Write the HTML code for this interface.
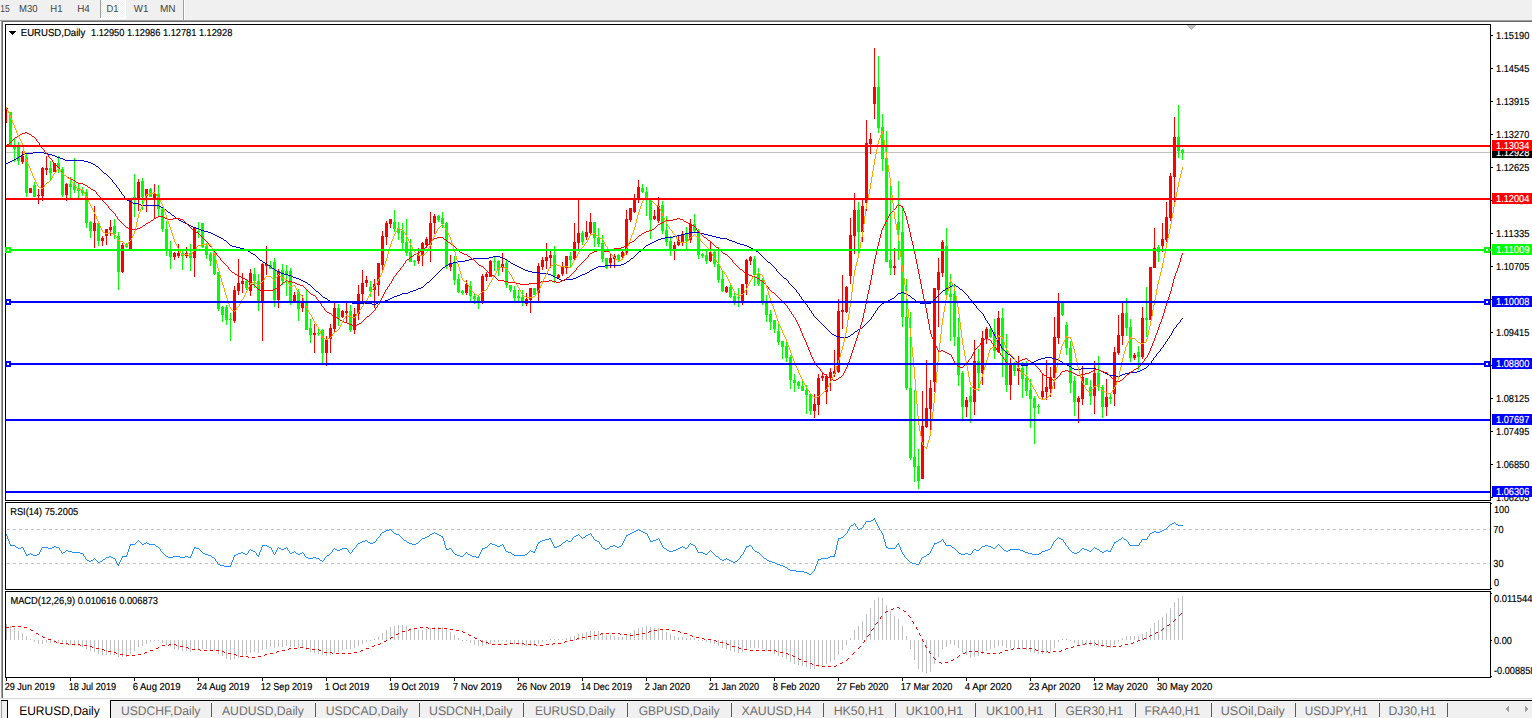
<!DOCTYPE html>
<html><head><meta charset="utf-8"><title>EURUSD,Daily</title>
<style>html,body{margin:0;padding:0;background:#fff;overflow:hidden}svg{display:block;font-family:"Liberation Sans",sans-serif}text{white-space:pre;text-rendering:geometricPrecision}</style>
</head><body>
<svg width="1532" height="718" viewBox="0 0 1532 718" shape-rendering="crispEdges" font-family="Liberation Sans, sans-serif"><rect x="0" y="0" width="1532" height="718" fill="#fff"/>
<rect x="0" y="0" width="1532" height="20" fill="#f0f0f0"/>
<rect x="0" y="20" width="1532" height="1" fill="#a0a0a0"/>
<rect x="2" y="21" width="1530" height="1" fill="#696969"/>
<rect x="0" y="21" width="1" height="678" fill="#fafafa"/>
<rect x="1" y="21" width="1" height="678" fill="#a0a0a0"/>
<rect x="2" y="22" width="1" height="677" fill="#696969"/>
<text x="0.3" y="12" font-size="10.17" fill="#444" textLength="9.4" lengthAdjust="spacingAndGlyphs">15</text>
<text x="19" y="12" font-size="10.17" fill="#444" textLength="18.6" lengthAdjust="spacingAndGlyphs">M30</text>
<text x="50.3" y="12" font-size="10.17" fill="#444" textLength="12.2" lengthAdjust="spacingAndGlyphs">H1</text>
<text x="77.2" y="12" font-size="10.17" fill="#444" textLength="12.6" lengthAdjust="spacingAndGlyphs">H4</text>
<rect x="100" y="0" width="1" height="18" fill="#a0a0a0"/>
<pattern id="ck" width="2" height="2" patternUnits="userSpaceOnUse"><rect width="2" height="2" fill="#f0f0f0"/><rect width="1" height="1" fill="#fff"/><rect x="1" y="1" width="1" height="1" fill="#fff"/></pattern>
<rect x="101" y="0" width="24" height="18" fill="url(#ck)"/>
<rect x="125" y="0" width="1" height="19" fill="#fff"/>
<rect x="100" y="18" width="26" height="1" fill="#fff"/>
<text x="106.6" y="12" font-size="10.17" fill="#444" textLength="12" lengthAdjust="spacingAndGlyphs">D1</text>
<text x="133.8" y="12" font-size="10.17" fill="#444" textLength="14.6" lengthAdjust="spacingAndGlyphs">W1</text>
<text x="160" y="12" font-size="10.17" fill="#444" textLength="15.6" lengthAdjust="spacingAndGlyphs">MN</text>
<rect x="183" y="0" width="1" height="20" fill="#a0a0a0"/>
<rect x="184" y="0" width="1" height="20" fill="#fff"/>
<rect x="5" y="24" width="1486" height="1" fill="#000"/>
<rect x="5" y="24" width="1" height="477" fill="#000"/>
<rect x="1490" y="24" width="1" height="477" fill="#000"/>
<rect x="5" y="500" width="1486" height="1" fill="#000"/>
<rect x="5" y="502" width="1486" height="1" fill="#000"/>
<rect x="5" y="502" width="1" height="88" fill="#000"/>
<rect x="1490" y="502" width="1" height="88" fill="#000"/>
<rect x="5" y="589" width="1486" height="1" fill="#000"/>
<rect x="5" y="591" width="1486" height="1" fill="#000"/>
<rect x="5" y="591" width="1" height="87" fill="#000"/>
<rect x="1490" y="591" width="1" height="87" fill="#000"/>
<rect x="5" y="677" width="1486" height="1" fill="#000"/>
<clipPath id="cm"><rect x="6" y="25" width="1484" height="475"/></clipPath>
<g clip-path="url(#cm)">
<rect x="6" y="152" width="1484" height="1" fill="#c0c0c0"/>
<rect x="6" y="109" width="1" height="14" fill="#ff0000"/>
<rect x="7" y="108" width="1" height="1" fill="#ff0000"/>
<rect x="10" y="112" width="1" height="35" fill="#00ff00"/>
<rect x="9" y="112" width="3" height="34" fill="#00ff00"/>
<rect x="14" y="138" width="1" height="24" fill="#00ff00"/>
<rect x="13" y="146" width="3" height="3" fill="#00ff00"/>
<rect x="18" y="142" width="1" height="23" fill="#00ff00"/>
<rect x="17" y="147" width="3" height="14" fill="#00ff00"/>
<rect x="22" y="151" width="1" height="13" fill="#ff0000"/>
<rect x="21" y="156" width="3" height="6" fill="#ff0000"/>
<rect x="26" y="154" width="1" height="43" fill="#00ff00"/>
<rect x="25" y="157" width="3" height="36" fill="#00ff00"/>
<rect x="30" y="188" width="1" height="5" fill="#ff0000"/>
<rect x="29" y="188" width="3" height="5" fill="#ff0000"/>
<rect x="34" y="182" width="1" height="15" fill="#00ff00"/>
<rect x="33" y="185" width="3" height="12" fill="#00ff00"/>
<rect x="38" y="189" width="1" height="15" fill="#ff0000"/>
<rect x="37" y="195" width="3" height="1" fill="#ff0000"/>
<rect x="42" y="167" width="1" height="34" fill="#ff0000"/>
<rect x="41" y="168" width="3" height="28" fill="#ff0000"/>
<rect x="46" y="156" width="1" height="19" fill="#ff0000"/>
<rect x="45" y="168" width="3" height="2" fill="#ff0000"/>
<rect x="50" y="161" width="1" height="19" fill="#00ff00"/>
<rect x="49" y="168" width="3" height="5" fill="#00ff00"/>
<rect x="54" y="163" width="1" height="9" fill="#ff0000"/>
<rect x="53" y="163" width="3" height="9" fill="#ff0000"/>
<rect x="58" y="156" width="1" height="17" fill="#00ff00"/>
<rect x="57" y="163" width="3" height="5" fill="#00ff00"/>
<rect x="62" y="167" width="1" height="30" fill="#00ff00"/>
<rect x="61" y="169" width="3" height="26" fill="#00ff00"/>
<rect x="66" y="183" width="1" height="18" fill="#ff0000"/>
<rect x="65" y="184" width="3" height="11" fill="#ff0000"/>
<rect x="70" y="177" width="1" height="21" fill="#00ff00"/>
<rect x="69" y="184" width="3" height="3" fill="#00ff00"/>
<rect x="74" y="158" width="1" height="35" fill="#00ff00"/>
<rect x="73" y="185" width="3" height="5" fill="#00ff00"/>
<rect x="78" y="184" width="1" height="14" fill="#00ff00"/>
<rect x="77" y="188" width="3" height="3" fill="#00ff00"/>
<rect x="82" y="187" width="1" height="9" fill="#00ff00"/>
<rect x="81" y="190" width="3" height="3" fill="#00ff00"/>
<rect x="86" y="189" width="1" height="39" fill="#00ff00"/>
<rect x="85" y="192" width="3" height="31" fill="#00ff00"/>
<rect x="90" y="221" width="1" height="17" fill="#00ff00"/>
<rect x="89" y="222" width="3" height="9" fill="#00ff00"/>
<rect x="94" y="206" width="1" height="42" fill="#ff0000"/>
<rect x="93" y="223" width="3" height="8" fill="#ff0000"/>
<rect x="98" y="223" width="1" height="23" fill="#00ff00"/>
<rect x="97" y="223" width="3" height="18" fill="#00ff00"/>
<rect x="102" y="236" width="1" height="10" fill="#ff0000"/>
<rect x="101" y="238" width="3" height="3" fill="#ff0000"/>
<rect x="106" y="229" width="1" height="16" fill="#ff0000"/>
<rect x="105" y="229" width="3" height="7" fill="#ff0000"/>
<rect x="110" y="220" width="1" height="16" fill="#ff0000"/>
<rect x="109" y="227" width="3" height="3" fill="#ff0000"/>
<rect x="114" y="219" width="1" height="20" fill="#00ff00"/>
<rect x="113" y="226" width="3" height="8" fill="#00ff00"/>
<rect x="118" y="232" width="1" height="58" fill="#00ff00"/>
<rect x="117" y="236" width="3" height="36" fill="#00ff00"/>
<rect x="122" y="243" width="1" height="30" fill="#ff0000"/>
<rect x="121" y="245" width="3" height="27" fill="#ff0000"/>
<rect x="126" y="243" width="1" height="5" fill="#00ff00"/>
<rect x="125" y="245" width="3" height="2" fill="#00ff00"/>
<rect x="130" y="200" width="1" height="49" fill="#ff0000"/>
<rect x="129" y="200" width="3" height="49" fill="#ff0000"/>
<rect x="134" y="174" width="1" height="43" fill="#00ff00"/>
<rect x="133" y="197" width="3" height="3" fill="#00ff00"/>
<rect x="138" y="179" width="1" height="32" fill="#ff0000"/>
<rect x="137" y="182" width="3" height="16" fill="#ff0000"/>
<rect x="142" y="178" width="1" height="32" fill="#00ff00"/>
<rect x="141" y="181" width="3" height="16" fill="#00ff00"/>
<rect x="146" y="189" width="1" height="23" fill="#ff0000"/>
<rect x="145" y="189" width="3" height="7" fill="#ff0000"/>
<rect x="150" y="188" width="1" height="9" fill="#00ff00"/>
<rect x="149" y="189" width="3" height="8" fill="#00ff00"/>
<rect x="154" y="184" width="1" height="34" fill="#ff0000"/>
<rect x="153" y="194" width="3" height="4" fill="#ff0000"/>
<rect x="158" y="185" width="1" height="31" fill="#00ff00"/>
<rect x="157" y="194" width="3" height="15" fill="#00ff00"/>
<rect x="162" y="207" width="1" height="25" fill="#00ff00"/>
<rect x="161" y="209" width="3" height="20" fill="#00ff00"/>
<rect x="166" y="221" width="1" height="35" fill="#00ff00"/>
<rect x="165" y="229" width="3" height="22" fill="#00ff00"/>
<rect x="170" y="241" width="1" height="28" fill="#00ff00"/>
<rect x="169" y="251" width="3" height="6" fill="#00ff00"/>
<rect x="174" y="252" width="1" height="8" fill="#ff0000"/>
<rect x="173" y="253" width="3" height="4" fill="#ff0000"/>
<rect x="178" y="244" width="1" height="14" fill="#ff0000"/>
<rect x="177" y="253" width="3" height="3" fill="#ff0000"/>
<rect x="182" y="251" width="1" height="19" fill="#00ff00"/>
<rect x="181" y="253" width="3" height="3" fill="#00ff00"/>
<rect x="186" y="247" width="1" height="11" fill="#ff0000"/>
<rect x="185" y="253" width="3" height="3" fill="#ff0000"/>
<rect x="190" y="244" width="1" height="27" fill="#00ff00"/>
<rect x="189" y="253" width="3" height="5" fill="#00ff00"/>
<rect x="194" y="227" width="1" height="50" fill="#ff0000"/>
<rect x="193" y="227" width="3" height="31" fill="#ff0000"/>
<rect x="198" y="222" width="1" height="16" fill="#00ff00"/>
<rect x="197" y="231" width="3" height="1" fill="#00ff00"/>
<rect x="202" y="223" width="1" height="25" fill="#00ff00"/>
<rect x="201" y="223" width="3" height="24" fill="#00ff00"/>
<rect x="206" y="243" width="1" height="16" fill="#00ff00"/>
<rect x="205" y="246" width="3" height="9" fill="#00ff00"/>
<rect x="210" y="252" width="1" height="14" fill="#00ff00"/>
<rect x="209" y="254" width="3" height="7" fill="#00ff00"/>
<rect x="214" y="252" width="1" height="23" fill="#00ff00"/>
<rect x="213" y="252" width="3" height="22" fill="#00ff00"/>
<rect x="218" y="272" width="1" height="39" fill="#00ff00"/>
<rect x="217" y="272" width="3" height="37" fill="#00ff00"/>
<rect x="222" y="306" width="1" height="16" fill="#00ff00"/>
<rect x="221" y="307" width="3" height="8" fill="#00ff00"/>
<rect x="226" y="305" width="1" height="20" fill="#00ff00"/>
<rect x="225" y="307" width="3" height="13" fill="#00ff00"/>
<rect x="230" y="313" width="1" height="28" fill="#00ff00"/>
<rect x="229" y="319" width="3" height="1" fill="#00ff00"/>
<rect x="234" y="286" width="1" height="37" fill="#ff0000"/>
<rect x="233" y="290" width="3" height="31" fill="#ff0000"/>
<rect x="238" y="259" width="1" height="36" fill="#ff0000"/>
<rect x="237" y="283" width="3" height="8" fill="#ff0000"/>
<rect x="242" y="273" width="1" height="20" fill="#ff0000"/>
<rect x="241" y="281" width="3" height="3" fill="#ff0000"/>
<rect x="246" y="279" width="1" height="11" fill="#00ff00"/>
<rect x="245" y="281" width="3" height="7" fill="#00ff00"/>
<rect x="250" y="269" width="1" height="27" fill="#ff0000"/>
<rect x="249" y="273" width="3" height="18" fill="#ff0000"/>
<rect x="254" y="268" width="1" height="20" fill="#00ff00"/>
<rect x="253" y="274" width="3" height="7" fill="#00ff00"/>
<rect x="258" y="274" width="1" height="37" fill="#00ff00"/>
<rect x="257" y="281" width="3" height="20" fill="#00ff00"/>
<rect x="262" y="263" width="1" height="78" fill="#ff0000"/>
<rect x="261" y="264" width="3" height="37" fill="#ff0000"/>
<rect x="266" y="246" width="1" height="29" fill="#ff0000"/>
<rect x="265" y="264" width="3" height="2" fill="#ff0000"/>
<rect x="270" y="261" width="1" height="8" fill="#00ff00"/>
<rect x="269" y="265" width="3" height="4" fill="#00ff00"/>
<rect x="274" y="258" width="1" height="49" fill="#00ff00"/>
<rect x="273" y="262" width="3" height="38" fill="#00ff00"/>
<rect x="278" y="269" width="1" height="39" fill="#ff0000"/>
<rect x="277" y="271" width="3" height="29" fill="#ff0000"/>
<rect x="282" y="264" width="1" height="21" fill="#00ff00"/>
<rect x="281" y="270" width="3" height="11" fill="#00ff00"/>
<rect x="286" y="265" width="1" height="31" fill="#00ff00"/>
<rect x="285" y="271" width="3" height="4" fill="#00ff00"/>
<rect x="290" y="268" width="1" height="37" fill="#00ff00"/>
<rect x="289" y="271" width="3" height="30" fill="#00ff00"/>
<rect x="294" y="292" width="1" height="9" fill="#ff0000"/>
<rect x="293" y="295" width="3" height="6" fill="#ff0000"/>
<rect x="298" y="289" width="1" height="32" fill="#00ff00"/>
<rect x="297" y="292" width="3" height="17" fill="#00ff00"/>
<rect x="302" y="295" width="1" height="17" fill="#ff0000"/>
<rect x="301" y="302" width="3" height="6" fill="#ff0000"/>
<rect x="306" y="290" width="1" height="40" fill="#00ff00"/>
<rect x="305" y="303" width="3" height="27" fill="#00ff00"/>
<rect x="310" y="319" width="1" height="24" fill="#00ff00"/>
<rect x="309" y="328" width="3" height="7" fill="#00ff00"/>
<rect x="314" y="324" width="1" height="29" fill="#ff0000"/>
<rect x="313" y="333" width="3" height="2" fill="#ff0000"/>
<rect x="318" y="328" width="1" height="8" fill="#00ff00"/>
<rect x="317" y="333" width="3" height="1" fill="#00ff00"/>
<rect x="322" y="329" width="1" height="35" fill="#00ff00"/>
<rect x="321" y="330" width="3" height="23" fill="#00ff00"/>
<rect x="326" y="336" width="1" height="30" fill="#ff0000"/>
<rect x="325" y="339" width="3" height="14" fill="#ff0000"/>
<rect x="330" y="324" width="1" height="29" fill="#ff0000"/>
<rect x="329" y="328" width="3" height="11" fill="#ff0000"/>
<rect x="334" y="303" width="1" height="29" fill="#ff0000"/>
<rect x="333" y="308" width="3" height="21" fill="#ff0000"/>
<rect x="338" y="304" width="1" height="22" fill="#00ff00"/>
<rect x="337" y="308" width="3" height="10" fill="#00ff00"/>
<rect x="342" y="310" width="1" height="8" fill="#ff0000"/>
<rect x="341" y="311" width="3" height="6" fill="#ff0000"/>
<rect x="346" y="303" width="1" height="20" fill="#ff0000"/>
<rect x="345" y="311" width="3" height="2" fill="#ff0000"/>
<rect x="350" y="305" width="1" height="27" fill="#00ff00"/>
<rect x="349" y="311" width="3" height="19" fill="#00ff00"/>
<rect x="354" y="308" width="1" height="26" fill="#ff0000"/>
<rect x="353" y="314" width="3" height="16" fill="#ff0000"/>
<rect x="358" y="285" width="1" height="35" fill="#ff0000"/>
<rect x="357" y="294" width="3" height="20" fill="#ff0000"/>
<rect x="362" y="270" width="1" height="31" fill="#ff0000"/>
<rect x="361" y="283" width="3" height="11" fill="#ff0000"/>
<rect x="366" y="276" width="1" height="11" fill="#ff0000"/>
<rect x="365" y="280" width="3" height="3" fill="#ff0000"/>
<rect x="370" y="281" width="1" height="16" fill="#00ff00"/>
<rect x="369" y="287" width="3" height="4" fill="#00ff00"/>
<rect x="374" y="279" width="1" height="29" fill="#ff0000"/>
<rect x="373" y="284" width="3" height="6" fill="#ff0000"/>
<rect x="378" y="263" width="1" height="33" fill="#ff0000"/>
<rect x="377" y="263" width="3" height="22" fill="#ff0000"/>
<rect x="382" y="231" width="1" height="39" fill="#ff0000"/>
<rect x="381" y="236" width="3" height="29" fill="#ff0000"/>
<rect x="386" y="221" width="1" height="24" fill="#ff0000"/>
<rect x="385" y="223" width="3" height="14" fill="#ff0000"/>
<rect x="390" y="219" width="1" height="9" fill="#ff0000"/>
<rect x="389" y="219" width="3" height="5" fill="#ff0000"/>
<rect x="394" y="210" width="1" height="22" fill="#00ff00"/>
<rect x="393" y="222" width="3" height="7" fill="#00ff00"/>
<rect x="398" y="222" width="1" height="18" fill="#00ff00"/>
<rect x="397" y="228" width="3" height="5" fill="#00ff00"/>
<rect x="402" y="223" width="1" height="26" fill="#00ff00"/>
<rect x="401" y="231" width="3" height="12" fill="#00ff00"/>
<rect x="406" y="219" width="1" height="37" fill="#00ff00"/>
<rect x="405" y="242" width="3" height="11" fill="#00ff00"/>
<rect x="410" y="239" width="1" height="23" fill="#00ff00"/>
<rect x="409" y="252" width="3" height="10" fill="#00ff00"/>
<rect x="414" y="260" width="1" height="6" fill="#00ff00"/>
<rect x="413" y="261" width="3" height="1" fill="#00ff00"/>
<rect x="418" y="248" width="1" height="16" fill="#ff0000"/>
<rect x="417" y="255" width="3" height="6" fill="#ff0000"/>
<rect x="422" y="242" width="1" height="24" fill="#ff0000"/>
<rect x="421" y="243" width="3" height="13" fill="#ff0000"/>
<rect x="426" y="237" width="1" height="11" fill="#ff0000"/>
<rect x="425" y="239" width="3" height="6" fill="#ff0000"/>
<rect x="430" y="212" width="1" height="50" fill="#ff0000"/>
<rect x="429" y="223" width="3" height="22" fill="#ff0000"/>
<rect x="434" y="214" width="1" height="20" fill="#ff0000"/>
<rect x="433" y="216" width="3" height="7" fill="#ff0000"/>
<rect x="438" y="215" width="1" height="7" fill="#00ff00"/>
<rect x="437" y="216" width="3" height="4" fill="#00ff00"/>
<rect x="442" y="212" width="1" height="16" fill="#00ff00"/>
<rect x="441" y="218" width="3" height="6" fill="#00ff00"/>
<rect x="446" y="222" width="1" height="47" fill="#00ff00"/>
<rect x="445" y="223" width="3" height="43" fill="#00ff00"/>
<rect x="450" y="255" width="1" height="16" fill="#ff0000"/>
<rect x="449" y="263" width="3" height="4" fill="#ff0000"/>
<rect x="454" y="256" width="1" height="29" fill="#00ff00"/>
<rect x="453" y="263" width="3" height="17" fill="#00ff00"/>
<rect x="458" y="274" width="1" height="19" fill="#00ff00"/>
<rect x="457" y="279" width="3" height="13" fill="#00ff00"/>
<rect x="462" y="290" width="1" height="5" fill="#00ff00"/>
<rect x="461" y="291" width="3" height="2" fill="#00ff00"/>
<rect x="466" y="280" width="1" height="15" fill="#ff0000"/>
<rect x="465" y="284" width="3" height="9" fill="#ff0000"/>
<rect x="470" y="281" width="1" height="20" fill="#00ff00"/>
<rect x="469" y="286" width="3" height="10" fill="#00ff00"/>
<rect x="474" y="293" width="1" height="11" fill="#00ff00"/>
<rect x="473" y="296" width="3" height="3" fill="#00ff00"/>
<rect x="478" y="295" width="1" height="14" fill="#00ff00"/>
<rect x="477" y="297" width="3" height="4" fill="#00ff00"/>
<rect x="482" y="274" width="1" height="30" fill="#ff0000"/>
<rect x="481" y="276" width="3" height="25" fill="#ff0000"/>
<rect x="486" y="272" width="1" height="9" fill="#ff0000"/>
<rect x="485" y="274" width="3" height="3" fill="#ff0000"/>
<rect x="490" y="260" width="1" height="17" fill="#ff0000"/>
<rect x="489" y="261" width="3" height="16" fill="#ff0000"/>
<rect x="494" y="257" width="1" height="14" fill="#00ff00"/>
<rect x="493" y="261" width="3" height="1" fill="#00ff00"/>
<rect x="498" y="260" width="1" height="16" fill="#00ff00"/>
<rect x="497" y="261" width="3" height="9" fill="#00ff00"/>
<rect x="502" y="253" width="1" height="19" fill="#ff0000"/>
<rect x="501" y="264" width="3" height="4" fill="#ff0000"/>
<rect x="506" y="259" width="1" height="29" fill="#00ff00"/>
<rect x="505" y="263" width="3" height="22" fill="#00ff00"/>
<rect x="510" y="285" width="1" height="7" fill="#00ff00"/>
<rect x="509" y="285" width="3" height="5" fill="#00ff00"/>
<rect x="514" y="286" width="1" height="15" fill="#00ff00"/>
<rect x="513" y="290" width="3" height="8" fill="#00ff00"/>
<rect x="518" y="290" width="1" height="11" fill="#00ff00"/>
<rect x="517" y="296" width="3" height="2" fill="#00ff00"/>
<rect x="522" y="290" width="1" height="16" fill="#00ff00"/>
<rect x="521" y="297" width="3" height="4" fill="#00ff00"/>
<rect x="526" y="293" width="1" height="13" fill="#ff0000"/>
<rect x="525" y="299" width="3" height="5" fill="#ff0000"/>
<rect x="530" y="288" width="1" height="25" fill="#ff0000"/>
<rect x="529" y="288" width="3" height="12" fill="#ff0000"/>
<rect x="534" y="288" width="1" height="7" fill="#00ff00"/>
<rect x="533" y="288" width="3" height="7" fill="#00ff00"/>
<rect x="538" y="263" width="1" height="38" fill="#ff0000"/>
<rect x="537" y="266" width="3" height="27" fill="#ff0000"/>
<rect x="542" y="257" width="1" height="13" fill="#ff0000"/>
<rect x="541" y="260" width="3" height="7" fill="#ff0000"/>
<rect x="546" y="243" width="1" height="26" fill="#ff0000"/>
<rect x="545" y="257" width="3" height="4" fill="#ff0000"/>
<rect x="550" y="251" width="1" height="17" fill="#ff0000"/>
<rect x="549" y="255" width="3" height="3" fill="#ff0000"/>
<rect x="554" y="246" width="1" height="37" fill="#00ff00"/>
<rect x="553" y="255" width="3" height="21" fill="#00ff00"/>
<rect x="558" y="274" width="1" height="5" fill="#ff0000"/>
<rect x="557" y="275" width="3" height="3" fill="#ff0000"/>
<rect x="562" y="262" width="1" height="14" fill="#ff0000"/>
<rect x="561" y="267" width="3" height="7" fill="#ff0000"/>
<rect x="566" y="256" width="1" height="18" fill="#ff0000"/>
<rect x="565" y="256" width="3" height="12" fill="#ff0000"/>
<rect x="570" y="252" width="1" height="15" fill="#00ff00"/>
<rect x="569" y="256" width="3" height="4" fill="#00ff00"/>
<rect x="574" y="223" width="1" height="37" fill="#ff0000"/>
<rect x="573" y="242" width="3" height="17" fill="#ff0000"/>
<rect x="578" y="200" width="1" height="50" fill="#ff0000"/>
<rect x="577" y="233" width="3" height="10" fill="#ff0000"/>
<rect x="582" y="231" width="1" height="14" fill="#00ff00"/>
<rect x="581" y="233" width="3" height="9" fill="#00ff00"/>
<rect x="586" y="221" width="1" height="19" fill="#ff0000"/>
<rect x="585" y="232" width="3" height="5" fill="#ff0000"/>
<rect x="590" y="213" width="1" height="21" fill="#ff0000"/>
<rect x="589" y="222" width="3" height="11" fill="#ff0000"/>
<rect x="594" y="222" width="1" height="25" fill="#00ff00"/>
<rect x="593" y="222" width="3" height="16" fill="#00ff00"/>
<rect x="598" y="228" width="1" height="19" fill="#00ff00"/>
<rect x="597" y="238" width="3" height="6" fill="#00ff00"/>
<rect x="602" y="235" width="1" height="27" fill="#00ff00"/>
<rect x="601" y="243" width="3" height="16" fill="#00ff00"/>
<rect x="606" y="258" width="1" height="11" fill="#00ff00"/>
<rect x="605" y="258" width="3" height="10" fill="#00ff00"/>
<rect x="610" y="254" width="1" height="14" fill="#ff0000"/>
<rect x="609" y="258" width="3" height="5" fill="#ff0000"/>
<rect x="614" y="254" width="1" height="14" fill="#ff0000"/>
<rect x="613" y="256" width="3" height="3" fill="#ff0000"/>
<rect x="618" y="254" width="1" height="8" fill="#00ff00"/>
<rect x="617" y="255" width="3" height="5" fill="#00ff00"/>
<rect x="622" y="251" width="1" height="9" fill="#ff0000"/>
<rect x="621" y="252" width="3" height="5" fill="#ff0000"/>
<rect x="626" y="210" width="1" height="45" fill="#ff0000"/>
<rect x="625" y="219" width="3" height="34" fill="#ff0000"/>
<rect x="630" y="208" width="1" height="14" fill="#ff0000"/>
<rect x="629" y="208" width="3" height="12" fill="#ff0000"/>
<rect x="634" y="194" width="1" height="19" fill="#ff0000"/>
<rect x="633" y="200" width="3" height="12" fill="#ff0000"/>
<rect x="638" y="180" width="1" height="23" fill="#ff0000"/>
<rect x="637" y="187" width="3" height="12" fill="#ff0000"/>
<rect x="642" y="184" width="1" height="9" fill="#00ff00"/>
<rect x="641" y="188" width="3" height="4" fill="#00ff00"/>
<rect x="646" y="187" width="1" height="29" fill="#00ff00"/>
<rect x="645" y="192" width="3" height="6" fill="#00ff00"/>
<rect x="650" y="199" width="1" height="40" fill="#00ff00"/>
<rect x="649" y="200" width="3" height="20" fill="#00ff00"/>
<rect x="654" y="210" width="1" height="10" fill="#ff0000"/>
<rect x="653" y="216" width="3" height="3" fill="#ff0000"/>
<rect x="658" y="197" width="1" height="26" fill="#ff0000"/>
<rect x="657" y="206" width="3" height="15" fill="#ff0000"/>
<rect x="662" y="201" width="1" height="33" fill="#00ff00"/>
<rect x="661" y="205" width="3" height="26" fill="#00ff00"/>
<rect x="666" y="216" width="1" height="30" fill="#00ff00"/>
<rect x="665" y="230" width="3" height="12" fill="#00ff00"/>
<rect x="670" y="236" width="1" height="20" fill="#00ff00"/>
<rect x="669" y="241" width="3" height="8" fill="#00ff00"/>
<rect x="674" y="242" width="1" height="18" fill="#ff0000"/>
<rect x="673" y="245" width="3" height="4" fill="#ff0000"/>
<rect x="678" y="236" width="1" height="10" fill="#ff0000"/>
<rect x="677" y="240" width="3" height="5" fill="#ff0000"/>
<rect x="682" y="231" width="1" height="15" fill="#ff0000"/>
<rect x="681" y="234" width="3" height="8" fill="#ff0000"/>
<rect x="686" y="227" width="1" height="22" fill="#00ff00"/>
<rect x="685" y="234" width="3" height="7" fill="#00ff00"/>
<rect x="690" y="219" width="1" height="24" fill="#ff0000"/>
<rect x="689" y="224" width="3" height="16" fill="#ff0000"/>
<rect x="694" y="214" width="1" height="18" fill="#00ff00"/>
<rect x="693" y="224" width="3" height="7" fill="#00ff00"/>
<rect x="698" y="229" width="1" height="30" fill="#00ff00"/>
<rect x="697" y="231" width="3" height="24" fill="#00ff00"/>
<rect x="702" y="253" width="1" height="5" fill="#00ff00"/>
<rect x="701" y="254" width="3" height="2" fill="#00ff00"/>
<rect x="706" y="251" width="1" height="13" fill="#00ff00"/>
<rect x="705" y="255" width="3" height="6" fill="#00ff00"/>
<rect x="710" y="242" width="1" height="20" fill="#ff0000"/>
<rect x="709" y="252" width="3" height="9" fill="#ff0000"/>
<rect x="714" y="251" width="1" height="16" fill="#00ff00"/>
<rect x="713" y="252" width="3" height="12" fill="#00ff00"/>
<rect x="718" y="247" width="1" height="36" fill="#00ff00"/>
<rect x="717" y="264" width="3" height="16" fill="#00ff00"/>
<rect x="722" y="271" width="1" height="21" fill="#00ff00"/>
<rect x="721" y="279" width="3" height="12" fill="#00ff00"/>
<rect x="726" y="286" width="1" height="7" fill="#ff0000"/>
<rect x="725" y="287" width="3" height="5" fill="#ff0000"/>
<rect x="730" y="284" width="1" height="14" fill="#00ff00"/>
<rect x="729" y="287" width="3" height="10" fill="#00ff00"/>
<rect x="734" y="292" width="1" height="13" fill="#00ff00"/>
<rect x="733" y="296" width="3" height="7" fill="#00ff00"/>
<rect x="738" y="288" width="1" height="19" fill="#00ff00"/>
<rect x="737" y="297" width="3" height="1" fill="#00ff00"/>
<rect x="742" y="284" width="1" height="21" fill="#ff0000"/>
<rect x="741" y="284" width="3" height="19" fill="#ff0000"/>
<rect x="746" y="259" width="1" height="36" fill="#ff0000"/>
<rect x="745" y="260" width="3" height="24" fill="#ff0000"/>
<rect x="750" y="256" width="1" height="9" fill="#ff0000"/>
<rect x="749" y="257" width="3" height="4" fill="#ff0000"/>
<rect x="754" y="256" width="1" height="30" fill="#00ff00"/>
<rect x="753" y="259" width="3" height="16" fill="#00ff00"/>
<rect x="758" y="268" width="1" height="18" fill="#00ff00"/>
<rect x="757" y="273" width="3" height="11" fill="#00ff00"/>
<rect x="762" y="278" width="1" height="27" fill="#00ff00"/>
<rect x="761" y="280" width="3" height="21" fill="#00ff00"/>
<rect x="766" y="295" width="1" height="27" fill="#00ff00"/>
<rect x="765" y="302" width="3" height="13" fill="#00ff00"/>
<rect x="770" y="310" width="1" height="20" fill="#00ff00"/>
<rect x="769" y="314" width="3" height="8" fill="#00ff00"/>
<rect x="774" y="320" width="1" height="13" fill="#00ff00"/>
<rect x="773" y="320" width="3" height="9" fill="#00ff00"/>
<rect x="778" y="324" width="1" height="21" fill="#00ff00"/>
<rect x="777" y="331" width="3" height="11" fill="#00ff00"/>
<rect x="782" y="341" width="1" height="18" fill="#00ff00"/>
<rect x="781" y="341" width="3" height="6" fill="#00ff00"/>
<rect x="786" y="341" width="1" height="21" fill="#00ff00"/>
<rect x="785" y="346" width="3" height="12" fill="#00ff00"/>
<rect x="790" y="355" width="1" height="34" fill="#00ff00"/>
<rect x="789" y="357" width="3" height="23" fill="#00ff00"/>
<rect x="794" y="374" width="1" height="18" fill="#00ff00"/>
<rect x="793" y="380" width="3" height="3" fill="#00ff00"/>
<rect x="798" y="381" width="1" height="8" fill="#00ff00"/>
<rect x="797" y="382" width="3" height="4" fill="#00ff00"/>
<rect x="802" y="380" width="1" height="11" fill="#00ff00"/>
<rect x="801" y="386" width="3" height="5" fill="#00ff00"/>
<rect x="806" y="385" width="1" height="29" fill="#00ff00"/>
<rect x="805" y="390" width="3" height="5" fill="#00ff00"/>
<rect x="810" y="393" width="1" height="22" fill="#00ff00"/>
<rect x="809" y="394" width="3" height="17" fill="#00ff00"/>
<rect x="814" y="394" width="1" height="24" fill="#ff0000"/>
<rect x="813" y="404" width="3" height="7" fill="#ff0000"/>
<rect x="818" y="374" width="1" height="41" fill="#ff0000"/>
<rect x="817" y="378" width="3" height="27" fill="#ff0000"/>
<rect x="822" y="372" width="1" height="9" fill="#ff0000"/>
<rect x="821" y="376" width="3" height="2" fill="#ff0000"/>
<rect x="826" y="374" width="1" height="30" fill="#ff0000"/>
<rect x="825" y="376" width="3" height="16" fill="#ff0000"/>
<rect x="830" y="368" width="1" height="23" fill="#ff0000"/>
<rect x="829" y="372" width="3" height="6" fill="#ff0000"/>
<rect x="834" y="350" width="1" height="27" fill="#ff0000"/>
<rect x="833" y="371" width="3" height="3" fill="#ff0000"/>
<rect x="838" y="299" width="1" height="74" fill="#ff0000"/>
<rect x="837" y="311" width="3" height="61" fill="#ff0000"/>
<rect x="842" y="275" width="1" height="54" fill="#ff0000"/>
<rect x="841" y="310" width="3" height="2" fill="#ff0000"/>
<rect x="846" y="286" width="1" height="27" fill="#ff0000"/>
<rect x="845" y="287" width="3" height="25" fill="#ff0000"/>
<rect x="850" y="218" width="1" height="66" fill="#ff0000"/>
<rect x="849" y="235" width="3" height="41" fill="#ff0000"/>
<rect x="854" y="193" width="1" height="61" fill="#ff0000"/>
<rect x="853" y="210" width="3" height="26" fill="#ff0000"/>
<rect x="858" y="202" width="1" height="51" fill="#00ff00"/>
<rect x="857" y="210" width="3" height="22" fill="#00ff00"/>
<rect x="862" y="200" width="1" height="42" fill="#ff0000"/>
<rect x="861" y="206" width="3" height="26" fill="#ff0000"/>
<rect x="866" y="120" width="1" height="91" fill="#ff0000"/>
<rect x="865" y="143" width="3" height="60" fill="#ff0000"/>
<rect x="870" y="133" width="1" height="21" fill="#ff0000"/>
<rect x="869" y="139" width="3" height="5" fill="#ff0000"/>
<rect x="874" y="48" width="1" height="71" fill="#ff0000"/>
<rect x="873" y="87" width="3" height="17" fill="#ff0000"/>
<rect x="878" y="56" width="1" height="77" fill="#00ff00"/>
<rect x="877" y="87" width="3" height="41" fill="#00ff00"/>
<rect x="882" y="114" width="1" height="57" fill="#00ff00"/>
<rect x="881" y="127" width="3" height="32" fill="#00ff00"/>
<rect x="886" y="131" width="1" height="131" fill="#00ff00"/>
<rect x="885" y="158" width="3" height="104" fill="#00ff00"/>
<rect x="890" y="186" width="1" height="89" fill="#00ff00"/>
<rect x="889" y="260" width="3" height="8" fill="#00ff00"/>
<rect x="894" y="248" width="1" height="27" fill="#ff0000"/>
<rect x="893" y="266" width="3" height="2" fill="#ff0000"/>
<rect x="898" y="181" width="1" height="79" fill="#00ff00"/>
<rect x="897" y="222" width="3" height="8" fill="#00ff00"/>
<rect x="902" y="206" width="1" height="121" fill="#00ff00"/>
<rect x="901" y="232" width="3" height="85" fill="#00ff00"/>
<rect x="906" y="279" width="1" height="111" fill="#00ff00"/>
<rect x="905" y="317" width="3" height="71" fill="#00ff00"/>
<rect x="910" y="312" width="1" height="148" fill="#00ff00"/>
<rect x="909" y="388" width="3" height="70" fill="#00ff00"/>
<rect x="914" y="390" width="1" height="92" fill="#00ff00"/>
<rect x="913" y="457" width="3" height="10" fill="#00ff00"/>
<rect x="918" y="449" width="1" height="40" fill="#00ff00"/>
<rect x="917" y="466" width="3" height="15" fill="#00ff00"/>
<rect x="922" y="391" width="1" height="88" fill="#ff0000"/>
<rect x="921" y="426" width="3" height="53" fill="#ff0000"/>
<rect x="926" y="360" width="1" height="68" fill="#ff0000"/>
<rect x="925" y="408" width="3" height="19" fill="#ff0000"/>
<rect x="930" y="380" width="1" height="50" fill="#ff0000"/>
<rect x="929" y="388" width="3" height="21" fill="#ff0000"/>
<rect x="934" y="288" width="1" height="104" fill="#ff0000"/>
<rect x="933" y="288" width="3" height="94" fill="#ff0000"/>
<rect x="938" y="258" width="1" height="69" fill="#ff0000"/>
<rect x="937" y="272" width="3" height="18" fill="#ff0000"/>
<rect x="942" y="240" width="1" height="37" fill="#ff0000"/>
<rect x="941" y="242" width="3" height="31" fill="#ff0000"/>
<rect x="946" y="228" width="1" height="67" fill="#00ff00"/>
<rect x="945" y="246" width="3" height="49" fill="#00ff00"/>
<rect x="950" y="274" width="1" height="67" fill="#00ff00"/>
<rect x="949" y="294" width="3" height="3" fill="#00ff00"/>
<rect x="954" y="284" width="1" height="62" fill="#00ff00"/>
<rect x="953" y="294" width="3" height="43" fill="#00ff00"/>
<rect x="958" y="318" width="1" height="68" fill="#00ff00"/>
<rect x="957" y="337" width="3" height="38" fill="#00ff00"/>
<rect x="962" y="371" width="1" height="49" fill="#00ff00"/>
<rect x="961" y="373" width="3" height="34" fill="#00ff00"/>
<rect x="966" y="397" width="1" height="20" fill="#ff0000"/>
<rect x="965" y="400" width="3" height="7" fill="#ff0000"/>
<rect x="970" y="387" width="1" height="36" fill="#00ff00"/>
<rect x="969" y="396" width="3" height="6" fill="#00ff00"/>
<rect x="974" y="340" width="1" height="75" fill="#ff0000"/>
<rect x="973" y="361" width="3" height="41" fill="#ff0000"/>
<rect x="978" y="349" width="1" height="42" fill="#00ff00"/>
<rect x="977" y="361" width="3" height="12" fill="#00ff00"/>
<rect x="982" y="331" width="1" height="54" fill="#ff0000"/>
<rect x="981" y="338" width="3" height="35" fill="#ff0000"/>
<rect x="986" y="327" width="1" height="17" fill="#ff0000"/>
<rect x="985" y="329" width="3" height="9" fill="#ff0000"/>
<rect x="990" y="328" width="1" height="10" fill="#00ff00"/>
<rect x="989" y="329" width="3" height="8" fill="#00ff00"/>
<rect x="994" y="319" width="1" height="40" fill="#00ff00"/>
<rect x="993" y="332" width="3" height="19" fill="#00ff00"/>
<rect x="998" y="311" width="1" height="42" fill="#ff0000"/>
<rect x="997" y="318" width="3" height="34" fill="#ff0000"/>
<rect x="1002" y="308" width="1" height="69" fill="#00ff00"/>
<rect x="1001" y="318" width="3" height="33" fill="#00ff00"/>
<rect x="1006" y="334" width="1" height="58" fill="#00ff00"/>
<rect x="1005" y="351" width="3" height="34" fill="#00ff00"/>
<rect x="1010" y="358" width="1" height="42" fill="#ff0000"/>
<rect x="1009" y="364" width="3" height="21" fill="#ff0000"/>
<rect x="1014" y="362" width="1" height="14" fill="#00ff00"/>
<rect x="1013" y="365" width="3" height="6" fill="#00ff00"/>
<rect x="1018" y="356" width="1" height="29" fill="#ff0000"/>
<rect x="1017" y="368" width="3" height="3" fill="#ff0000"/>
<rect x="1022" y="362" width="1" height="36" fill="#00ff00"/>
<rect x="1021" y="368" width="3" height="11" fill="#00ff00"/>
<rect x="1026" y="361" width="1" height="35" fill="#00ff00"/>
<rect x="1025" y="378" width="3" height="13" fill="#00ff00"/>
<rect x="1030" y="379" width="1" height="49" fill="#00ff00"/>
<rect x="1029" y="390" width="3" height="9" fill="#00ff00"/>
<rect x="1034" y="396" width="1" height="48" fill="#00ff00"/>
<rect x="1033" y="398" width="3" height="10" fill="#00ff00"/>
<rect x="1038" y="404" width="1" height="10" fill="#00ff00"/>
<rect x="1037" y="406" width="3" height="1" fill="#00ff00"/>
<rect x="1042" y="374" width="1" height="26" fill="#ff0000"/>
<rect x="1041" y="391" width="3" height="6" fill="#ff0000"/>
<rect x="1046" y="360" width="1" height="40" fill="#ff0000"/>
<rect x="1045" y="387" width="3" height="5" fill="#ff0000"/>
<rect x="1050" y="367" width="1" height="30" fill="#ff0000"/>
<rect x="1049" y="377" width="3" height="12" fill="#ff0000"/>
<rect x="1054" y="317" width="1" height="72" fill="#ff0000"/>
<rect x="1053" y="337" width="3" height="41" fill="#ff0000"/>
<rect x="1058" y="293" width="1" height="51" fill="#ff0000"/>
<rect x="1057" y="303" width="3" height="35" fill="#ff0000"/>
<rect x="1062" y="303" width="1" height="13" fill="#00ff00"/>
<rect x="1061" y="303" width="3" height="12" fill="#00ff00"/>
<rect x="1066" y="322" width="1" height="33" fill="#00ff00"/>
<rect x="1065" y="325" width="3" height="23" fill="#00ff00"/>
<rect x="1070" y="341" width="1" height="52" fill="#00ff00"/>
<rect x="1069" y="348" width="3" height="35" fill="#00ff00"/>
<rect x="1074" y="376" width="1" height="40" fill="#00ff00"/>
<rect x="1073" y="381" width="3" height="21" fill="#00ff00"/>
<rect x="1078" y="396" width="1" height="27" fill="#ff0000"/>
<rect x="1077" y="398" width="3" height="4" fill="#ff0000"/>
<rect x="1082" y="366" width="1" height="39" fill="#ff0000"/>
<rect x="1081" y="377" width="3" height="22" fill="#ff0000"/>
<rect x="1086" y="378" width="1" height="7" fill="#00ff00"/>
<rect x="1085" y="378" width="3" height="7" fill="#00ff00"/>
<rect x="1090" y="380" width="1" height="25" fill="#00ff00"/>
<rect x="1089" y="387" width="3" height="9" fill="#00ff00"/>
<rect x="1094" y="361" width="1" height="53" fill="#ff0000"/>
<rect x="1093" y="373" width="3" height="23" fill="#ff0000"/>
<rect x="1098" y="356" width="1" height="35" fill="#00ff00"/>
<rect x="1097" y="373" width="3" height="14" fill="#00ff00"/>
<rect x="1102" y="385" width="1" height="33" fill="#00ff00"/>
<rect x="1101" y="387" width="3" height="20" fill="#00ff00"/>
<rect x="1106" y="379" width="1" height="37" fill="#ff0000"/>
<rect x="1105" y="397" width="3" height="10" fill="#ff0000"/>
<rect x="1110" y="394" width="1" height="10" fill="#00ff00"/>
<rect x="1109" y="397" width="3" height="2" fill="#00ff00"/>
<rect x="1114" y="347" width="1" height="59" fill="#ff0000"/>
<rect x="1113" y="352" width="3" height="42" fill="#ff0000"/>
<rect x="1118" y="315" width="1" height="40" fill="#ff0000"/>
<rect x="1117" y="335" width="3" height="18" fill="#ff0000"/>
<rect x="1122" y="303" width="1" height="42" fill="#ff0000"/>
<rect x="1121" y="313" width="3" height="23" fill="#ff0000"/>
<rect x="1126" y="298" width="1" height="38" fill="#00ff00"/>
<rect x="1125" y="313" width="3" height="15" fill="#00ff00"/>
<rect x="1130" y="319" width="1" height="43" fill="#00ff00"/>
<rect x="1129" y="327" width="3" height="31" fill="#00ff00"/>
<rect x="1134" y="353" width="1" height="7" fill="#ff0000"/>
<rect x="1133" y="355" width="3" height="3" fill="#ff0000"/>
<rect x="1138" y="346" width="1" height="24" fill="#00ff00"/>
<rect x="1137" y="352" width="3" height="5" fill="#00ff00"/>
<rect x="1142" y="307" width="1" height="52" fill="#ff0000"/>
<rect x="1141" y="318" width="3" height="39" fill="#ff0000"/>
<rect x="1146" y="287" width="1" height="50" fill="#00ff00"/>
<rect x="1145" y="318" width="3" height="2" fill="#00ff00"/>
<rect x="1150" y="267" width="1" height="53" fill="#ff0000"/>
<rect x="1149" y="267" width="3" height="53" fill="#ff0000"/>
<rect x="1154" y="228" width="1" height="40" fill="#ff0000"/>
<rect x="1153" y="248" width="3" height="20" fill="#ff0000"/>
<rect x="1158" y="245" width="1" height="17" fill="#00ff00"/>
<rect x="1157" y="247" width="3" height="5" fill="#00ff00"/>
<rect x="1162" y="223" width="1" height="29" fill="#ff0000"/>
<rect x="1161" y="239" width="3" height="7" fill="#ff0000"/>
<rect x="1166" y="202" width="1" height="40" fill="#ff0000"/>
<rect x="1165" y="217" width="3" height="23" fill="#ff0000"/>
<rect x="1170" y="173" width="1" height="48" fill="#ff0000"/>
<rect x="1169" y="176" width="3" height="42" fill="#ff0000"/>
<rect x="1174" y="117" width="1" height="85" fill="#ff0000"/>
<rect x="1173" y="137" width="3" height="40" fill="#ff0000"/>
<rect x="1178" y="105" width="1" height="53" fill="#00ff00"/>
<rect x="1177" y="137" width="3" height="14" fill="#00ff00"/>
<rect x="1182" y="149" width="1" height="11" fill="#00ff00"/>
<rect x="1181" y="150" width="3" height="3" fill="#00ff00"/>
<path fill="#0000cd" d="M33 152h11v1h-11zM25 153h8v1h-8zM44 153h4v1h-4zM22 154h3v1h-3zM48 154h4v1h-4zM21 155h1v1h-1zM52 155h3v1h-3zM19 156h2v1h-2zM55 156h2v1h-2zM18 157h1v1h-1zM57 157h3v1h-3zM16 158h2v1h-2zM60 158h3v1h-3zM14 159h2v1h-2zM63 159h2v1h-2zM12 160h2v1h-2zM65 160h19v1h-19zM10 161h2v1h-2zM84 161h4v1h-4zM8 162h2v1h-2zM88 162h3v1h-3zM6 163h2v1h-2zM91 163h2v1h-2zM93 164h2v1h-2zM95 165h1v1h-1zM96 166h2v1h-2zM98 167h1v1h-1zM99 168h1v1h-1zM100 169h1v1h-1zM101 170h1v1h-1zM102 171h1v1h-1zM103 172h1v1h-1zM104 173h2v1h-2zM106 174h1v1h-1zM107 175h1v1h-1zM108 176h1v1h-1zM109 177h1v1h-1zM110 178h1v1h-1zM111 179h1v1h-1zM112 180h1v2h-1zM113 182h1v1h-1zM114 183h1v1h-1zM115 184h1v1h-1zM116 185h1v2h-1zM117 187h1v1h-1zM118 188h1v1h-1zM119 189h1v2h-1zM120 191h1v1h-1zM121 192h1v2h-1zM122 194h1v1h-1zM123 195h1v1h-1zM124 196h1v2h-1zM125 198h1v1h-1zM126 199h1v1h-1zM127 200h2v1h-2zM129 201h2v1h-2zM131 202h2v1h-2zM133 203h6v1h-6zM139 204h2v1h-2zM141 205h18v1h-18zM159 206h2v1h-2zM161 207h2v1h-2zM163 208h1v1h-1zM164 209h2v1h-2zM166 210h1v1h-1zM167 211h1v1h-1zM168 212h2v1h-2zM170 213h1v1h-1zM171 214h1v1h-1zM172 215h2v1h-2zM174 216h1v1h-1zM175 217h1v1h-1zM176 218h2v1h-2zM178 219h1v1h-1zM179 220h2v1h-2zM181 221h2v1h-2zM183 222h2v1h-2zM185 223h2v1h-2zM187 224h2v1h-2zM189 225h2v1h-2zM191 226h2v1h-2zM193 227h3v1h-3zM196 228h3v1h-3zM199 229h2v1h-2zM201 230h3v1h-3zM204 231h4v1h-4zM208 232h3v1h-3zM689 232h11v1h-11zM211 233h2v1h-2zM685 233h4v1h-4zM700 233h4v1h-4zM213 234h2v1h-2zM681 234h4v1h-4zM704 234h4v1h-4zM215 235h2v1h-2zM677 235h4v1h-4zM708 235h4v1h-4zM217 236h2v1h-2zM673 236h4v1h-4zM712 236h4v1h-4zM219 237h2v1h-2zM665 237h8v1h-8zM716 237h4v1h-4zM221 238h2v1h-2zM661 238h4v1h-4zM720 238h7v1h-7zM223 239h1v1h-1zM658 239h3v1h-3zM727 239h2v1h-2zM224 240h2v1h-2zM656 240h2v1h-2zM729 240h3v1h-3zM226 241h1v1h-1zM654 241h2v1h-2zM732 241h3v1h-3zM227 242h1v1h-1zM652 242h2v1h-2zM735 242h2v1h-2zM228 243h1v1h-1zM650 243h2v1h-2zM737 243h3v1h-3zM229 244h1v1h-1zM648 244h2v1h-2zM740 244h4v1h-4zM230 245h2v1h-2zM646 245h2v1h-2zM744 245h3v1h-3zM232 246h4v1h-4zM645 246h1v1h-1zM747 246h2v1h-2zM236 247h4v1h-4zM644 247h1v1h-1zM749 247h2v1h-2zM240 248h4v1h-4zM643 248h1v1h-1zM751 248h2v1h-2zM244 249h3v1h-3zM642 249h1v1h-1zM753 249h2v1h-2zM247 250h1v1h-1zM641 250h1v1h-1zM755 250h1v1h-1zM248 251h2v1h-2zM639 251h2v1h-2zM756 251h2v1h-2zM250 252h1v1h-1zM638 252h1v1h-1zM758 252h1v1h-1zM251 253h2v1h-2zM637 253h1v1h-1zM759 253h1v1h-1zM253 254h2v1h-2zM636 254h1v1h-1zM760 254h1v1h-1zM255 255h1v1h-1zM635 255h1v1h-1zM761 255h1v1h-1zM256 256h1v1h-1zM493 256h7v1h-7zM634 256h1v1h-1zM762 256h1v1h-1zM257 257h1v1h-1zM489 257h4v1h-4zM500 257h3v1h-3zM633 257h1v1h-1zM763 257h1v1h-1zM258 258h1v1h-1zM473 258h16v1h-16zM503 258h2v1h-2zM631 258h2v1h-2zM764 258h1v1h-1zM259 259h1v1h-1zM469 259h4v1h-4zM505 259h2v1h-2zM630 259h1v1h-1zM765 259h1v1h-1zM260 260h2v1h-2zM465 260h4v1h-4zM507 260h1v1h-1zM629 260h1v1h-1zM766 260h1v1h-1zM262 261h1v1h-1zM457 261h8v1h-8zM508 261h2v1h-2zM627 261h2v1h-2zM767 261h1v1h-1zM263 262h2v1h-2zM453 262h4v1h-4zM510 262h1v1h-1zM626 262h1v1h-1zM768 262h2v1h-2zM265 263h2v1h-2zM450 263h3v1h-3zM511 263h2v1h-2zM624 263h2v1h-2zM770 263h1v1h-1zM267 264h1v1h-1zM448 264h2v1h-2zM513 264h2v1h-2zM621 264h3v1h-3zM771 264h1v1h-1zM268 265h2v1h-2zM446 265h2v1h-2zM515 265h2v1h-2zM605 265h16v1h-16zM772 265h1v1h-1zM270 266h1v1h-1zM445 266h1v1h-1zM517 266h2v1h-2zM598 266h7v1h-7zM773 266h1v1h-1zM271 267h1v1h-1zM443 267h2v1h-2zM519 267h2v1h-2zM596 267h2v1h-2zM774 267h1v1h-1zM272 268h2v1h-2zM442 268h1v1h-1zM521 268h2v1h-2zM594 268h2v1h-2zM775 268h1v1h-1zM274 269h1v1h-1zM441 269h1v1h-1zM523 269h2v1h-2zM592 269h2v1h-2zM776 269h1v2h-1zM275 270h2v1h-2zM440 270h1v1h-1zM525 270h3v1h-3zM590 270h2v1h-2zM277 271h2v1h-2zM439 271h1v1h-1zM528 271h4v1h-4zM589 271h1v1h-1zM777 271h1v1h-1zM279 272h2v1h-2zM438 272h1v1h-1zM532 272h8v1h-8zM587 272h2v1h-2zM778 272h1v1h-1zM281 273h3v1h-3zM437 273h1v1h-1zM540 273h8v1h-8zM585 273h2v1h-2zM779 273h1v1h-1zM284 274h4v1h-4zM436 274h1v1h-1zM548 274h3v1h-3zM582 274h3v1h-3zM780 274h1v1h-1zM288 275h3v1h-3zM435 275h1v1h-1zM551 275h2v1h-2zM580 275h2v1h-2zM781 275h1v1h-1zM291 276h2v1h-2zM434 276h1v1h-1zM553 276h2v1h-2zM578 276h2v1h-2zM782 276h1v1h-1zM293 277h3v1h-3zM433 277h1v1h-1zM555 277h2v1h-2zM576 277h2v1h-2zM783 277h1v1h-1zM296 278h3v1h-3zM432 278h1v1h-1zM557 278h2v1h-2zM573 278h3v1h-3zM784 278h2v1h-2zM299 279h2v1h-2zM431 279h1v1h-1zM559 279h2v1h-2zM565 279h8v1h-8zM786 279h1v1h-1zM301 280h2v1h-2zM430 280h1v1h-1zM561 280h4v1h-4zM787 280h1v1h-1zM303 281h2v1h-2zM429 281h1v1h-1zM788 281h1v2h-1zM305 282h2v1h-2zM427 282h2v1h-2zM307 283h1v1h-1zM426 283h1v1h-1zM789 283h1v1h-1zM308 284h2v1h-2zM425 284h1v1h-1zM790 284h1v1h-1zM954 284h1v1h-1zM310 285h1v1h-1zM424 285h1v1h-1zM791 285h1v1h-1zM952 285h2v1h-2zM955 285h1v1h-1zM311 286h1v1h-1zM423 286h1v1h-1zM792 286h1v1h-1zM950 286h2v1h-2zM956 286h2v1h-2zM312 287h1v1h-1zM421 287h2v1h-2zM793 287h1v1h-1zM948 287h2v1h-2zM958 287h1v1h-1zM313 288h1v1h-1zM418 288h3v1h-3zM794 288h1v1h-1zM946 288h2v1h-2zM959 288h1v1h-1zM314 289h1v1h-1zM416 289h2v1h-2zM795 289h1v1h-1zM945 289h1v1h-1zM960 289h2v1h-2zM315 290h1v1h-1zM413 290h3v1h-3zM796 290h1v2h-1zM943 290h2v1h-2zM962 290h1v1h-1zM316 291h2v1h-2zM410 291h3v1h-3zM942 291h1v1h-1zM963 291h1v1h-1zM318 292h1v1h-1zM408 292h2v1h-2zM797 292h1v1h-1zM901 292h3v1h-3zM941 292h1v1h-1zM964 292h1v1h-1zM319 293h1v1h-1zM402 293h6v1h-6zM798 293h1v1h-1zM898 293h3v1h-3zM904 293h3v1h-3zM940 293h1v1h-1zM965 293h1v1h-1zM320 294h1v1h-1zM400 294h2v1h-2zM799 294h1v2h-1zM897 294h1v1h-1zM907 294h1v1h-1zM939 294h1v1h-1zM966 294h1v1h-1zM321 295h1v1h-1zM397 295h3v1h-3zM896 295h1v1h-1zM908 295h2v1h-2zM938 295h1v1h-1zM967 295h1v1h-1zM322 296h1v1h-1zM394 296h3v1h-3zM800 296h1v1h-1zM895 296h1v1h-1zM910 296h1v1h-1zM937 296h1v1h-1zM968 296h1v2h-1zM323 297h2v1h-2zM392 297h2v1h-2zM801 297h1v2h-1zM894 297h1v1h-1zM911 297h1v1h-1zM936 297h1v1h-1zM325 298h2v1h-2zM390 298h2v1h-2zM892 298h2v1h-2zM912 298h2v1h-2zM935 298h1v1h-1zM969 298h1v1h-1zM327 299h1v1h-1zM388 299h2v1h-2zM802 299h1v1h-1zM890 299h2v1h-2zM914 299h1v1h-1zM934 299h1v1h-1zM970 299h1v1h-1zM328 300h2v1h-2zM385 300h3v1h-3zM803 300h1v1h-1zM888 300h2v1h-2zM915 300h1v1h-1zM933 300h1v1h-1zM971 300h1v1h-1zM330 301h2v1h-2zM381 301h4v1h-4zM804 301h1v2h-1zM886 301h2v1h-2zM916 301h2v1h-2zM932 301h1v1h-1zM972 301h1v2h-1zM332 302h20v1h-20zM378 302h3v1h-3zM884 302h2v1h-2zM918 302h2v1h-2zM931 302h1v1h-1zM352 303h20v1h-20zM376 303h2v1h-2zM805 303h1v1h-1zM882 303h2v1h-2zM920 303h11v1h-11zM973 303h1v1h-1zM372 304h4v1h-4zM806 304h1v1h-1zM881 304h1v1h-1zM974 304h1v1h-1zM807 305h1v2h-1zM880 305h1v1h-1zM975 305h1v1h-1zM879 306h1v1h-1zM976 306h1v2h-1zM808 307h1v1h-1zM878 307h1v1h-1zM809 308h1v2h-1zM877 308h1v2h-1zM977 308h1v1h-1zM978 309h1v1h-1zM810 310h1v1h-1zM876 310h1v1h-1zM979 310h1v1h-1zM811 311h1v2h-1zM875 311h1v2h-1zM980 311h1v1h-1zM981 312h1v1h-1zM812 313h1v1h-1zM874 313h1v1h-1zM982 313h1v1h-1zM813 314h1v2h-1zM873 314h1v2h-1zM983 314h1v2h-1zM814 316h1v1h-1zM872 316h1v1h-1zM984 316h1v2h-1zM815 317h1v1h-1zM871 317h1v2h-1zM816 318h1v1h-1zM985 318h1v2h-1zM1182 318h1v1h-1zM817 319h1v1h-1zM870 319h1v1h-1zM1181 319h1v1h-1zM818 320h1v1h-1zM869 320h1v1h-1zM986 320h1v1h-1zM1180 320h1v2h-1zM819 321h1v1h-1zM868 321h1v1h-1zM987 321h1v2h-1zM820 322h1v1h-1zM867 322h1v1h-1zM1179 322h1v1h-1zM821 323h1v1h-1zM866 323h1v1h-1zM988 323h1v1h-1zM1178 323h1v1h-1zM822 324h1v1h-1zM865 324h1v1h-1zM989 324h1v2h-1zM1177 324h1v1h-1zM823 325h1v1h-1zM864 325h1v1h-1zM1176 325h1v2h-1zM824 326h1v1h-1zM863 326h1v1h-1zM990 326h1v2h-1zM825 327h1v1h-1zM862 327h1v1h-1zM1175 327h1v1h-1zM826 328h1v1h-1zM860 328h2v1h-2zM991 328h1v2h-1zM1174 328h1v1h-1zM827 329h1v1h-1zM858 329h2v1h-2zM1173 329h1v2h-1zM828 330h1v1h-1zM857 330h1v1h-1zM992 330h1v2h-1zM829 331h1v1h-1zM855 331h2v1h-2zM1172 331h1v2h-1zM830 332h1v1h-1zM854 332h1v1h-1zM993 332h1v2h-1zM831 333h1v1h-1zM853 333h1v1h-1zM1171 333h1v2h-1zM832 334h2v1h-2zM851 334h2v1h-2zM994 334h1v2h-1zM834 335h2v1h-2zM850 335h1v1h-1zM1170 335h1v1h-1zM836 336h4v1h-4zM848 336h2v1h-2zM995 336h1v2h-1zM1169 336h1v2h-1zM840 337h8v1h-8zM996 338h1v1h-1zM1168 338h1v1h-1zM997 339h1v2h-1zM1167 339h1v2h-1zM998 341h1v1h-1zM1166 341h1v1h-1zM999 342h1v2h-1zM1165 342h1v2h-1zM1000 344h1v2h-1zM1164 344h1v1h-1zM1163 345h1v2h-1zM1001 346h1v2h-1zM1162 347h1v1h-1zM1002 348h1v1h-1zM1161 348h1v1h-1zM1003 349h1v1h-1zM1160 349h1v2h-1zM1004 350h1v1h-1zM1005 351h1v1h-1zM1159 351h1v1h-1zM1006 352h1v1h-1zM1158 352h1v1h-1zM1007 353h1v1h-1zM1157 353h1v1h-1zM1008 354h2v1h-2zM1156 354h1v2h-1zM1010 355h1v1h-1zM1011 356h1v1h-1zM1155 356h1v1h-1zM1012 357h1v1h-1zM1045 357h7v1h-7zM1154 357h1v1h-1zM1013 358h1v1h-1zM1041 358h4v1h-4zM1052 358h4v1h-4zM1153 358h1v2h-1zM1014 359h1v1h-1zM1038 359h3v1h-3zM1056 359h3v1h-3zM1015 360h1v1h-1zM1036 360h2v1h-2zM1059 360h1v1h-1zM1152 360h1v1h-1zM1016 361h1v1h-1zM1034 361h2v1h-2zM1060 361h2v1h-2zM1151 361h1v2h-1zM1017 362h1v1h-1zM1032 362h2v1h-2zM1062 362h1v1h-1zM1018 363h1v1h-1zM1030 363h2v1h-2zM1063 363h2v1h-2zM1150 363h1v1h-1zM1019 364h2v1h-2zM1028 364h2v1h-2zM1065 364h2v1h-2zM1149 364h1v1h-1zM1021 365h7v1h-7zM1067 365h2v1h-2zM1148 365h1v1h-1zM1069 366h2v1h-2zM1147 366h1v1h-1zM1071 367h1v1h-1zM1146 367h1v1h-1zM1072 368h2v1h-2zM1081 368h15v1h-15zM1144 368h2v1h-2zM1074 369h7v1h-7zM1096 369h3v1h-3zM1142 369h2v1h-2zM1099 370h2v1h-2zM1140 370h2v1h-2zM1101 371h2v1h-2zM1137 371h3v1h-3zM1103 372h2v1h-2zM1129 372h8v1h-8zM1105 373h2v1h-2zM1125 373h4v1h-4zM1107 374h2v1h-2zM1122 374h3v1h-3zM1109 375h7v1h-7zM1120 375h2v1h-2zM1116 376h4v1h-4z"/>
<path fill="#ff0000" d="M25 132h2v1h-2zM22 133h3v1h-3zM27 133h2v1h-2zM20 134h2v1h-2zM29 134h2v1h-2zM18 135h2v1h-2zM31 135h1v1h-1zM17 136h1v1h-1zM32 136h2v1h-2zM15 137h2v1h-2zM34 137h1v1h-1zM14 138h1v1h-1zM35 138h1v1h-1zM13 139h1v1h-1zM36 139h1v2h-1zM12 140h1v1h-1zM11 141h1v1h-1zM37 141h1v1h-1zM10 142h1v1h-1zM38 142h1v1h-1zM9 143h1v1h-1zM39 143h1v2h-1zM7 144h2v1h-2zM6 145h1v1h-1zM40 145h1v1h-1zM41 146h1v2h-1zM42 148h1v1h-1zM43 149h1v1h-1zM44 150h1v2h-1zM45 152h1v1h-1zM46 153h1v1h-1zM47 154h1v1h-1zM48 155h1v2h-1zM49 157h1v1h-1zM50 158h1v1h-1zM51 159h1v1h-1zM52 160h1v2h-1zM53 162h1v1h-1zM54 163h1v1h-1zM55 164h1v1h-1zM56 165h1v1h-1zM57 166h1v1h-1zM58 167h1v1h-1zM59 168h1v2h-1zM60 170h1v1h-1zM61 171h1v2h-1zM62 173h1v1h-1zM63 174h1v1h-1zM64 175h2v1h-2zM66 176h1v1h-1zM67 177h2v1h-2zM69 178h2v1h-2zM71 179h2v1h-2zM73 180h2v1h-2zM75 181h1v1h-1zM76 182h2v1h-2zM78 183h5v1h-5zM83 184h2v1h-2zM85 185h2v1h-2zM87 186h1v1h-1zM88 187h2v1h-2zM90 188h1v1h-1zM91 189h2v1h-2zM93 190h2v1h-2zM95 191h1v1h-1zM96 192h1v2h-1zM97 194h1v1h-1zM98 195h1v1h-1zM99 196h1v1h-1zM100 197h1v2h-1zM101 199h1v1h-1zM102 200h1v1h-1zM103 201h1v1h-1zM104 202h1v1h-1zM105 203h1v1h-1zM106 204h1v1h-1zM898 204h1v1h-1zM107 205h1v1h-1zM897 205h1v1h-1zM899 205h2v1h-2zM108 206h1v2h-1zM896 206h1v2h-1zM901 206h2v1h-2zM902 207h1v1h-1zM109 208h1v1h-1zM895 208h1v1h-1zM903 208h1v3h-1zM110 209h1v1h-1zM894 209h1v1h-1zM111 210h1v1h-1zM893 210h1v1h-1zM112 211h1v1h-1zM892 211h1v1h-1zM904 211h1v2h-1zM113 212h1v1h-1zM891 212h1v1h-1zM114 213h1v1h-1zM890 213h1v1h-1zM905 213h1v3h-1zM115 214h1v2h-1zM889 214h1v2h-1zM116 216h1v1h-1zM158 216h5v1h-5zM888 216h1v2h-1zM906 216h1v4h-1zM117 217h1v2h-1zM156 217h2v1h-2zM163 217h2v1h-2zM154 218h2v1h-2zM165 218h3v1h-3zM173 218h7v1h-7zM677 218h3v1h-3zM887 218h1v2h-1zM118 219h1v1h-1zM153 219h1v1h-1zM168 219h5v1h-5zM180 219h3v1h-3zM673 219h4v1h-4zM680 219h3v1h-3zM119 220h1v1h-1zM151 220h2v1h-2zM183 220h1v1h-1zM666 220h7v1h-7zM683 220h1v1h-1zM886 220h1v2h-1zM907 220h1v4h-1zM120 221h1v1h-1zM150 221h1v1h-1zM184 221h1v1h-1zM664 221h2v1h-2zM684 221h2v1h-2zM121 222h1v1h-1zM148 222h2v1h-2zM185 222h1v1h-1zM662 222h2v1h-2zM686 222h2v1h-2zM885 222h1v2h-1zM122 223h1v1h-1zM146 223h2v1h-2zM186 223h1v1h-1zM660 223h2v1h-2zM688 223h3v1h-3zM123 224h1v1h-1zM145 224h1v1h-1zM187 224h1v1h-1zM658 224h2v1h-2zM691 224h1v1h-1zM884 224h1v2h-1zM908 224h1v4h-1zM124 225h1v1h-1zM143 225h2v1h-2zM188 225h1v1h-1zM657 225h1v1h-1zM692 225h2v1h-2zM125 226h1v1h-1zM142 226h1v1h-1zM189 226h1v1h-1zM656 226h1v1h-1zM694 226h1v1h-1zM883 226h1v2h-1zM126 227h2v1h-2zM140 227h2v1h-2zM190 227h1v1h-1zM655 227h1v1h-1zM695 227h1v1h-1zM128 228h4v1h-4zM137 228h3v1h-3zM191 228h1v1h-1zM654 228h1v1h-1zM696 228h1v2h-1zM882 228h1v2h-1zM909 228h1v4h-1zM132 229h5v1h-5zM192 229h2v1h-2zM652 229h2v1h-2zM194 230h1v1h-1zM649 230h3v1h-3zM697 230h1v1h-1zM881 230h1v4h-1zM195 231h1v1h-1zM646 231h3v1h-3zM698 231h1v1h-1zM196 232h2v1h-2zM644 232h2v1h-2zM699 232h1v1h-1zM910 232h1v5h-1zM198 233h1v1h-1zM642 233h2v1h-2zM700 233h1v1h-1zM199 234h1v1h-1zM641 234h1v1h-1zM701 234h1v1h-1zM880 234h1v4h-1zM200 235h1v1h-1zM639 235h2v1h-2zM702 235h1v1h-1zM201 236h1v1h-1zM638 236h1v1h-1zM703 236h1v1h-1zM202 237h1v1h-1zM437 237h6v1h-6zM637 237h1v1h-1zM704 237h2v1h-2zM911 237h1v4h-1zM203 238h1v1h-1zM434 238h3v1h-3zM443 238h1v1h-1zM636 238h1v1h-1zM706 238h1v1h-1zM879 238h1v4h-1zM204 239h1v1h-1zM433 239h1v1h-1zM444 239h2v1h-2zM635 239h1v1h-1zM707 239h1v1h-1zM205 240h1v1h-1zM432 240h1v1h-1zM446 240h1v1h-1zM634 240h1v1h-1zM708 240h2v1h-2zM206 241h1v1h-1zM431 241h1v1h-1zM447 241h1v1h-1zM632 241h2v1h-2zM710 241h1v1h-1zM912 241h1v4h-1zM207 242h1v1h-1zM430 242h1v1h-1zM448 242h2v1h-2zM630 242h2v1h-2zM711 242h1v1h-1zM878 242h1v4h-1zM208 243h1v2h-1zM429 243h1v1h-1zM450 243h1v1h-1zM629 243h1v1h-1zM712 243h1v1h-1zM428 244h1v1h-1zM451 244h1v1h-1zM627 244h2v1h-2zM713 244h1v1h-1zM209 245h1v1h-1zM427 245h1v1h-1zM452 245h2v1h-2zM626 245h1v1h-1zM714 245h1v1h-1zM913 245h1v4h-1zM210 246h1v1h-1zM426 246h1v1h-1zM454 246h1v1h-1zM624 246h2v1h-2zM715 246h1v1h-1zM877 246h1v4h-1zM211 247h1v1h-1zM425 247h1v1h-1zM455 247h1v1h-1zM621 247h3v1h-3zM716 247h2v1h-2zM212 248h1v2h-1zM424 248h1v1h-1zM456 248h1v1h-1zM614 248h7v1h-7zM718 248h1v1h-1zM423 249h1v1h-1zM457 249h1v1h-1zM612 249h2v1h-2zM719 249h1v1h-1zM914 249h1v5h-1zM213 250h1v1h-1zM422 250h1v1h-1zM458 250h1v1h-1zM597 250h7v1h-7zM609 250h3v1h-3zM720 250h1v1h-1zM876 250h1v5h-1zM214 251h1v1h-1zM420 251h2v1h-2zM459 251h1v1h-1zM594 251h3v1h-3zM604 251h5v1h-5zM721 251h1v1h-1zM215 252h1v1h-1zM418 252h2v1h-2zM460 252h2v1h-2zM592 252h2v1h-2zM722 252h1v1h-1zM216 253h1v2h-1zM416 253h2v1h-2zM462 253h2v1h-2zM590 253h2v1h-2zM723 253h2v1h-2zM1182 253h1v2h-1zM414 254h2v1h-2zM464 254h3v1h-3zM589 254h1v1h-1zM725 254h2v1h-2zM915 254h1v5h-1zM217 255h1v1h-1zM413 255h1v1h-1zM467 255h1v1h-1zM588 255h1v2h-1zM727 255h1v1h-1zM875 255h1v4h-1zM1181 255h1v3h-1zM218 256h1v1h-1zM411 256h2v1h-2zM468 256h2v1h-2zM728 256h1v1h-1zM219 257h1v1h-1zM410 257h1v1h-1zM470 257h1v1h-1zM587 257h1v1h-1zM729 257h1v1h-1zM220 258h1v2h-1zM409 258h1v1h-1zM471 258h1v1h-1zM586 258h1v1h-1zM730 258h1v1h-1zM1180 258h1v4h-1zM407 259h2v1h-2zM472 259h2v1h-2zM585 259h1v1h-1zM731 259h1v1h-1zM874 259h1v5h-1zM916 259h1v5h-1zM221 260h1v1h-1zM406 260h1v1h-1zM474 260h1v1h-1zM584 260h1v1h-1zM732 260h1v2h-1zM222 261h1v1h-1zM405 261h1v2h-1zM475 261h1v1h-1zM583 261h1v1h-1zM223 262h1v1h-1zM476 262h1v1h-1zM582 262h1v1h-1zM733 262h1v1h-1zM1179 262h1v3h-1zM224 263h1v1h-1zM404 263h1v1h-1zM477 263h1v1h-1zM581 263h1v1h-1zM734 263h1v1h-1zM225 264h1v1h-1zM403 264h1v2h-1zM478 264h1v1h-1zM580 264h1v1h-1zM735 264h1v1h-1zM873 264h1v5h-1zM917 264h1v5h-1zM226 265h1v1h-1zM479 265h2v1h-2zM579 265h1v1h-1zM736 265h1v1h-1zM1178 265h1v3h-1zM227 266h1v1h-1zM402 266h1v1h-1zM481 266h2v1h-2zM578 266h1v1h-1zM737 266h1v1h-1zM228 267h1v2h-1zM401 267h1v1h-1zM483 267h1v1h-1zM577 267h1v1h-1zM738 267h1v1h-1zM400 268h1v2h-1zM484 268h1v1h-1zM576 268h1v2h-1zM739 268h1v1h-1zM1177 268h1v3h-1zM229 269h1v1h-1zM485 269h1v1h-1zM740 269h2v1h-2zM872 269h1v6h-1zM918 269h1v5h-1zM230 270h1v1h-1zM399 270h1v1h-1zM486 270h1v1h-1zM575 270h1v1h-1zM742 270h1v1h-1zM231 271h1v1h-1zM398 271h1v1h-1zM487 271h1v1h-1zM574 271h1v1h-1zM743 271h1v1h-1zM1176 271h1v2h-1zM232 272h2v1h-2zM397 272h1v1h-1zM488 272h2v1h-2zM573 272h1v1h-1zM744 272h2v1h-2zM234 273h1v1h-1zM396 273h1v2h-1zM490 273h1v1h-1zM572 273h1v1h-1zM746 273h1v1h-1zM1175 273h1v3h-1zM235 274h2v1h-2zM491 274h1v1h-1zM571 274h1v1h-1zM747 274h2v1h-2zM919 274h1v5h-1zM237 275h2v1h-2zM395 275h1v1h-1zM492 275h2v1h-2zM570 275h1v1h-1zM749 275h3v1h-3zM871 275h1v5h-1zM239 276h2v1h-2zM394 276h1v1h-1zM494 276h1v1h-1zM569 276h1v1h-1zM752 276h3v1h-3zM1174 276h1v3h-1zM241 277h2v1h-2zM393 277h1v2h-1zM495 277h1v1h-1zM567 277h2v1h-2zM755 277h2v1h-2zM243 278h2v1h-2zM496 278h1v1h-1zM566 278h1v1h-1zM757 278h2v1h-2zM245 279h2v1h-2zM392 279h1v2h-1zM497 279h1v1h-1zM564 279h2v1h-2zM759 279h1v1h-1zM920 279h1v5h-1zM1173 279h1v4h-1zM247 280h1v1h-1zM286 280h2v1h-2zM498 280h6v1h-6zM549 280h3v1h-3zM562 280h2v1h-2zM760 280h2v1h-2zM870 280h1v5h-1zM248 281h2v1h-2zM285 281h1v1h-1zM288 281h4v1h-4zM391 281h1v2h-1zM504 281h4v1h-4zM541 281h8v1h-8zM552 281h4v1h-4zM560 281h2v1h-2zM762 281h1v1h-1zM250 282h1v1h-1zM283 282h2v1h-2zM292 282h3v1h-3zM508 282h8v1h-8zM537 282h4v1h-4zM556 282h4v1h-4zM763 282h1v1h-1zM251 283h1v1h-1zM282 283h1v1h-1zM295 283h2v1h-2zM390 283h1v1h-1zM516 283h4v1h-4zM529 283h8v1h-8zM764 283h1v1h-1zM1172 283h1v4h-1zM252 284h2v1h-2zM281 284h1v1h-1zM297 284h3v1h-3zM389 284h1v2h-1zM520 284h9v1h-9zM765 284h1v1h-1zM921 284h1v5h-1zM254 285h1v1h-1zM279 285h2v1h-2zM300 285h3v1h-3zM766 285h1v1h-1zM869 285h1v5h-1zM255 286h1v1h-1zM278 286h1v1h-1zM303 286h1v1h-1zM388 286h1v1h-1zM767 286h1v1h-1zM256 287h1v1h-1zM277 287h1v1h-1zM304 287h1v1h-1zM387 287h1v2h-1zM768 287h1v2h-1zM1171 287h1v4h-1zM257 288h1v1h-1zM275 288h2v1h-2zM305 288h1v1h-1zM258 289h2v1h-2zM273 289h2v1h-2zM306 289h1v1h-1zM386 289h1v1h-1zM769 289h1v1h-1zM922 289h1v5h-1zM260 290h13v1h-13zM307 290h1v1h-1zM385 290h1v2h-1zM770 290h1v1h-1zM868 290h1v4h-1zM308 291h1v1h-1zM771 291h1v1h-1zM1170 291h1v3h-1zM309 292h1v1h-1zM384 292h1v2h-1zM772 292h2v1h-2zM310 293h1v1h-1zM774 293h1v1h-1zM311 294h2v1h-2zM383 294h1v2h-1zM775 294h1v1h-1zM867 294h1v5h-1zM923 294h1v5h-1zM1169 294h1v3h-1zM313 295h2v1h-2zM776 295h1v1h-1zM315 296h1v1h-1zM382 296h1v2h-1zM777 296h1v1h-1zM316 297h1v2h-1zM778 297h1v1h-1zM1168 297h1v3h-1zM381 298h1v2h-1zM779 298h1v1h-1zM317 299h1v1h-1zM780 299h1v1h-1zM866 299h1v5h-1zM924 299h1v4h-1zM318 300h1v1h-1zM380 300h1v2h-1zM781 300h1v1h-1zM1167 300h1v3h-1zM319 301h1v2h-1zM782 301h1v1h-1zM379 302h1v2h-1zM783 302h1v1h-1zM320 303h1v1h-1zM784 303h1v1h-1zM925 303h1v5h-1zM1166 303h1v3h-1zM321 304h1v2h-1zM378 304h1v1h-1zM785 304h1v1h-1zM865 304h1v5h-1zM377 305h1v2h-1zM786 305h1v1h-1zM322 306h1v1h-1zM787 306h1v2h-1zM1165 306h1v3h-1zM323 307h1v1h-1zM376 307h1v1h-1zM324 308h1v2h-1zM375 308h1v2h-1zM788 308h1v1h-1zM926 308h1v5h-1zM789 309h1v2h-1zM864 309h1v4h-1zM1164 309h1v4h-1zM325 310h1v1h-1zM374 310h1v1h-1zM326 311h1v1h-1zM373 311h1v1h-1zM790 311h1v1h-1zM327 312h2v1h-2zM372 312h1v1h-1zM791 312h1v2h-1zM329 313h2v1h-2zM371 313h1v1h-1zM863 313h1v5h-1zM927 313h1v6h-1zM1163 313h1v3h-1zM331 314h1v1h-1zM370 314h1v1h-1zM792 314h1v1h-1zM332 315h2v1h-2zM369 315h1v1h-1zM793 315h1v2h-1zM334 316h1v1h-1zM367 316h2v1h-2zM1162 316h1v3h-1zM335 317h2v1h-2zM366 317h1v1h-1zM794 317h1v1h-1zM337 318h2v1h-2zM365 318h1v1h-1zM795 318h1v2h-1zM862 318h1v4h-1zM339 319h1v1h-1zM364 319h1v1h-1zM928 319h1v5h-1zM1161 319h1v3h-1zM340 320h2v1h-2zM363 320h1v1h-1zM796 320h1v2h-1zM342 321h2v1h-2zM362 321h1v1h-1zM344 322h3v1h-3zM361 322h1v1h-1zM797 322h1v2h-1zM861 322h1v3h-1zM1160 322h1v2h-1zM347 323h2v1h-2zM359 323h2v1h-2zM349 324h3v1h-3zM357 324h2v1h-2zM798 324h1v2h-1zM929 324h1v6h-1zM1159 324h1v3h-1zM352 325h5v1h-5zM860 325h1v4h-1zM799 326h1v2h-1zM1158 327h1v3h-1zM800 328h1v3h-1zM859 329h1v3h-1zM930 330h1v4h-1zM1157 330h1v3h-1zM801 331h1v2h-1zM858 332h1v3h-1zM802 333h1v3h-1zM1156 333h1v2h-1zM931 334h1v3h-1zM857 335h1v3h-1zM1155 335h1v3h-1zM803 336h1v2h-1zM932 337h1v2h-1zM986 337h1v1h-1zM804 338h1v2h-1zM856 338h1v3h-1zM985 338h1v1h-1zM987 338h1v1h-1zM1154 338h1v3h-1zM933 339h1v3h-1zM984 339h1v1h-1zM988 339h2v1h-2zM805 340h1v2h-1zM983 340h1v1h-1zM990 340h1v1h-1zM855 341h1v3h-1zM982 341h1v1h-1zM991 341h1v2h-1zM1153 341h1v2h-1zM806 342h1v3h-1zM934 342h1v2h-1zM981 342h1v1h-1zM980 343h1v2h-1zM992 343h1v1h-1zM1152 343h1v3h-1zM854 344h1v3h-1zM935 344h1v2h-1zM993 344h1v2h-1zM807 345h1v2h-1zM979 345h1v1h-1zM936 346h1v2h-1zM978 346h1v1h-1zM994 346h1v1h-1zM1151 346h1v2h-1zM808 347h1v3h-1zM853 347h1v3h-1zM977 347h1v1h-1zM995 347h1v1h-1zM937 348h1v2h-1zM976 348h1v1h-1zM996 348h1v2h-1zM1150 348h1v3h-1zM975 349h1v1h-1zM809 350h1v2h-1zM852 350h1v3h-1zM938 350h1v2h-1zM941 350h2v1h-2zM974 350h1v2h-1zM997 350h1v1h-1zM939 351h2v1h-2zM943 351h2v1h-2zM998 351h1v1h-1zM1149 351h1v2h-1zM810 352h1v3h-1zM945 352h2v1h-2zM973 352h1v2h-1zM999 352h1v1h-1zM851 353h1v3h-1zM947 353h2v1h-2zM1000 353h1v2h-1zM1148 353h1v2h-1zM949 354h2v1h-2zM972 354h1v2h-1zM811 355h1v2h-1zM951 355h1v2h-1zM1001 355h1v1h-1zM1147 355h1v2h-1zM850 356h1v3h-1zM971 356h1v2h-1zM1002 356h1v1h-1zM812 357h1v2h-1zM952 357h1v2h-1zM1003 357h1v2h-1zM1146 357h1v1h-1zM970 358h1v1h-1zM1025 358h2v1h-2zM1145 358h1v1h-1zM813 359h1v2h-1zM849 359h1v3h-1zM953 359h1v2h-1zM969 359h1v1h-1zM1004 359h1v1h-1zM1022 359h3v1h-3zM1027 359h1v1h-1zM1144 359h1v2h-1zM968 360h1v2h-1zM1005 360h1v2h-1zM1020 360h2v1h-2zM1028 360h2v1h-2zM814 361h1v2h-1zM954 361h1v2h-1zM1018 361h2v1h-2zM1030 361h1v1h-1zM1143 361h1v1h-1zM848 362h1v2h-1zM967 362h1v1h-1zM1006 362h1v1h-1zM1017 362h1v1h-1zM1031 362h1v1h-1zM1142 362h1v1h-1zM815 363h1v1h-1zM955 363h1v1h-1zM966 363h1v1h-1zM1007 363h2v1h-2zM1015 363h2v1h-2zM1032 363h2v1h-2zM1141 363h1v1h-1zM816 364h1v2h-1zM847 364h1v3h-1zM956 364h1v1h-1zM965 364h1v1h-1zM1009 364h6v1h-6zM1034 364h1v1h-1zM1140 364h1v2h-1zM957 365h1v1h-1zM964 365h1v1h-1zM1035 365h1v1h-1zM817 366h1v1h-1zM958 366h2v1h-2zM963 366h1v1h-1zM1036 366h1v1h-1zM1139 366h1v1h-1zM818 367h1v1h-1zM846 367h1v2h-1zM960 367h3v1h-3zM1037 367h1v1h-1zM1138 367h1v1h-1zM819 368h1v1h-1zM1038 368h1v1h-1zM1136 368h2v1h-2zM820 369h1v2h-1zM845 369h1v2h-1zM1039 369h1v1h-1zM1094 369h5v1h-5zM1134 369h2v1h-2zM1040 370h1v2h-1zM1065 370h3v1h-3zM1093 370h1v1h-1zM1099 370h2v1h-2zM1133 370h1v1h-1zM821 371h1v1h-1zM844 371h1v2h-1zM1062 371h3v1h-3zM1068 371h3v1h-3zM1091 371h2v1h-2zM1101 371h3v1h-3zM1131 371h2v1h-2zM822 372h1v1h-1zM1041 372h1v1h-1zM1061 372h1v1h-1zM1071 372h2v1h-2zM1089 372h2v1h-2zM1104 372h3v1h-3zM1130 372h1v1h-1zM823 373h1v1h-1zM843 373h1v2h-1zM1042 373h1v1h-1zM1060 373h1v2h-1zM1073 373h2v1h-2zM1085 373h4v1h-4zM1107 373h1v1h-1zM1129 373h1v1h-1zM824 374h2v1h-2zM1043 374h1v1h-1zM1075 374h2v1h-2zM1081 374h4v1h-4zM1108 374h1v1h-1zM1127 374h2v1h-2zM826 375h1v1h-1zM842 375h1v1h-1zM1044 375h2v1h-2zM1059 375h1v1h-1zM1077 375h4v1h-4zM1109 375h1v1h-1zM1126 375h1v1h-1zM827 376h1v1h-1zM841 376h1v1h-1zM1046 376h1v1h-1zM1058 376h1v1h-1zM1110 376h1v1h-1zM1125 376h1v1h-1zM828 377h2v1h-2zM839 377h2v1h-2zM1047 377h2v1h-2zM1057 377h1v1h-1zM1111 377h1v1h-1zM1124 377h1v1h-1zM830 378h1v1h-1zM838 378h1v1h-1zM1049 378h2v1h-2zM1056 378h1v1h-1zM1112 378h1v1h-1zM1123 378h1v1h-1zM831 379h2v1h-2zM836 379h2v1h-2zM1051 379h2v1h-2zM1055 379h1v1h-1zM1113 379h1v1h-1zM1122 379h1v1h-1zM833 380h3v1h-3zM1053 380h2v1h-2zM1114 380h2v1h-2zM1120 380h2v1h-2zM1116 381h4v1h-4z"/>
<path fill="#ffa500" d="M6 107h1v2h-1zM7 109h1v2h-1zM8 111h1v2h-1zM9 113h1v2h-1zM10 115h1v3h-1zM11 118h1v2h-1zM12 120h1v3h-1zM13 123h1v2h-1zM14 125h1v3h-1zM15 128h1v2h-1zM16 130h1v3h-1zM882 131h1v3h-1zM17 133h1v2h-1zM881 133h1v2h-1zM883 134h1v6h-1zM18 135h1v2h-1zM880 135h1v3h-1zM19 137h1v2h-1zM879 138h1v2h-1zM20 139h1v2h-1zM878 140h1v4h-1zM884 140h1v6h-1zM21 141h1v2h-1zM22 143h1v4h-1zM877 144h1v5h-1zM885 146h1v6h-1zM23 147h1v4h-1zM876 149h1v5h-1zM24 151h1v4h-1zM886 152h1v7h-1zM875 154h1v5h-1zM25 155h1v4h-1zM26 159h1v3h-1zM874 159h1v6h-1zM887 159h1v6h-1zM27 162h1v2h-1zM28 164h1v2h-1zM873 165h1v6h-1zM888 165h1v7h-1zM29 166h1v2h-1zM1182 167h1v3h-1zM30 168h1v3h-1zM58 168h1v1h-1zM57 169h1v1h-1zM59 169h1v1h-1zM56 170h1v2h-1zM60 170h1v2h-1zM1181 170h1v4h-1zM31 171h1v2h-1zM872 171h1v6h-1zM55 172h1v1h-1zM61 172h1v1h-1zM889 172h1v6h-1zM32 173h1v3h-1zM54 173h1v1h-1zM62 173h1v1h-1zM53 174h1v2h-1zM63 174h1v1h-1zM1180 174h1v4h-1zM64 175h2v1h-2zM33 176h1v2h-1zM52 176h1v2h-1zM66 176h1v1h-1zM67 177h1v1h-1zM871 177h1v6h-1zM34 178h1v2h-1zM51 178h1v2h-1zM68 178h2v1h-2zM890 178h1v8h-1zM1179 178h1v4h-1zM70 179h1v1h-1zM35 180h1v2h-1zM50 180h1v1h-1zM71 180h1v2h-1zM49 181h1v1h-1zM36 182h1v2h-1zM47 182h2v1h-2zM72 182h1v1h-1zM1178 182h1v5h-1zM46 183h1v1h-1zM73 183h1v2h-1zM870 183h1v6h-1zM37 184h1v2h-1zM45 184h1v1h-1zM44 185h1v2h-1zM74 185h1v1h-1zM38 186h1v1h-1zM75 186h1v1h-1zM891 186h1v9h-1zM39 187h2v1h-2zM43 187h1v1h-1zM76 187h1v1h-1zM1177 187h1v5h-1zM41 188h2v1h-2zM77 188h1v1h-1zM78 189h5v1h-5zM869 189h1v5h-1zM83 190h1v2h-1zM84 192h1v2h-1zM153 192h2v1h-2zM1176 192h1v5h-1zM149 193h4v1h-4zM155 193h1v1h-1zM85 194h1v2h-1zM146 194h3v1h-3zM156 194h1v2h-1zM868 194h1v4h-1zM146 195h1v1h-1zM892 195h1v8h-1zM86 196h1v2h-1zM145 196h1v3h-1zM157 196h1v1h-1zM158 197h1v1h-1zM646 197h1v1h-1zM1175 197h1v5h-1zM87 198h1v2h-1zM159 198h1v2h-1zM645 198h1v1h-1zM647 198h2v1h-2zM867 198h1v5h-1zM144 199h1v2h-1zM644 199h1v1h-1zM649 199h2v1h-2zM88 200h1v2h-1zM160 200h1v2h-1zM643 200h1v1h-1zM651 200h1v1h-1zM143 201h1v3h-1zM642 201h1v2h-1zM652 201h1v1h-1zM89 202h1v2h-1zM161 202h1v2h-1zM653 202h1v1h-1zM1174 202h1v5h-1zM641 203h1v3h-1zM654 203h1v1h-1zM866 203h1v6h-1zM893 203h1v9h-1zM90 204h1v2h-1zM142 204h1v3h-1zM162 204h1v2h-1zM655 204h1v1h-1zM656 205h2v1h-2zM91 206h1v2h-1zM163 206h1v3h-1zM640 206h1v3h-1zM658 206h1v1h-1zM141 207h1v2h-1zM659 207h1v2h-1zM1173 207h1v6h-1zM92 208h1v2h-1zM140 209h1v3h-1zM164 209h1v3h-1zM639 209h1v3h-1zM660 209h1v2h-1zM865 209h1v7h-1zM93 210h1v2h-1zM661 211h1v2h-1zM94 212h1v2h-1zM139 212h1v2h-1zM165 212h1v3h-1zM638 212h1v3h-1zM894 212h1v7h-1zM662 213h1v3h-1zM1172 213h1v5h-1zM95 214h1v2h-1zM138 214h1v4h-1zM166 215h1v3h-1zM637 215h1v4h-1zM96 216h1v3h-1zM663 216h1v2h-1zM864 216h1v8h-1zM137 218h1v4h-1zM167 218h1v3h-1zM664 218h1v2h-1zM1171 218h1v6h-1zM97 219h1v2h-1zM636 219h1v4h-1zM895 219h1v5h-1zM665 220h1v2h-1zM98 221h1v3h-1zM168 221h1v3h-1zM136 222h1v5h-1zM666 222h1v2h-1zM635 223h1v4h-1zM99 224h1v2h-1zM169 224h1v3h-1zM442 224h1v1h-1zM667 224h1v2h-1zM863 224h1v7h-1zM896 224h1v6h-1zM1170 224h1v5h-1zM441 225h1v1h-1zM443 225h1v2h-1zM100 226h1v2h-1zM440 226h1v1h-1zM668 226h1v1h-1zM135 227h1v4h-1zM170 227h1v3h-1zM439 227h1v1h-1zM444 227h1v1h-1zM634 227h1v3h-1zM669 227h1v2h-1zM101 228h1v2h-1zM398 228h2v1h-2zM438 228h1v1h-1zM445 228h1v2h-1zM397 229h1v2h-1zM400 229h3v1h-3zM437 229h1v2h-1zM670 229h1v1h-1zM1169 229h1v5h-1zM102 230h1v2h-1zM171 230h1v3h-1zM403 230h1v2h-1zM446 230h1v1h-1zM633 230h1v3h-1zM671 230h1v1h-1zM897 230h1v5h-1zM134 231h1v3h-1zM396 231h1v1h-1zM436 231h1v2h-1zM447 231h1v2h-1zM672 231h1v2h-1zM862 231h1v6h-1zM103 232h2v1h-2zM109 232h2v1h-2zM395 232h1v2h-1zM404 232h1v1h-1zM105 233h4v1h-4zM111 233h2v1h-2zM172 233h1v3h-1zM405 233h1v2h-1zM435 233h1v2h-1zM448 233h1v2h-1zM593 233h2v1h-2zM632 233h1v2h-1zM673 233h1v1h-1zM113 234h2v1h-2zM133 234h1v2h-1zM394 234h1v2h-1zM590 234h3v1h-3zM595 234h1v1h-1zM674 234h1v1h-1zM694 234h1v1h-1zM1168 234h1v4h-1zM115 235h1v2h-1zM406 235h1v2h-1zM434 235h1v2h-1zM449 235h1v2h-1zM590 235h1v1h-1zM596 235h2v1h-2zM631 235h1v3h-1zM675 235h1v2h-1zM693 235h1v1h-1zM695 235h1v1h-1zM898 235h1v6h-1zM132 236h1v2h-1zM173 236h1v3h-1zM393 236h1v3h-1zM589 236h1v2h-1zM598 236h1v1h-1zM691 236h2v1h-2zM696 236h2v1h-2zM116 237h1v1h-1zM407 237h1v2h-1zM433 237h1v2h-1zM450 237h1v3h-1zM599 237h1v1h-1zM676 237h1v2h-1zM690 237h1v1h-1zM698 237h1v1h-1zM861 237h1v5h-1zM117 238h1v2h-1zM131 238h1v2h-1zM588 238h1v2h-1zM600 238h2v1h-2zM630 238h1v3h-1zM689 238h1v1h-1zM699 238h1v1h-1zM1167 238h1v5h-1zM174 239h1v3h-1zM392 239h1v2h-1zM408 239h1v2h-1zM432 239h1v2h-1zM602 239h1v1h-1zM677 239h1v2h-1zM688 239h1v2h-1zM700 239h1v2h-1zM118 240h2v1h-2zM130 240h1v1h-1zM451 240h1v3h-1zM587 240h1v2h-1zM603 240h1v2h-1zM120 241h3v1h-3zM129 241h1v1h-1zM391 241h1v3h-1zM409 241h1v2h-1zM431 241h1v2h-1zM629 241h1v2h-1zM678 241h2v1h-2zM687 241h1v1h-1zM701 241h1v1h-1zM899 241h1v8h-1zM123 242h1v1h-1zM128 242h1v2h-1zM175 242h1v2h-1zM586 242h1v1h-1zM604 242h1v2h-1zM680 242h7v1h-7zM702 242h1v1h-1zM860 242h1v6h-1zM124 243h1v1h-1zM410 243h1v2h-1zM430 243h1v3h-1zM452 243h1v3h-1zM585 243h1v1h-1zM628 243h1v3h-1zM703 243h1v1h-1zM1166 243h1v5h-1zM125 244h1v1h-1zM127 244h1v1h-1zM176 244h1v2h-1zM201 244h10v1h-10zM390 244h1v3h-1zM584 244h1v2h-1zM605 244h1v2h-1zM704 244h1v1h-1zM126 245h1v1h-1zM198 245h3v1h-3zM210 245h1v1h-1zM411 245h1v2h-1zM705 245h1v1h-1zM177 246h1v2h-1zM197 246h1v1h-1zM211 246h1v2h-1zM429 246h1v2h-1zM453 246h1v3h-1zM583 246h1v1h-1zM606 246h1v1h-1zM627 246h1v2h-1zM706 246h1v1h-1zM196 247h1v2h-1zM389 247h1v4h-1zM412 247h1v2h-1zM582 247h1v1h-1zM607 247h1v2h-1zM707 247h1v1h-1zM178 248h1v2h-1zM212 248h1v3h-1zM428 248h1v2h-1zM581 248h1v1h-1zM626 248h1v3h-1zM708 248h1v2h-1zM859 248h1v5h-1zM1165 248h1v5h-1zM195 249h1v1h-1zM413 249h1v2h-1zM454 249h1v3h-1zM580 249h1v2h-1zM608 249h1v2h-1zM900 249h1v8h-1zM179 250h1v1h-1zM194 250h1v1h-1zM427 250h1v2h-1zM709 250h1v1h-1zM180 251h1v2h-1zM193 251h1v1h-1zM213 251h1v2h-1zM388 251h1v3h-1zM414 251h1v1h-1zM579 251h1v1h-1zM609 251h1v2h-1zM625 251h1v2h-1zM710 251h1v1h-1zM192 252h1v2h-1zM415 252h1v1h-1zM426 252h1v1h-1zM455 252h1v4h-1zM578 252h1v2h-1zM711 252h1v2h-1zM181 253h1v1h-1zM214 253h1v3h-1zM416 253h1v1h-1zM425 253h1v1h-1zM610 253h1v1h-1zM624 253h1v3h-1zM858 253h1v5h-1zM1164 253h1v5h-1zM182 254h6v1h-6zM191 254h1v1h-1zM387 254h1v4h-1zM417 254h1v1h-1zM423 254h2v1h-2zM577 254h1v2h-1zM611 254h1v1h-1zM712 254h1v2h-1zM188 255h3v1h-3zM418 255h5v1h-5zM612 255h1v1h-1zM215 256h1v4h-1zM456 256h1v4h-1zM576 256h1v2h-1zM613 256h1v1h-1zM623 256h1v2h-1zM713 256h1v2h-1zM614 257h1v1h-1zM901 257h1v8h-1zM386 258h1v3h-1zM575 258h1v2h-1zM615 258h1v1h-1zM622 258h1v2h-1zM714 258h1v1h-1zM857 258h1v4h-1zM1163 258h1v5h-1zM616 259h2v1h-2zM621 259h1v1h-1zM715 259h1v1h-1zM216 260h1v4h-1zM457 260h1v4h-1zM574 260h1v1h-1zM618 260h3v1h-3zM716 260h1v2h-1zM385 261h1v3h-1zM573 261h1v2h-1zM717 262h1v1h-1zM856 262h1v4h-1zM554 263h1v1h-1zM572 263h1v2h-1zM718 263h1v1h-1zM1162 263h1v5h-1zM217 264h1v4h-1zM384 264h1v3h-1zM458 264h1v3h-1zM553 264h1v1h-1zM555 264h2v1h-2zM719 264h1v2h-1zM551 265h2v1h-2zM557 265h3v1h-3zM571 265h1v2h-1zM902 265h1v7h-1zM502 266h1v1h-1zM550 266h1v1h-1zM560 266h8v1h-8zM720 266h1v2h-1zM855 266h1v4h-1zM383 267h1v3h-1zM459 267h1v4h-1zM500 267h2v1h-2zM503 267h2v1h-2zM549 267h1v2h-1zM568 267h3v1h-3zM218 268h1v3h-1zM498 268h2v1h-2zM505 268h2v1h-2zM721 268h1v2h-1zM1161 268h1v4h-1zM497 269h1v2h-1zM507 269h1v2h-1zM548 269h1v2h-1zM382 270h1v3h-1zM722 270h1v1h-1zM854 270h1v6h-1zM219 271h1v4h-1zM460 271h1v3h-1zM496 271h1v2h-1zM508 271h1v1h-1zM547 271h1v2h-1zM723 271h1v1h-1zM509 272h1v2h-1zM724 272h1v2h-1zM758 272h1v1h-1zM903 272h1v6h-1zM1160 272h1v4h-1zM381 273h1v2h-1zM495 273h1v2h-1zM546 273h1v2h-1zM757 273h1v1h-1zM759 273h1v1h-1zM278 274h1v1h-1zM461 274h1v4h-1zM510 274h1v1h-1zM725 274h1v1h-1zM755 274h2v1h-2zM760 274h2v1h-2zM220 275h1v3h-1zM277 275h1v2h-1zM279 275h1v1h-1zM380 275h1v2h-1zM494 275h1v1h-1zM511 275h1v2h-1zM545 275h1v2h-1zM726 275h1v2h-1zM754 275h1v1h-1zM762 275h1v2h-1zM266 276h5v1h-5zM280 276h2v1h-2zM493 276h1v2h-1zM753 276h1v1h-1zM853 276h1v8h-1zM1159 276h1v4h-1zM265 277h1v1h-1zM271 277h1v1h-1zM276 277h1v1h-1zM282 277h1v1h-1zM379 277h1v2h-1zM512 277h1v2h-1zM544 277h1v2h-1zM727 277h1v2h-1zM752 277h1v2h-1zM763 277h1v3h-1zM221 278h1v4h-1zM264 278h1v2h-1zM272 278h1v1h-1zM275 278h1v2h-1zM283 278h2v1h-2zM462 278h1v2h-1zM492 278h1v2h-1zM904 278h1v7h-1zM273 279h1v1h-1zM285 279h2v1h-2zM378 279h1v2h-1zM513 279h1v2h-1zM543 279h1v2h-1zM728 279h1v2h-1zM751 279h1v1h-1zM950 279h1v3h-1zM263 280h1v1h-1zM274 280h1v1h-1zM287 280h1v2h-1zM463 280h1v1h-1zM491 280h1v2h-1zM750 280h1v2h-1zM764 280h1v2h-1zM1158 280h1v4h-1zM254 281h1v1h-1zM262 281h1v1h-1zM377 281h1v2h-1zM464 281h2v1h-2zM514 281h1v1h-1zM542 281h1v3h-1zM729 281h1v2h-1zM951 281h1v2h-1zM222 282h1v3h-1zM252 282h2v1h-2zM255 282h1v1h-1zM261 282h1v1h-1zM288 282h1v2h-1zM466 282h1v1h-1zM490 282h1v1h-1zM515 282h1v2h-1zM749 282h1v2h-1zM765 282h1v3h-1zM949 282h1v4h-1zM250 283h2v1h-2zM256 283h1v1h-1zM260 283h1v1h-1zM376 283h1v1h-1zM467 283h1v2h-1zM489 283h1v2h-1zM730 283h1v2h-1zM952 283h1v2h-1zM250 284h1v1h-1zM257 284h1v1h-1zM259 284h1v1h-1zM289 284h1v2h-1zM375 284h1v2h-1zM516 284h1v1h-1zM541 284h1v2h-1zM748 284h1v2h-1zM852 284h1v8h-1zM1157 284h1v5h-1zM223 285h1v3h-1zM249 285h1v2h-1zM258 285h1v1h-1zM293 285h2v1h-2zM468 285h1v2h-1zM488 285h1v2h-1zM517 285h1v2h-1zM731 285h1v2h-1zM766 285h1v3h-1zM905 285h1v6h-1zM953 285h1v2h-1zM290 286h3v1h-3zM295 286h1v2h-1zM374 286h1v1h-1zM540 286h1v2h-1zM747 286h1v2h-1zM948 286h1v5h-1zM248 287h1v2h-1zM373 287h1v2h-1zM469 287h1v2h-1zM487 287h1v2h-1zM518 287h1v1h-1zM732 287h1v2h-1zM954 287h1v4h-1zM224 288h1v4h-1zM296 288h1v2h-1zM519 288h1v2h-1zM539 288h1v2h-1zM746 288h1v2h-1zM767 288h1v3h-1zM247 289h1v2h-1zM372 289h1v1h-1zM470 289h1v1h-1zM486 289h1v1h-1zM733 289h1v2h-1zM1156 289h1v6h-1zM297 290h1v2h-1zM371 290h1v2h-1zM471 290h1v1h-1zM484 290h2v1h-2zM520 290h1v2h-1zM538 290h1v1h-1zM745 290h1v1h-1zM246 291h1v2h-1zM472 291h1v1h-1zM482 291h2v1h-2zM537 291h1v2h-1zM734 291h1v2h-1zM744 291h1v2h-1zM768 291h1v4h-1zM906 291h1v8h-1zM947 291h1v4h-1zM955 291h1v5h-1zM225 292h1v3h-1zM298 292h1v1h-1zM370 292h1v2h-1zM473 292h1v1h-1zM481 292h1v1h-1zM521 292h1v2h-1zM851 292h1v8h-1zM245 293h1v2h-1zM299 293h1v1h-1zM474 293h1v1h-1zM480 293h1v1h-1zM536 293h1v1h-1zM735 293h1v1h-1zM743 293h1v1h-1zM300 294h1v1h-1zM369 294h1v2h-1zM475 294h2v1h-2zM479 294h1v1h-1zM522 294h1v1h-1zM535 294h1v2h-1zM736 294h2v1h-2zM741 294h2v1h-2zM226 295h1v3h-1zM244 295h1v2h-1zM301 295h1v1h-1zM477 295h2v1h-2zM523 295h1v1h-1zM738 295h3v1h-3zM769 295h1v3h-1zM946 295h1v5h-1zM1155 295h1v5h-1zM302 296h1v2h-1zM368 296h1v2h-1zM524 296h2v1h-2zM533 296h2v1h-2zM956 296h1v6h-1zM243 297h1v2h-1zM526 297h7v1h-7zM227 298h1v3h-1zM303 298h1v3h-1zM367 298h1v2h-1zM770 298h1v3h-1zM242 299h1v1h-1zM907 299h1v10h-1zM241 300h1v2h-1zM366 300h1v1h-1zM850 300h1v7h-1zM945 300h1v6h-1zM1154 300h1v5h-1zM228 301h1v3h-1zM304 301h1v2h-1zM365 301h1v2h-1zM771 301h1v3h-1zM240 302h1v2h-1zM957 302h1v5h-1zM305 303h1v3h-1zM364 303h1v1h-1zM229 304h1v3h-1zM239 304h1v2h-1zM363 304h1v2h-1zM772 304h1v2h-1zM1153 305h1v5h-1zM238 306h1v1h-1zM306 306h1v2h-1zM362 306h1v1h-1zM773 306h1v3h-1zM944 306h1v6h-1zM230 307h1v2h-1zM237 307h1v1h-1zM361 307h1v2h-1zM849 307h1v7h-1zM958 307h1v7h-1zM236 308h1v2h-1zM307 308h1v2h-1zM231 309h1v1h-1zM360 309h1v1h-1zM774 309h1v3h-1zM908 309h1v9h-1zM232 310h2v1h-2zM235 310h1v1h-1zM308 310h1v2h-1zM359 310h1v2h-1zM1152 310h1v6h-1zM234 311h1v1h-1zM309 312h1v2h-1zM358 312h1v1h-1zM775 312h1v3h-1zM943 312h1v6h-1zM357 313h1v1h-1zM310 314h1v1h-1zM356 314h1v2h-1zM848 314h1v6h-1zM959 314h1v8h-1zM311 315h1v2h-1zM346 315h2v1h-2zM776 315h1v3h-1zM345 316h1v2h-1zM348 316h4v1h-4zM355 316h1v1h-1zM1151 316h1v5h-1zM312 317h1v2h-1zM352 317h3v1h-3zM344 318h1v1h-1zM777 318h1v3h-1zM909 318h1v10h-1zM942 318h1v7h-1zM313 319h1v2h-1zM343 319h1v2h-1zM847 320h1v7h-1zM314 321h1v2h-1zM342 321h1v2h-1zM778 321h1v3h-1zM1150 321h1v5h-1zM960 322h1v8h-1zM315 323h1v1h-1zM341 323h1v2h-1zM316 324h1v2h-1zM779 324h1v2h-1zM340 325h1v2h-1zM941 325h1v9h-1zM317 326h1v1h-1zM780 326h1v2h-1zM1149 326h1v4h-1zM318 327h1v2h-1zM339 327h1v2h-1zM846 327h1v6h-1zM781 328h1v2h-1zM910 328h1v9h-1zM319 329h1v2h-1zM338 329h1v1h-1zM337 330h1v1h-1zM782 330h1v3h-1zM961 330h1v8h-1zM1148 330h1v5h-1zM320 331h1v3h-1zM335 331h2v1h-2zM334 332h1v1h-1zM333 333h1v1h-1zM783 333h1v2h-1zM845 333h1v4h-1zM321 334h1v2h-1zM332 334h1v2h-1zM940 334h1v9h-1zM784 335h1v2h-1zM998 335h1v2h-1zM1147 335h1v4h-1zM322 336h1v2h-1zM331 336h1v1h-1zM999 336h2v1h-2zM1066 336h2v1h-2zM330 337h1v1h-1zM785 337h1v2h-1zM844 337h1v5h-1zM911 337h1v10h-1zM997 337h1v3h-1zM1001 337h2v1h-2zM1066 337h1v1h-1zM1068 337h3v1h-3zM1130 337h2v1h-2zM323 338h2v1h-2zM328 338h2v1h-2zM962 338h1v7h-1zM1002 338h1v1h-1zM1065 338h1v2h-1zM1070 338h1v1h-1zM1130 338h1v1h-1zM1132 338h3v1h-3zM325 339h3v1h-3zM786 339h1v3h-1zM1003 339h1v3h-1zM1071 339h1v3h-1zM1129 339h1v2h-1zM1135 339h1v1h-1zM1146 339h1v3h-1zM996 340h1v2h-1zM1064 340h1v2h-1zM1136 340h1v1h-1zM1128 341h1v2h-1zM1137 341h1v1h-1zM787 342h1v3h-1zM843 342h1v4h-1zM995 342h1v3h-1zM1004 342h1v3h-1zM1063 342h1v2h-1zM1072 342h1v4h-1zM1138 342h2v1h-2zM1144 342h2v1h-2zM939 343h1v9h-1zM1127 343h1v2h-1zM1140 343h4v1h-4zM1062 344h1v2h-1zM788 345h1v2h-1zM963 345h1v5h-1zM994 345h1v2h-1zM1005 345h1v3h-1zM1126 345h1v2h-1zM842 346h1v4h-1zM1061 346h1v4h-1zM1073 346h1v3h-1zM789 347h1v3h-1zM912 347h1v10h-1zM992 347h2v1h-2zM1125 347h1v4h-1zM990 348h2v1h-2zM1006 348h1v2h-1zM990 349h1v1h-1zM1074 349h1v4h-1zM790 350h1v3h-1zM841 350h1v3h-1zM964 350h1v6h-1zM989 350h1v3h-1zM1007 350h1v1h-1zM1060 350h1v4h-1zM1008 351h1v2h-1zM1124 351h1v3h-1zM938 352h1v10h-1zM791 353h1v3h-1zM840 353h1v4h-1zM988 353h1v4h-1zM1009 353h1v1h-1zM1075 353h1v5h-1zM1010 354h1v1h-1zM1059 354h1v4h-1zM1123 354h1v4h-1zM1011 355h1v1h-1zM792 356h1v2h-1zM965 356h1v5h-1zM1012 356h1v1h-1zM839 357h1v3h-1zM913 357h1v10h-1zM987 357h1v3h-1zM1013 357h1v1h-1zM793 358h1v3h-1zM1014 358h1v2h-1zM1058 358h1v4h-1zM1076 358h1v4h-1zM1122 358h1v4h-1zM838 360h1v3h-1zM986 360h1v3h-1zM1015 360h1v2h-1zM794 361h1v3h-1zM966 361h1v5h-1zM937 362h1v10h-1zM1016 362h1v3h-1zM1057 362h1v5h-1zM1077 362h1v5h-1zM1121 362h1v5h-1zM837 363h1v3h-1zM985 363h1v4h-1zM795 364h1v2h-1zM1017 365h1v2h-1zM796 366h1v2h-1zM836 366h1v4h-1zM967 366h1v5h-1zM914 367h1v12h-1zM984 367h1v3h-1zM1018 367h1v2h-1zM1056 367h1v6h-1zM1078 367h1v4h-1zM1120 367h1v4h-1zM797 368h1v2h-1zM1019 369h1v1h-1zM798 370h1v3h-1zM835 370h1v3h-1zM983 370h1v4h-1zM1020 370h1v2h-1zM968 371h1v6h-1zM1079 371h1v3h-1zM1119 371h1v5h-1zM936 372h1v11h-1zM1021 372h1v1h-1zM799 373h1v2h-1zM834 373h1v2h-1zM1022 373h1v1h-1zM1055 373h1v5h-1zM982 374h1v3h-1zM1023 374h2v1h-2zM1080 374h1v4h-1zM800 375h1v2h-1zM833 375h1v2h-1zM1025 375h2v1h-2zM1027 376h1v2h-1zM1118 376h1v4h-1zM801 377h1v2h-1zM832 377h1v2h-1zM969 377h1v5h-1zM981 377h1v4h-1zM1028 378h1v2h-1zM1054 378h1v4h-1zM1081 378h1v3h-1zM802 379h1v2h-1zM831 379h1v2h-1zM915 379h1v12h-1zM1029 380h1v2h-1zM1117 380h1v2h-1zM803 381h1v2h-1zM830 381h1v2h-1zM980 381h1v3h-1zM1082 381h1v2h-1zM970 382h1v3h-1zM1030 382h1v1h-1zM1053 382h1v4h-1zM1116 382h1v3h-1zM804 383h1v2h-1zM829 383h1v2h-1zM935 383h1v10h-1zM1031 383h1v2h-1zM1083 383h1v2h-1zM979 384h1v4h-1zM1098 384h1v1h-1zM805 385h1v2h-1zM828 385h1v2h-1zM971 385h1v1h-1zM1032 385h1v2h-1zM1084 385h1v2h-1zM1096 385h2v1h-2zM1099 385h1v2h-1zM1115 385h1v2h-1zM972 386h1v2h-1zM1052 386h1v3h-1zM1094 386h2v1h-2zM806 387h1v1h-1zM827 387h1v2h-1zM1033 387h1v2h-1zM1085 387h1v2h-1zM1093 387h1v2h-1zM1100 387h1v1h-1zM1114 387h1v2h-1zM807 388h1v2h-1zM973 388h1v1h-1zM978 388h1v2h-1zM1101 388h1v2h-1zM826 389h1v1h-1zM974 389h4v1h-4zM1034 389h1v1h-1zM1051 389h1v4h-1zM1086 389h1v1h-1zM1092 389h1v1h-1zM1113 389h1v1h-1zM808 390h1v1h-1zM825 390h1v1h-1zM1035 390h1v2h-1zM1087 390h1v1h-1zM1091 390h1v2h-1zM1102 390h1v1h-1zM1112 390h1v2h-1zM809 391h1v2h-1zM824 391h1v1h-1zM916 391h1v13h-1zM1088 391h2v1h-2zM1103 391h2v1h-2zM823 392h1v1h-1zM1036 392h1v2h-1zM1090 392h1v1h-1zM1105 392h3v1h-3zM1111 392h1v1h-1zM810 393h1v1h-1zM822 393h1v1h-1zM934 393h1v10h-1zM1050 393h1v2h-1zM1108 393h3v1h-3zM811 394h1v1h-1zM821 394h1v1h-1zM1037 394h1v2h-1zM812 395h1v1h-1zM819 395h2v1h-2zM1049 395h1v1h-1zM813 396h1v1h-1zM817 396h2v1h-2zM1038 396h1v2h-1zM1048 396h1v1h-1zM814 397h3v1h-3zM1047 397h1v1h-1zM1039 398h2v1h-2zM1045 398h2v1h-2zM1041 399h4v1h-4zM933 403h1v9h-1zM917 404h1v12h-1zM932 412h1v9h-1zM918 416h1v9h-1zM931 421h1v9h-1zM919 425h1v6h-1zM930 430h1v6h-1zM920 431h1v5h-1zM921 436h1v6h-1zM929 436h1v4h-1zM928 440h1v3h-1zM922 442h1v3h-1zM927 443h1v4h-1zM923 445h1v1h-1zM924 446h1v1h-1zM925 447h2v1h-2zM926 448h1v1h-1z"/>
<rect x="6" y="145" width="1484" height="2" fill="#ff0000"/>
<rect x="6" y="198" width="1484" height="2" fill="#ff0000"/>
<rect x="6" y="249" width="1484" height="2" fill="#00ff00"/>
<rect x="6" y="301" width="1484" height="2" fill="#0000ff"/>
<rect x="6" y="363" width="1484" height="2" fill="#0000ff"/>
<rect x="6" y="419" width="1484" height="2" fill="#0000ff"/>
<rect x="6" y="491" width="1484" height="2" fill="#0000ff"/>
</g>
<rect x="1490" y="249" width="1" height="2" fill="#00ff00"/>
<rect x="5" y="247" width="6" height="6" fill="#00ff00"/>
<rect x="7" y="249" width="2" height="2" fill="#fff"/>
<rect x="1484" y="247" width="6" height="6" fill="#00ff00"/>
<rect x="1486" y="249" width="2" height="2" fill="#fff"/>
<rect x="1490" y="301" width="1" height="2" fill="#0000ff"/>
<rect x="5" y="299" width="6" height="6" fill="#0000ff"/>
<rect x="7" y="301" width="2" height="2" fill="#fff"/>
<rect x="1484" y="299" width="6" height="6" fill="#0000ff"/>
<rect x="1486" y="301" width="2" height="2" fill="#fff"/>
<rect x="1490" y="363" width="1" height="2" fill="#0000ff"/>
<rect x="5" y="361" width="6" height="6" fill="#0000ff"/>
<rect x="7" y="363" width="2" height="2" fill="#fff"/>
<rect x="1484" y="361" width="6" height="6" fill="#0000ff"/>
<rect x="1486" y="363" width="2" height="2" fill="#fff"/>
<path d="M9 31h7l-3.5 4z" fill="#000"/>
<text x="20.8" y="36" font-size="10.17" fill="#000" textLength="64.4" lengthAdjust="spacingAndGlyphs" stroke="#000" stroke-width="0.18">EURUSD,Daily</text>
<text x="91" y="36" font-size="10.17" fill="#000" textLength="141.3" lengthAdjust="spacingAndGlyphs" stroke="#000" stroke-width="0.18">1.12950 1.12986 1.12781 1.12928</text>
<path d="M1187 25h9l-4.5 5z" fill="#c0c0c0"/>
<rect x="1491" y="35" width="2" height="1" fill="#000"/>
<text x="1496" y="39" font-size="10.17" fill="#000" textLength="33.4" lengthAdjust="spacingAndGlyphs" stroke="#000" stroke-width="0.18">1.15190</text>
<rect x="1491" y="68" width="2" height="1" fill="#000"/>
<text x="1496" y="72" font-size="10.17" fill="#000" textLength="33.4" lengthAdjust="spacingAndGlyphs" stroke="#000" stroke-width="0.18">1.14545</text>
<rect x="1491" y="101" width="2" height="1" fill="#000"/>
<text x="1496" y="105" font-size="10.17" fill="#000" textLength="33.4" lengthAdjust="spacingAndGlyphs" stroke="#000" stroke-width="0.18">1.13915</text>
<rect x="1491" y="134" width="2" height="1" fill="#000"/>
<text x="1496" y="138" font-size="10.17" fill="#000" textLength="33.4" lengthAdjust="spacingAndGlyphs" stroke="#000" stroke-width="0.18">1.13270</text>
<rect x="1491" y="167" width="2" height="1" fill="#000"/>
<text x="1496" y="171" font-size="10.17" fill="#000" textLength="33.4" lengthAdjust="spacingAndGlyphs" stroke="#000" stroke-width="0.18">1.12625</text>
<rect x="1491" y="200" width="2" height="1" fill="#000"/>
<text x="1496" y="204" font-size="10.17" fill="#000" textLength="33.4" lengthAdjust="spacingAndGlyphs" stroke="#000" stroke-width="0.18">1.11980</text>
<rect x="1491" y="233" width="2" height="1" fill="#000"/>
<text x="1496" y="237" font-size="10.17" fill="#000" textLength="33.4" lengthAdjust="spacingAndGlyphs" stroke="#000" stroke-width="0.18">1.11335</text>
<rect x="1491" y="266" width="2" height="1" fill="#000"/>
<text x="1496" y="270" font-size="10.17" fill="#000" textLength="33.4" lengthAdjust="spacingAndGlyphs" stroke="#000" stroke-width="0.18">1.10705</text>
<rect x="1491" y="299" width="2" height="1" fill="#000"/>
<text x="1496" y="303" font-size="10.17" fill="#000" textLength="33.4" lengthAdjust="spacingAndGlyphs" stroke="#000" stroke-width="0.18">1.10060</text>
<rect x="1491" y="332" width="2" height="1" fill="#000"/>
<text x="1496" y="336" font-size="10.17" fill="#000" textLength="33.4" lengthAdjust="spacingAndGlyphs" stroke="#000" stroke-width="0.18">1.09415</text>
<rect x="1491" y="365" width="2" height="1" fill="#000"/>
<text x="1496" y="369" font-size="10.17" fill="#000" textLength="33.4" lengthAdjust="spacingAndGlyphs" stroke="#000" stroke-width="0.18">1.08770</text>
<rect x="1491" y="398" width="2" height="1" fill="#000"/>
<text x="1496" y="402" font-size="10.17" fill="#000" textLength="33.4" lengthAdjust="spacingAndGlyphs" stroke="#000" stroke-width="0.18">1.08125</text>
<rect x="1491" y="431" width="2" height="1" fill="#000"/>
<text x="1496" y="435" font-size="10.17" fill="#000" textLength="33.4" lengthAdjust="spacingAndGlyphs" stroke="#000" stroke-width="0.18">1.07495</text>
<rect x="1491" y="464" width="2" height="1" fill="#000"/>
<text x="1496" y="468" font-size="10.17" fill="#000" textLength="33.4" lengthAdjust="spacingAndGlyphs" stroke="#000" stroke-width="0.18">1.06850</text>
<rect x="1491" y="497" width="2" height="1" fill="#000"/>
<text x="1496" y="501" font-size="10.17" fill="#000" textLength="33.4" lengthAdjust="spacingAndGlyphs" stroke="#000" stroke-width="0.18">1.06205</text>
<rect x="1492" y="147" width="40" height="11" fill="#000"/>
<text x="1496" y="156" font-size="10.17" fill="#fff" textLength="33.4" lengthAdjust="spacingAndGlyphs" stroke="#fff" stroke-width="0.18">1.12928</text>
<rect x="1492" y="140" width="40" height="11" fill="#ff0000"/>
<text x="1496" y="149" font-size="10.17" fill="#fff" textLength="33.4" lengthAdjust="spacingAndGlyphs" stroke="#fff" stroke-width="0.18">1.13034</text>
<rect x="1492" y="193" width="40" height="11" fill="#ff0000"/>
<text x="1496" y="202" font-size="10.17" fill="#fff" textLength="33.4" lengthAdjust="spacingAndGlyphs" stroke="#fff" stroke-width="0.18">1.12004</text>
<rect x="1492" y="244" width="40" height="11" fill="#00ff00"/>
<text x="1496" y="253" font-size="10.17" fill="#fff" textLength="33.4" lengthAdjust="spacingAndGlyphs" stroke="#fff" stroke-width="0.18">1.11009</text>
<rect x="1492" y="296" width="40" height="11" fill="#0000ff"/>
<text x="1496" y="305" font-size="10.17" fill="#fff" textLength="33.4" lengthAdjust="spacingAndGlyphs" stroke="#fff" stroke-width="0.18">1.10008</text>
<rect x="1492" y="358" width="40" height="11" fill="#0000ff"/>
<text x="1496" y="367" font-size="10.17" fill="#fff" textLength="33.4" lengthAdjust="spacingAndGlyphs" stroke="#fff" stroke-width="0.18">1.08800</text>
<rect x="1492" y="414" width="40" height="11" fill="#0000ff"/>
<text x="1496" y="423" font-size="10.17" fill="#fff" textLength="33.4" lengthAdjust="spacingAndGlyphs" stroke="#fff" stroke-width="0.18">1.07697</text>
<rect x="1492" y="486" width="40" height="11" fill="#0000ff"/>
<text x="1496" y="495" font-size="10.17" fill="#fff" textLength="33.4" lengthAdjust="spacingAndGlyphs" stroke="#fff" stroke-width="0.18">1.06306</text>
<rect x="7" y="529" width="3" height="1" fill="#c0c0c0"/>
<rect x="13" y="529" width="3" height="1" fill="#c0c0c0"/>
<rect x="19" y="529" width="3" height="1" fill="#c0c0c0"/>
<rect x="25" y="529" width="3" height="1" fill="#c0c0c0"/>
<rect x="31" y="529" width="3" height="1" fill="#c0c0c0"/>
<rect x="37" y="529" width="3" height="1" fill="#c0c0c0"/>
<rect x="43" y="529" width="3" height="1" fill="#c0c0c0"/>
<rect x="49" y="529" width="3" height="1" fill="#c0c0c0"/>
<rect x="55" y="529" width="3" height="1" fill="#c0c0c0"/>
<rect x="61" y="529" width="3" height="1" fill="#c0c0c0"/>
<rect x="67" y="529" width="3" height="1" fill="#c0c0c0"/>
<rect x="73" y="529" width="3" height="1" fill="#c0c0c0"/>
<rect x="79" y="529" width="3" height="1" fill="#c0c0c0"/>
<rect x="85" y="529" width="3" height="1" fill="#c0c0c0"/>
<rect x="91" y="529" width="3" height="1" fill="#c0c0c0"/>
<rect x="97" y="529" width="3" height="1" fill="#c0c0c0"/>
<rect x="103" y="529" width="3" height="1" fill="#c0c0c0"/>
<rect x="109" y="529" width="3" height="1" fill="#c0c0c0"/>
<rect x="115" y="529" width="3" height="1" fill="#c0c0c0"/>
<rect x="121" y="529" width="3" height="1" fill="#c0c0c0"/>
<rect x="127" y="529" width="3" height="1" fill="#c0c0c0"/>
<rect x="133" y="529" width="3" height="1" fill="#c0c0c0"/>
<rect x="139" y="529" width="3" height="1" fill="#c0c0c0"/>
<rect x="145" y="529" width="3" height="1" fill="#c0c0c0"/>
<rect x="151" y="529" width="3" height="1" fill="#c0c0c0"/>
<rect x="157" y="529" width="3" height="1" fill="#c0c0c0"/>
<rect x="163" y="529" width="3" height="1" fill="#c0c0c0"/>
<rect x="169" y="529" width="3" height="1" fill="#c0c0c0"/>
<rect x="175" y="529" width="3" height="1" fill="#c0c0c0"/>
<rect x="181" y="529" width="3" height="1" fill="#c0c0c0"/>
<rect x="187" y="529" width="3" height="1" fill="#c0c0c0"/>
<rect x="193" y="529" width="3" height="1" fill="#c0c0c0"/>
<rect x="199" y="529" width="3" height="1" fill="#c0c0c0"/>
<rect x="205" y="529" width="3" height="1" fill="#c0c0c0"/>
<rect x="211" y="529" width="3" height="1" fill="#c0c0c0"/>
<rect x="217" y="529" width="3" height="1" fill="#c0c0c0"/>
<rect x="223" y="529" width="3" height="1" fill="#c0c0c0"/>
<rect x="229" y="529" width="3" height="1" fill="#c0c0c0"/>
<rect x="235" y="529" width="3" height="1" fill="#c0c0c0"/>
<rect x="241" y="529" width="3" height="1" fill="#c0c0c0"/>
<rect x="247" y="529" width="3" height="1" fill="#c0c0c0"/>
<rect x="253" y="529" width="3" height="1" fill="#c0c0c0"/>
<rect x="259" y="529" width="3" height="1" fill="#c0c0c0"/>
<rect x="265" y="529" width="3" height="1" fill="#c0c0c0"/>
<rect x="271" y="529" width="3" height="1" fill="#c0c0c0"/>
<rect x="277" y="529" width="3" height="1" fill="#c0c0c0"/>
<rect x="283" y="529" width="3" height="1" fill="#c0c0c0"/>
<rect x="289" y="529" width="3" height="1" fill="#c0c0c0"/>
<rect x="295" y="529" width="3" height="1" fill="#c0c0c0"/>
<rect x="301" y="529" width="3" height="1" fill="#c0c0c0"/>
<rect x="307" y="529" width="3" height="1" fill="#c0c0c0"/>
<rect x="313" y="529" width="3" height="1" fill="#c0c0c0"/>
<rect x="319" y="529" width="3" height="1" fill="#c0c0c0"/>
<rect x="325" y="529" width="3" height="1" fill="#c0c0c0"/>
<rect x="331" y="529" width="3" height="1" fill="#c0c0c0"/>
<rect x="337" y="529" width="3" height="1" fill="#c0c0c0"/>
<rect x="343" y="529" width="3" height="1" fill="#c0c0c0"/>
<rect x="349" y="529" width="3" height="1" fill="#c0c0c0"/>
<rect x="355" y="529" width="3" height="1" fill="#c0c0c0"/>
<rect x="361" y="529" width="3" height="1" fill="#c0c0c0"/>
<rect x="367" y="529" width="3" height="1" fill="#c0c0c0"/>
<rect x="373" y="529" width="3" height="1" fill="#c0c0c0"/>
<rect x="379" y="529" width="3" height="1" fill="#c0c0c0"/>
<rect x="385" y="529" width="3" height="1" fill="#c0c0c0"/>
<rect x="391" y="529" width="3" height="1" fill="#c0c0c0"/>
<rect x="397" y="529" width="3" height="1" fill="#c0c0c0"/>
<rect x="403" y="529" width="3" height="1" fill="#c0c0c0"/>
<rect x="409" y="529" width="3" height="1" fill="#c0c0c0"/>
<rect x="415" y="529" width="3" height="1" fill="#c0c0c0"/>
<rect x="421" y="529" width="3" height="1" fill="#c0c0c0"/>
<rect x="427" y="529" width="3" height="1" fill="#c0c0c0"/>
<rect x="433" y="529" width="3" height="1" fill="#c0c0c0"/>
<rect x="439" y="529" width="3" height="1" fill="#c0c0c0"/>
<rect x="445" y="529" width="3" height="1" fill="#c0c0c0"/>
<rect x="451" y="529" width="3" height="1" fill="#c0c0c0"/>
<rect x="457" y="529" width="3" height="1" fill="#c0c0c0"/>
<rect x="463" y="529" width="3" height="1" fill="#c0c0c0"/>
<rect x="469" y="529" width="3" height="1" fill="#c0c0c0"/>
<rect x="475" y="529" width="3" height="1" fill="#c0c0c0"/>
<rect x="481" y="529" width="3" height="1" fill="#c0c0c0"/>
<rect x="487" y="529" width="3" height="1" fill="#c0c0c0"/>
<rect x="493" y="529" width="3" height="1" fill="#c0c0c0"/>
<rect x="499" y="529" width="3" height="1" fill="#c0c0c0"/>
<rect x="505" y="529" width="3" height="1" fill="#c0c0c0"/>
<rect x="511" y="529" width="3" height="1" fill="#c0c0c0"/>
<rect x="517" y="529" width="3" height="1" fill="#c0c0c0"/>
<rect x="523" y="529" width="3" height="1" fill="#c0c0c0"/>
<rect x="529" y="529" width="3" height="1" fill="#c0c0c0"/>
<rect x="535" y="529" width="3" height="1" fill="#c0c0c0"/>
<rect x="541" y="529" width="3" height="1" fill="#c0c0c0"/>
<rect x="547" y="529" width="3" height="1" fill="#c0c0c0"/>
<rect x="553" y="529" width="3" height="1" fill="#c0c0c0"/>
<rect x="559" y="529" width="3" height="1" fill="#c0c0c0"/>
<rect x="565" y="529" width="3" height="1" fill="#c0c0c0"/>
<rect x="571" y="529" width="3" height="1" fill="#c0c0c0"/>
<rect x="577" y="529" width="3" height="1" fill="#c0c0c0"/>
<rect x="583" y="529" width="3" height="1" fill="#c0c0c0"/>
<rect x="589" y="529" width="3" height="1" fill="#c0c0c0"/>
<rect x="595" y="529" width="3" height="1" fill="#c0c0c0"/>
<rect x="601" y="529" width="3" height="1" fill="#c0c0c0"/>
<rect x="607" y="529" width="3" height="1" fill="#c0c0c0"/>
<rect x="613" y="529" width="3" height="1" fill="#c0c0c0"/>
<rect x="619" y="529" width="3" height="1" fill="#c0c0c0"/>
<rect x="625" y="529" width="3" height="1" fill="#c0c0c0"/>
<rect x="631" y="529" width="3" height="1" fill="#c0c0c0"/>
<rect x="637" y="529" width="3" height="1" fill="#c0c0c0"/>
<rect x="643" y="529" width="3" height="1" fill="#c0c0c0"/>
<rect x="649" y="529" width="3" height="1" fill="#c0c0c0"/>
<rect x="655" y="529" width="3" height="1" fill="#c0c0c0"/>
<rect x="661" y="529" width="3" height="1" fill="#c0c0c0"/>
<rect x="667" y="529" width="3" height="1" fill="#c0c0c0"/>
<rect x="673" y="529" width="3" height="1" fill="#c0c0c0"/>
<rect x="679" y="529" width="3" height="1" fill="#c0c0c0"/>
<rect x="685" y="529" width="3" height="1" fill="#c0c0c0"/>
<rect x="691" y="529" width="3" height="1" fill="#c0c0c0"/>
<rect x="697" y="529" width="3" height="1" fill="#c0c0c0"/>
<rect x="703" y="529" width="3" height="1" fill="#c0c0c0"/>
<rect x="709" y="529" width="3" height="1" fill="#c0c0c0"/>
<rect x="715" y="529" width="3" height="1" fill="#c0c0c0"/>
<rect x="721" y="529" width="3" height="1" fill="#c0c0c0"/>
<rect x="727" y="529" width="3" height="1" fill="#c0c0c0"/>
<rect x="733" y="529" width="3" height="1" fill="#c0c0c0"/>
<rect x="739" y="529" width="3" height="1" fill="#c0c0c0"/>
<rect x="745" y="529" width="3" height="1" fill="#c0c0c0"/>
<rect x="751" y="529" width="3" height="1" fill="#c0c0c0"/>
<rect x="757" y="529" width="3" height="1" fill="#c0c0c0"/>
<rect x="763" y="529" width="3" height="1" fill="#c0c0c0"/>
<rect x="769" y="529" width="3" height="1" fill="#c0c0c0"/>
<rect x="775" y="529" width="3" height="1" fill="#c0c0c0"/>
<rect x="781" y="529" width="3" height="1" fill="#c0c0c0"/>
<rect x="787" y="529" width="3" height="1" fill="#c0c0c0"/>
<rect x="793" y="529" width="3" height="1" fill="#c0c0c0"/>
<rect x="799" y="529" width="3" height="1" fill="#c0c0c0"/>
<rect x="805" y="529" width="3" height="1" fill="#c0c0c0"/>
<rect x="811" y="529" width="3" height="1" fill="#c0c0c0"/>
<rect x="817" y="529" width="3" height="1" fill="#c0c0c0"/>
<rect x="823" y="529" width="3" height="1" fill="#c0c0c0"/>
<rect x="829" y="529" width="3" height="1" fill="#c0c0c0"/>
<rect x="835" y="529" width="3" height="1" fill="#c0c0c0"/>
<rect x="841" y="529" width="3" height="1" fill="#c0c0c0"/>
<rect x="847" y="529" width="3" height="1" fill="#c0c0c0"/>
<rect x="853" y="529" width="3" height="1" fill="#c0c0c0"/>
<rect x="859" y="529" width="3" height="1" fill="#c0c0c0"/>
<rect x="865" y="529" width="3" height="1" fill="#c0c0c0"/>
<rect x="871" y="529" width="3" height="1" fill="#c0c0c0"/>
<rect x="877" y="529" width="3" height="1" fill="#c0c0c0"/>
<rect x="883" y="529" width="3" height="1" fill="#c0c0c0"/>
<rect x="889" y="529" width="3" height="1" fill="#c0c0c0"/>
<rect x="895" y="529" width="3" height="1" fill="#c0c0c0"/>
<rect x="901" y="529" width="3" height="1" fill="#c0c0c0"/>
<rect x="907" y="529" width="3" height="1" fill="#c0c0c0"/>
<rect x="913" y="529" width="3" height="1" fill="#c0c0c0"/>
<rect x="919" y="529" width="3" height="1" fill="#c0c0c0"/>
<rect x="925" y="529" width="3" height="1" fill="#c0c0c0"/>
<rect x="931" y="529" width="3" height="1" fill="#c0c0c0"/>
<rect x="937" y="529" width="3" height="1" fill="#c0c0c0"/>
<rect x="943" y="529" width="3" height="1" fill="#c0c0c0"/>
<rect x="949" y="529" width="3" height="1" fill="#c0c0c0"/>
<rect x="955" y="529" width="3" height="1" fill="#c0c0c0"/>
<rect x="961" y="529" width="3" height="1" fill="#c0c0c0"/>
<rect x="967" y="529" width="3" height="1" fill="#c0c0c0"/>
<rect x="973" y="529" width="3" height="1" fill="#c0c0c0"/>
<rect x="979" y="529" width="3" height="1" fill="#c0c0c0"/>
<rect x="985" y="529" width="3" height="1" fill="#c0c0c0"/>
<rect x="991" y="529" width="3" height="1" fill="#c0c0c0"/>
<rect x="997" y="529" width="3" height="1" fill="#c0c0c0"/>
<rect x="1003" y="529" width="3" height="1" fill="#c0c0c0"/>
<rect x="1009" y="529" width="3" height="1" fill="#c0c0c0"/>
<rect x="1015" y="529" width="3" height="1" fill="#c0c0c0"/>
<rect x="1021" y="529" width="3" height="1" fill="#c0c0c0"/>
<rect x="1027" y="529" width="3" height="1" fill="#c0c0c0"/>
<rect x="1033" y="529" width="3" height="1" fill="#c0c0c0"/>
<rect x="1039" y="529" width="3" height="1" fill="#c0c0c0"/>
<rect x="1045" y="529" width="3" height="1" fill="#c0c0c0"/>
<rect x="1051" y="529" width="3" height="1" fill="#c0c0c0"/>
<rect x="1057" y="529" width="3" height="1" fill="#c0c0c0"/>
<rect x="1063" y="529" width="3" height="1" fill="#c0c0c0"/>
<rect x="1069" y="529" width="3" height="1" fill="#c0c0c0"/>
<rect x="1075" y="529" width="3" height="1" fill="#c0c0c0"/>
<rect x="1081" y="529" width="3" height="1" fill="#c0c0c0"/>
<rect x="1087" y="529" width="3" height="1" fill="#c0c0c0"/>
<rect x="1093" y="529" width="3" height="1" fill="#c0c0c0"/>
<rect x="1099" y="529" width="3" height="1" fill="#c0c0c0"/>
<rect x="1105" y="529" width="3" height="1" fill="#c0c0c0"/>
<rect x="1111" y="529" width="3" height="1" fill="#c0c0c0"/>
<rect x="1117" y="529" width="3" height="1" fill="#c0c0c0"/>
<rect x="1123" y="529" width="3" height="1" fill="#c0c0c0"/>
<rect x="1129" y="529" width="3" height="1" fill="#c0c0c0"/>
<rect x="1135" y="529" width="3" height="1" fill="#c0c0c0"/>
<rect x="1141" y="529" width="3" height="1" fill="#c0c0c0"/>
<rect x="1147" y="529" width="3" height="1" fill="#c0c0c0"/>
<rect x="1153" y="529" width="3" height="1" fill="#c0c0c0"/>
<rect x="1159" y="529" width="3" height="1" fill="#c0c0c0"/>
<rect x="1165" y="529" width="3" height="1" fill="#c0c0c0"/>
<rect x="1171" y="529" width="3" height="1" fill="#c0c0c0"/>
<rect x="1177" y="529" width="3" height="1" fill="#c0c0c0"/>
<rect x="1183" y="529" width="3" height="1" fill="#c0c0c0"/>
<rect x="1189" y="529" width="3" height="1" fill="#c0c0c0"/>
<rect x="1195" y="529" width="3" height="1" fill="#c0c0c0"/>
<rect x="1201" y="529" width="3" height="1" fill="#c0c0c0"/>
<rect x="1207" y="529" width="3" height="1" fill="#c0c0c0"/>
<rect x="1213" y="529" width="3" height="1" fill="#c0c0c0"/>
<rect x="1219" y="529" width="3" height="1" fill="#c0c0c0"/>
<rect x="1225" y="529" width="3" height="1" fill="#c0c0c0"/>
<rect x="1231" y="529" width="3" height="1" fill="#c0c0c0"/>
<rect x="1237" y="529" width="3" height="1" fill="#c0c0c0"/>
<rect x="1243" y="529" width="3" height="1" fill="#c0c0c0"/>
<rect x="1249" y="529" width="3" height="1" fill="#c0c0c0"/>
<rect x="1255" y="529" width="3" height="1" fill="#c0c0c0"/>
<rect x="1261" y="529" width="3" height="1" fill="#c0c0c0"/>
<rect x="1267" y="529" width="3" height="1" fill="#c0c0c0"/>
<rect x="1273" y="529" width="3" height="1" fill="#c0c0c0"/>
<rect x="1279" y="529" width="3" height="1" fill="#c0c0c0"/>
<rect x="1285" y="529" width="3" height="1" fill="#c0c0c0"/>
<rect x="1291" y="529" width="3" height="1" fill="#c0c0c0"/>
<rect x="1297" y="529" width="3" height="1" fill="#c0c0c0"/>
<rect x="1303" y="529" width="3" height="1" fill="#c0c0c0"/>
<rect x="1309" y="529" width="3" height="1" fill="#c0c0c0"/>
<rect x="1315" y="529" width="3" height="1" fill="#c0c0c0"/>
<rect x="1321" y="529" width="3" height="1" fill="#c0c0c0"/>
<rect x="1327" y="529" width="3" height="1" fill="#c0c0c0"/>
<rect x="1333" y="529" width="3" height="1" fill="#c0c0c0"/>
<rect x="1339" y="529" width="3" height="1" fill="#c0c0c0"/>
<rect x="1345" y="529" width="3" height="1" fill="#c0c0c0"/>
<rect x="1351" y="529" width="3" height="1" fill="#c0c0c0"/>
<rect x="1357" y="529" width="3" height="1" fill="#c0c0c0"/>
<rect x="1363" y="529" width="3" height="1" fill="#c0c0c0"/>
<rect x="1369" y="529" width="3" height="1" fill="#c0c0c0"/>
<rect x="1375" y="529" width="3" height="1" fill="#c0c0c0"/>
<rect x="1381" y="529" width="3" height="1" fill="#c0c0c0"/>
<rect x="1387" y="529" width="3" height="1" fill="#c0c0c0"/>
<rect x="1393" y="529" width="3" height="1" fill="#c0c0c0"/>
<rect x="1399" y="529" width="3" height="1" fill="#c0c0c0"/>
<rect x="1405" y="529" width="3" height="1" fill="#c0c0c0"/>
<rect x="1411" y="529" width="3" height="1" fill="#c0c0c0"/>
<rect x="1417" y="529" width="3" height="1" fill="#c0c0c0"/>
<rect x="1423" y="529" width="3" height="1" fill="#c0c0c0"/>
<rect x="1429" y="529" width="3" height="1" fill="#c0c0c0"/>
<rect x="1435" y="529" width="3" height="1" fill="#c0c0c0"/>
<rect x="1441" y="529" width="3" height="1" fill="#c0c0c0"/>
<rect x="1447" y="529" width="3" height="1" fill="#c0c0c0"/>
<rect x="1453" y="529" width="3" height="1" fill="#c0c0c0"/>
<rect x="1459" y="529" width="3" height="1" fill="#c0c0c0"/>
<rect x="1465" y="529" width="3" height="1" fill="#c0c0c0"/>
<rect x="1471" y="529" width="3" height="1" fill="#c0c0c0"/>
<rect x="1477" y="529" width="3" height="1" fill="#c0c0c0"/>
<rect x="1483" y="529" width="3" height="1" fill="#c0c0c0"/>
<rect x="1489" y="529" width="1" height="1" fill="#c0c0c0"/>
<rect x="7" y="563" width="3" height="1" fill="#c0c0c0"/>
<rect x="13" y="563" width="3" height="1" fill="#c0c0c0"/>
<rect x="19" y="563" width="3" height="1" fill="#c0c0c0"/>
<rect x="25" y="563" width="3" height="1" fill="#c0c0c0"/>
<rect x="31" y="563" width="3" height="1" fill="#c0c0c0"/>
<rect x="37" y="563" width="3" height="1" fill="#c0c0c0"/>
<rect x="43" y="563" width="3" height="1" fill="#c0c0c0"/>
<rect x="49" y="563" width="3" height="1" fill="#c0c0c0"/>
<rect x="55" y="563" width="3" height="1" fill="#c0c0c0"/>
<rect x="61" y="563" width="3" height="1" fill="#c0c0c0"/>
<rect x="67" y="563" width="3" height="1" fill="#c0c0c0"/>
<rect x="73" y="563" width="3" height="1" fill="#c0c0c0"/>
<rect x="79" y="563" width="3" height="1" fill="#c0c0c0"/>
<rect x="85" y="563" width="3" height="1" fill="#c0c0c0"/>
<rect x="91" y="563" width="3" height="1" fill="#c0c0c0"/>
<rect x="97" y="563" width="3" height="1" fill="#c0c0c0"/>
<rect x="103" y="563" width="3" height="1" fill="#c0c0c0"/>
<rect x="109" y="563" width="3" height="1" fill="#c0c0c0"/>
<rect x="115" y="563" width="3" height="1" fill="#c0c0c0"/>
<rect x="121" y="563" width="3" height="1" fill="#c0c0c0"/>
<rect x="127" y="563" width="3" height="1" fill="#c0c0c0"/>
<rect x="133" y="563" width="3" height="1" fill="#c0c0c0"/>
<rect x="139" y="563" width="3" height="1" fill="#c0c0c0"/>
<rect x="145" y="563" width="3" height="1" fill="#c0c0c0"/>
<rect x="151" y="563" width="3" height="1" fill="#c0c0c0"/>
<rect x="157" y="563" width="3" height="1" fill="#c0c0c0"/>
<rect x="163" y="563" width="3" height="1" fill="#c0c0c0"/>
<rect x="169" y="563" width="3" height="1" fill="#c0c0c0"/>
<rect x="175" y="563" width="3" height="1" fill="#c0c0c0"/>
<rect x="181" y="563" width="3" height="1" fill="#c0c0c0"/>
<rect x="187" y="563" width="3" height="1" fill="#c0c0c0"/>
<rect x="193" y="563" width="3" height="1" fill="#c0c0c0"/>
<rect x="199" y="563" width="3" height="1" fill="#c0c0c0"/>
<rect x="205" y="563" width="3" height="1" fill="#c0c0c0"/>
<rect x="211" y="563" width="3" height="1" fill="#c0c0c0"/>
<rect x="217" y="563" width="3" height="1" fill="#c0c0c0"/>
<rect x="223" y="563" width="3" height="1" fill="#c0c0c0"/>
<rect x="229" y="563" width="3" height="1" fill="#c0c0c0"/>
<rect x="235" y="563" width="3" height="1" fill="#c0c0c0"/>
<rect x="241" y="563" width="3" height="1" fill="#c0c0c0"/>
<rect x="247" y="563" width="3" height="1" fill="#c0c0c0"/>
<rect x="253" y="563" width="3" height="1" fill="#c0c0c0"/>
<rect x="259" y="563" width="3" height="1" fill="#c0c0c0"/>
<rect x="265" y="563" width="3" height="1" fill="#c0c0c0"/>
<rect x="271" y="563" width="3" height="1" fill="#c0c0c0"/>
<rect x="277" y="563" width="3" height="1" fill="#c0c0c0"/>
<rect x="283" y="563" width="3" height="1" fill="#c0c0c0"/>
<rect x="289" y="563" width="3" height="1" fill="#c0c0c0"/>
<rect x="295" y="563" width="3" height="1" fill="#c0c0c0"/>
<rect x="301" y="563" width="3" height="1" fill="#c0c0c0"/>
<rect x="307" y="563" width="3" height="1" fill="#c0c0c0"/>
<rect x="313" y="563" width="3" height="1" fill="#c0c0c0"/>
<rect x="319" y="563" width="3" height="1" fill="#c0c0c0"/>
<rect x="325" y="563" width="3" height="1" fill="#c0c0c0"/>
<rect x="331" y="563" width="3" height="1" fill="#c0c0c0"/>
<rect x="337" y="563" width="3" height="1" fill="#c0c0c0"/>
<rect x="343" y="563" width="3" height="1" fill="#c0c0c0"/>
<rect x="349" y="563" width="3" height="1" fill="#c0c0c0"/>
<rect x="355" y="563" width="3" height="1" fill="#c0c0c0"/>
<rect x="361" y="563" width="3" height="1" fill="#c0c0c0"/>
<rect x="367" y="563" width="3" height="1" fill="#c0c0c0"/>
<rect x="373" y="563" width="3" height="1" fill="#c0c0c0"/>
<rect x="379" y="563" width="3" height="1" fill="#c0c0c0"/>
<rect x="385" y="563" width="3" height="1" fill="#c0c0c0"/>
<rect x="391" y="563" width="3" height="1" fill="#c0c0c0"/>
<rect x="397" y="563" width="3" height="1" fill="#c0c0c0"/>
<rect x="403" y="563" width="3" height="1" fill="#c0c0c0"/>
<rect x="409" y="563" width="3" height="1" fill="#c0c0c0"/>
<rect x="415" y="563" width="3" height="1" fill="#c0c0c0"/>
<rect x="421" y="563" width="3" height="1" fill="#c0c0c0"/>
<rect x="427" y="563" width="3" height="1" fill="#c0c0c0"/>
<rect x="433" y="563" width="3" height="1" fill="#c0c0c0"/>
<rect x="439" y="563" width="3" height="1" fill="#c0c0c0"/>
<rect x="445" y="563" width="3" height="1" fill="#c0c0c0"/>
<rect x="451" y="563" width="3" height="1" fill="#c0c0c0"/>
<rect x="457" y="563" width="3" height="1" fill="#c0c0c0"/>
<rect x="463" y="563" width="3" height="1" fill="#c0c0c0"/>
<rect x="469" y="563" width="3" height="1" fill="#c0c0c0"/>
<rect x="475" y="563" width="3" height="1" fill="#c0c0c0"/>
<rect x="481" y="563" width="3" height="1" fill="#c0c0c0"/>
<rect x="487" y="563" width="3" height="1" fill="#c0c0c0"/>
<rect x="493" y="563" width="3" height="1" fill="#c0c0c0"/>
<rect x="499" y="563" width="3" height="1" fill="#c0c0c0"/>
<rect x="505" y="563" width="3" height="1" fill="#c0c0c0"/>
<rect x="511" y="563" width="3" height="1" fill="#c0c0c0"/>
<rect x="517" y="563" width="3" height="1" fill="#c0c0c0"/>
<rect x="523" y="563" width="3" height="1" fill="#c0c0c0"/>
<rect x="529" y="563" width="3" height="1" fill="#c0c0c0"/>
<rect x="535" y="563" width="3" height="1" fill="#c0c0c0"/>
<rect x="541" y="563" width="3" height="1" fill="#c0c0c0"/>
<rect x="547" y="563" width="3" height="1" fill="#c0c0c0"/>
<rect x="553" y="563" width="3" height="1" fill="#c0c0c0"/>
<rect x="559" y="563" width="3" height="1" fill="#c0c0c0"/>
<rect x="565" y="563" width="3" height="1" fill="#c0c0c0"/>
<rect x="571" y="563" width="3" height="1" fill="#c0c0c0"/>
<rect x="577" y="563" width="3" height="1" fill="#c0c0c0"/>
<rect x="583" y="563" width="3" height="1" fill="#c0c0c0"/>
<rect x="589" y="563" width="3" height="1" fill="#c0c0c0"/>
<rect x="595" y="563" width="3" height="1" fill="#c0c0c0"/>
<rect x="601" y="563" width="3" height="1" fill="#c0c0c0"/>
<rect x="607" y="563" width="3" height="1" fill="#c0c0c0"/>
<rect x="613" y="563" width="3" height="1" fill="#c0c0c0"/>
<rect x="619" y="563" width="3" height="1" fill="#c0c0c0"/>
<rect x="625" y="563" width="3" height="1" fill="#c0c0c0"/>
<rect x="631" y="563" width="3" height="1" fill="#c0c0c0"/>
<rect x="637" y="563" width="3" height="1" fill="#c0c0c0"/>
<rect x="643" y="563" width="3" height="1" fill="#c0c0c0"/>
<rect x="649" y="563" width="3" height="1" fill="#c0c0c0"/>
<rect x="655" y="563" width="3" height="1" fill="#c0c0c0"/>
<rect x="661" y="563" width="3" height="1" fill="#c0c0c0"/>
<rect x="667" y="563" width="3" height="1" fill="#c0c0c0"/>
<rect x="673" y="563" width="3" height="1" fill="#c0c0c0"/>
<rect x="679" y="563" width="3" height="1" fill="#c0c0c0"/>
<rect x="685" y="563" width="3" height="1" fill="#c0c0c0"/>
<rect x="691" y="563" width="3" height="1" fill="#c0c0c0"/>
<rect x="697" y="563" width="3" height="1" fill="#c0c0c0"/>
<rect x="703" y="563" width="3" height="1" fill="#c0c0c0"/>
<rect x="709" y="563" width="3" height="1" fill="#c0c0c0"/>
<rect x="715" y="563" width="3" height="1" fill="#c0c0c0"/>
<rect x="721" y="563" width="3" height="1" fill="#c0c0c0"/>
<rect x="727" y="563" width="3" height="1" fill="#c0c0c0"/>
<rect x="733" y="563" width="3" height="1" fill="#c0c0c0"/>
<rect x="739" y="563" width="3" height="1" fill="#c0c0c0"/>
<rect x="745" y="563" width="3" height="1" fill="#c0c0c0"/>
<rect x="751" y="563" width="3" height="1" fill="#c0c0c0"/>
<rect x="757" y="563" width="3" height="1" fill="#c0c0c0"/>
<rect x="763" y="563" width="3" height="1" fill="#c0c0c0"/>
<rect x="769" y="563" width="3" height="1" fill="#c0c0c0"/>
<rect x="775" y="563" width="3" height="1" fill="#c0c0c0"/>
<rect x="781" y="563" width="3" height="1" fill="#c0c0c0"/>
<rect x="787" y="563" width="3" height="1" fill="#c0c0c0"/>
<rect x="793" y="563" width="3" height="1" fill="#c0c0c0"/>
<rect x="799" y="563" width="3" height="1" fill="#c0c0c0"/>
<rect x="805" y="563" width="3" height="1" fill="#c0c0c0"/>
<rect x="811" y="563" width="3" height="1" fill="#c0c0c0"/>
<rect x="817" y="563" width="3" height="1" fill="#c0c0c0"/>
<rect x="823" y="563" width="3" height="1" fill="#c0c0c0"/>
<rect x="829" y="563" width="3" height="1" fill="#c0c0c0"/>
<rect x="835" y="563" width="3" height="1" fill="#c0c0c0"/>
<rect x="841" y="563" width="3" height="1" fill="#c0c0c0"/>
<rect x="847" y="563" width="3" height="1" fill="#c0c0c0"/>
<rect x="853" y="563" width="3" height="1" fill="#c0c0c0"/>
<rect x="859" y="563" width="3" height="1" fill="#c0c0c0"/>
<rect x="865" y="563" width="3" height="1" fill="#c0c0c0"/>
<rect x="871" y="563" width="3" height="1" fill="#c0c0c0"/>
<rect x="877" y="563" width="3" height="1" fill="#c0c0c0"/>
<rect x="883" y="563" width="3" height="1" fill="#c0c0c0"/>
<rect x="889" y="563" width="3" height="1" fill="#c0c0c0"/>
<rect x="895" y="563" width="3" height="1" fill="#c0c0c0"/>
<rect x="901" y="563" width="3" height="1" fill="#c0c0c0"/>
<rect x="907" y="563" width="3" height="1" fill="#c0c0c0"/>
<rect x="913" y="563" width="3" height="1" fill="#c0c0c0"/>
<rect x="919" y="563" width="3" height="1" fill="#c0c0c0"/>
<rect x="925" y="563" width="3" height="1" fill="#c0c0c0"/>
<rect x="931" y="563" width="3" height="1" fill="#c0c0c0"/>
<rect x="937" y="563" width="3" height="1" fill="#c0c0c0"/>
<rect x="943" y="563" width="3" height="1" fill="#c0c0c0"/>
<rect x="949" y="563" width="3" height="1" fill="#c0c0c0"/>
<rect x="955" y="563" width="3" height="1" fill="#c0c0c0"/>
<rect x="961" y="563" width="3" height="1" fill="#c0c0c0"/>
<rect x="967" y="563" width="3" height="1" fill="#c0c0c0"/>
<rect x="973" y="563" width="3" height="1" fill="#c0c0c0"/>
<rect x="979" y="563" width="3" height="1" fill="#c0c0c0"/>
<rect x="985" y="563" width="3" height="1" fill="#c0c0c0"/>
<rect x="991" y="563" width="3" height="1" fill="#c0c0c0"/>
<rect x="997" y="563" width="3" height="1" fill="#c0c0c0"/>
<rect x="1003" y="563" width="3" height="1" fill="#c0c0c0"/>
<rect x="1009" y="563" width="3" height="1" fill="#c0c0c0"/>
<rect x="1015" y="563" width="3" height="1" fill="#c0c0c0"/>
<rect x="1021" y="563" width="3" height="1" fill="#c0c0c0"/>
<rect x="1027" y="563" width="3" height="1" fill="#c0c0c0"/>
<rect x="1033" y="563" width="3" height="1" fill="#c0c0c0"/>
<rect x="1039" y="563" width="3" height="1" fill="#c0c0c0"/>
<rect x="1045" y="563" width="3" height="1" fill="#c0c0c0"/>
<rect x="1051" y="563" width="3" height="1" fill="#c0c0c0"/>
<rect x="1057" y="563" width="3" height="1" fill="#c0c0c0"/>
<rect x="1063" y="563" width="3" height="1" fill="#c0c0c0"/>
<rect x="1069" y="563" width="3" height="1" fill="#c0c0c0"/>
<rect x="1075" y="563" width="3" height="1" fill="#c0c0c0"/>
<rect x="1081" y="563" width="3" height="1" fill="#c0c0c0"/>
<rect x="1087" y="563" width="3" height="1" fill="#c0c0c0"/>
<rect x="1093" y="563" width="3" height="1" fill="#c0c0c0"/>
<rect x="1099" y="563" width="3" height="1" fill="#c0c0c0"/>
<rect x="1105" y="563" width="3" height="1" fill="#c0c0c0"/>
<rect x="1111" y="563" width="3" height="1" fill="#c0c0c0"/>
<rect x="1117" y="563" width="3" height="1" fill="#c0c0c0"/>
<rect x="1123" y="563" width="3" height="1" fill="#c0c0c0"/>
<rect x="1129" y="563" width="3" height="1" fill="#c0c0c0"/>
<rect x="1135" y="563" width="3" height="1" fill="#c0c0c0"/>
<rect x="1141" y="563" width="3" height="1" fill="#c0c0c0"/>
<rect x="1147" y="563" width="3" height="1" fill="#c0c0c0"/>
<rect x="1153" y="563" width="3" height="1" fill="#c0c0c0"/>
<rect x="1159" y="563" width="3" height="1" fill="#c0c0c0"/>
<rect x="1165" y="563" width="3" height="1" fill="#c0c0c0"/>
<rect x="1171" y="563" width="3" height="1" fill="#c0c0c0"/>
<rect x="1177" y="563" width="3" height="1" fill="#c0c0c0"/>
<rect x="1183" y="563" width="3" height="1" fill="#c0c0c0"/>
<rect x="1189" y="563" width="3" height="1" fill="#c0c0c0"/>
<rect x="1195" y="563" width="3" height="1" fill="#c0c0c0"/>
<rect x="1201" y="563" width="3" height="1" fill="#c0c0c0"/>
<rect x="1207" y="563" width="3" height="1" fill="#c0c0c0"/>
<rect x="1213" y="563" width="3" height="1" fill="#c0c0c0"/>
<rect x="1219" y="563" width="3" height="1" fill="#c0c0c0"/>
<rect x="1225" y="563" width="3" height="1" fill="#c0c0c0"/>
<rect x="1231" y="563" width="3" height="1" fill="#c0c0c0"/>
<rect x="1237" y="563" width="3" height="1" fill="#c0c0c0"/>
<rect x="1243" y="563" width="3" height="1" fill="#c0c0c0"/>
<rect x="1249" y="563" width="3" height="1" fill="#c0c0c0"/>
<rect x="1255" y="563" width="3" height="1" fill="#c0c0c0"/>
<rect x="1261" y="563" width="3" height="1" fill="#c0c0c0"/>
<rect x="1267" y="563" width="3" height="1" fill="#c0c0c0"/>
<rect x="1273" y="563" width="3" height="1" fill="#c0c0c0"/>
<rect x="1279" y="563" width="3" height="1" fill="#c0c0c0"/>
<rect x="1285" y="563" width="3" height="1" fill="#c0c0c0"/>
<rect x="1291" y="563" width="3" height="1" fill="#c0c0c0"/>
<rect x="1297" y="563" width="3" height="1" fill="#c0c0c0"/>
<rect x="1303" y="563" width="3" height="1" fill="#c0c0c0"/>
<rect x="1309" y="563" width="3" height="1" fill="#c0c0c0"/>
<rect x="1315" y="563" width="3" height="1" fill="#c0c0c0"/>
<rect x="1321" y="563" width="3" height="1" fill="#c0c0c0"/>
<rect x="1327" y="563" width="3" height="1" fill="#c0c0c0"/>
<rect x="1333" y="563" width="3" height="1" fill="#c0c0c0"/>
<rect x="1339" y="563" width="3" height="1" fill="#c0c0c0"/>
<rect x="1345" y="563" width="3" height="1" fill="#c0c0c0"/>
<rect x="1351" y="563" width="3" height="1" fill="#c0c0c0"/>
<rect x="1357" y="563" width="3" height="1" fill="#c0c0c0"/>
<rect x="1363" y="563" width="3" height="1" fill="#c0c0c0"/>
<rect x="1369" y="563" width="3" height="1" fill="#c0c0c0"/>
<rect x="1375" y="563" width="3" height="1" fill="#c0c0c0"/>
<rect x="1381" y="563" width="3" height="1" fill="#c0c0c0"/>
<rect x="1387" y="563" width="3" height="1" fill="#c0c0c0"/>
<rect x="1393" y="563" width="3" height="1" fill="#c0c0c0"/>
<rect x="1399" y="563" width="3" height="1" fill="#c0c0c0"/>
<rect x="1405" y="563" width="3" height="1" fill="#c0c0c0"/>
<rect x="1411" y="563" width="3" height="1" fill="#c0c0c0"/>
<rect x="1417" y="563" width="3" height="1" fill="#c0c0c0"/>
<rect x="1423" y="563" width="3" height="1" fill="#c0c0c0"/>
<rect x="1429" y="563" width="3" height="1" fill="#c0c0c0"/>
<rect x="1435" y="563" width="3" height="1" fill="#c0c0c0"/>
<rect x="1441" y="563" width="3" height="1" fill="#c0c0c0"/>
<rect x="1447" y="563" width="3" height="1" fill="#c0c0c0"/>
<rect x="1453" y="563" width="3" height="1" fill="#c0c0c0"/>
<rect x="1459" y="563" width="3" height="1" fill="#c0c0c0"/>
<rect x="1465" y="563" width="3" height="1" fill="#c0c0c0"/>
<rect x="1471" y="563" width="3" height="1" fill="#c0c0c0"/>
<rect x="1477" y="563" width="3" height="1" fill="#c0c0c0"/>
<rect x="1483" y="563" width="3" height="1" fill="#c0c0c0"/>
<rect x="1489" y="563" width="1" height="1" fill="#c0c0c0"/>
<text x="10.2" y="515" font-size="10.17" fill="#000" textLength="68" lengthAdjust="spacingAndGlyphs" stroke="#000" stroke-width="0.18">RSI(14) 75.2005</text>
<text x="1494" y="513" font-size="10.17" fill="#000" textLength="15.3" lengthAdjust="spacingAndGlyphs" stroke="#000" stroke-width="0.18">100</text>
<text x="1493.3" y="533" font-size="10.17" fill="#000" textLength="10.2" lengthAdjust="spacingAndGlyphs" stroke="#000" stroke-width="0.18">70</text>
<text x="1493.3" y="567" font-size="10.17" fill="#000" textLength="10.2" lengthAdjust="spacingAndGlyphs" stroke="#000" stroke-width="0.18">30</text>
<text x="1494" y="586" font-size="10.17" fill="#000" textLength="5.1" lengthAdjust="spacingAndGlyphs" stroke="#000" stroke-width="0.18">0</text>
<rect x="1491" y="503" width="1" height="1" fill="#000"/>
<rect x="1491" y="588" width="1" height="1" fill="#000"/>
<path fill="#1e90ff" d="M874 518h1v2h-1zM873 519h1v1h-1zM871 520h2v1h-2zM875 520h1v2h-1zM866 521h5v1h-5zM865 522h1v2h-1zM876 522h1v2h-1zM1174 522h1v1h-1zM854 523h1v1h-1zM1172 523h2v1h-2zM1175 523h1v1h-1zM853 524h1v1h-1zM855 524h1v2h-1zM864 524h1v1h-1zM877 524h1v2h-1zM1170 524h2v1h-2zM1176 524h2v1h-2zM851 525h2v1h-2zM863 525h1v2h-1zM1169 525h1v1h-1zM1178 525h5v1h-5zM850 526h1v1h-1zM856 526h1v1h-1zM878 526h1v2h-1zM1168 526h1v1h-1zM849 527h1v2h-1zM857 527h1v2h-1zM862 527h1v1h-1zM1167 527h1v1h-1zM860 528h2v1h-2zM879 528h1v2h-1zM1166 528h1v1h-1zM389 529h2v1h-2zM638 529h1v1h-1zM848 529h1v2h-1zM858 529h2v1h-2zM1164 529h2v1h-2zM386 530h3v1h-3zM391 530h1v1h-1zM636 530h2v1h-2zM639 530h2v1h-2zM880 530h1v1h-1zM1162 530h2v1h-2zM384 531h2v1h-2zM392 531h1v1h-1zM634 531h2v1h-2zM641 531h2v1h-2zM847 531h1v2h-1zM881 531h1v2h-1zM1154 531h2v1h-2zM1160 531h2v1h-2zM382 532h2v1h-2zM393 532h1v1h-1zM434 532h1v1h-1zM632 532h2v1h-2zM643 532h2v1h-2zM1152 532h2v1h-2zM1156 532h4v1h-4zM381 533h1v1h-1zM394 533h2v1h-2zM432 533h2v1h-2zM435 533h2v1h-2zM590 533h1v1h-1zM630 533h2v1h-2zM645 533h2v1h-2zM846 533h1v1h-1zM882 533h1v2h-1zM1150 533h2v1h-2zM6 534h1v2h-1zM380 534h1v2h-1zM396 534h3v1h-3zM430 534h2v1h-2zM437 534h2v1h-2zM578 534h1v1h-1zM588 534h2v1h-2zM591 534h1v2h-1zM628 534h2v1h-2zM647 534h1v2h-1zM845 534h1v1h-1zM1149 534h1v2h-1zM399 535h1v1h-1zM429 535h1v1h-1zM439 535h2v1h-2zM576 535h2v1h-2zM579 535h1v1h-1zM586 535h2v1h-2zM626 535h2v1h-2zM844 535h1v1h-1zM883 535h1v4h-1zM7 536h1v3h-1zM379 536h1v1h-1zM400 536h1v1h-1zM427 536h2v1h-2zM441 536h2v1h-2zM574 536h2v1h-2zM580 536h1v1h-1zM585 536h1v1h-1zM592 536h1v1h-1zM626 536h1v1h-1zM648 536h1v2h-1zM843 536h1v1h-1zM1148 536h1v1h-1zM378 537h1v1h-1zM401 537h1v1h-1zM425 537h2v1h-2zM442 537h1v1h-1zM573 537h1v1h-1zM581 537h1v1h-1zM583 537h2v1h-2zM593 537h1v2h-1zM625 537h1v2h-1zM841 537h2v1h-2zM1058 537h1v1h-1zM1122 537h1v1h-1zM1147 537h1v2h-1zM377 538h1v1h-1zM402 538h1v1h-1zM422 538h3v1h-3zM443 538h1v3h-1zM549 538h2v1h-2zM572 538h1v2h-1zM582 538h1v1h-1zM649 538h1v2h-1zM658 538h1v1h-1zM838 538h3v1h-3zM1057 538h1v1h-1zM1059 538h2v1h-2zM1121 538h1v1h-1zM1123 538h1v1h-1zM8 539h1v2h-1zM376 539h1v2h-1zM403 539h1v1h-1zM421 539h1v1h-1zM545 539h4v1h-4zM550 539h1v1h-1zM594 539h1v1h-1zM624 539h1v2h-1zM656 539h2v1h-2zM659 539h1v2h-1zM838 539h1v2h-1zM884 539h1v3h-1zM942 539h1v1h-1zM1056 539h1v1h-1zM1061 539h2v1h-2zM1119 539h2v1h-2zM1124 539h2v1h-2zM1142 539h5v1h-5zM138 540h1v1h-1zM365 540h2v1h-2zM404 540h2v1h-2zM420 540h1v1h-1zM542 540h3v1h-3zM551 540h1v2h-1zM566 540h2v1h-2zM571 540h1v1h-1zM595 540h2v1h-2zM650 540h1v2h-1zM653 540h3v1h-3zM941 540h1v1h-1zM943 540h1v2h-1zM1055 540h1v1h-1zM1063 540h1v2h-1zM1118 540h1v1h-1zM1126 540h1v1h-1zM1141 540h1v2h-1zM9 541h1v3h-1zM137 541h1v1h-1zM139 541h1v1h-1zM362 541h3v1h-3zM367 541h1v1h-1zM375 541h1v1h-1zM406 541h1v1h-1zM419 541h1v1h-1zM444 541h1v4h-1zM540 541h2v1h-2zM565 541h1v1h-1zM568 541h3v1h-3zM597 541h2v1h-2zM623 541h1v2h-1zM651 541h2v1h-2zM660 541h1v2h-1zM837 541h1v4h-1zM939 541h2v1h-2zM1054 541h1v1h-1zM1116 541h2v1h-2zM1127 541h1v1h-1zM136 542h1v1h-1zM140 542h1v1h-1zM146 542h1v1h-1zM360 542h2v1h-2zM368 542h2v1h-2zM373 542h2v1h-2zM407 542h2v1h-2zM418 542h1v1h-1zM538 542h2v1h-2zM552 542h1v2h-1zM563 542h2v1h-2zM599 542h1v2h-1zM885 542h1v4h-1zM937 542h2v1h-2zM944 542h1v1h-1zM1053 542h1v2h-1zM1064 542h1v1h-1zM1114 542h2v1h-2zM1128 542h1v2h-1zM1140 542h1v1h-1zM135 543h1v1h-1zM141 543h1v1h-1zM144 543h2v1h-2zM147 543h2v1h-2zM358 543h2v1h-2zM370 543h3v1h-3zM409 543h3v1h-3zM416 543h2v1h-2zM490 543h2v1h-2zM538 543h1v1h-1zM562 543h1v1h-1zM622 543h1v2h-1zM661 543h1v2h-1zM690 543h1v1h-1zM898 543h1v2h-1zM934 543h3v1h-3zM945 543h1v2h-1zM1065 543h1v2h-1zM1114 543h1v1h-1zM1139 543h1v2h-1zM10 544h1v2h-1zM130 544h5v1h-5zM142 544h2v1h-2zM149 544h6v1h-6zM357 544h1v1h-1zM412 544h4v1h-4zM489 544h1v1h-1zM492 544h3v1h-3zM502 544h1v1h-1zM537 544h1v2h-1zM553 544h1v2h-1zM561 544h1v1h-1zM600 544h1v1h-1zM689 544h1v1h-1zM691 544h2v1h-2zM897 544h1v1h-1zM934 544h1v1h-1zM998 544h1v1h-1zM1052 544h1v2h-1zM1113 544h1v2h-1zM1129 544h1v1h-1zM11 545h4v1h-4zM130 545h1v1h-1zM155 545h1v1h-1zM262 545h5v1h-5zM356 545h1v2h-1zM445 545h1v3h-1zM488 545h1v1h-1zM495 545h2v1h-2zM500 545h2v1h-2zM503 545h1v2h-1zM559 545h2v1h-2zM601 545h1v2h-1zM613 545h2v1h-2zM621 545h1v1h-1zM662 545h1v2h-1zM688 545h1v2h-1zM693 545h2v1h-2zM749 545h2v1h-2zM836 545h1v5h-1zM896 545h1v2h-1zM899 545h1v2h-1zM933 545h1v2h-1zM946 545h5v1h-5zM985 545h3v1h-3zM997 545h1v1h-1zM999 545h1v1h-1zM1066 545h1v1h-1zM1130 545h9v1h-9zM15 546h1v1h-1zM54 546h2v1h-2zM129 546h1v3h-1zM156 546h2v1h-2zM262 546h1v1h-1zM267 546h2v1h-2zM487 546h1v1h-1zM497 546h3v1h-3zM536 546h1v3h-1zM554 546h1v2h-1zM557 546h2v1h-2zM610 546h3v1h-3zM615 546h2v1h-2zM619 546h2v1h-2zM682 546h1v1h-1zM695 546h1v2h-1zM746 546h3v1h-3zM751 546h1v1h-1zM886 546h1v2h-1zM951 546h1v1h-1zM982 546h3v1h-3zM988 546h3v1h-3zM996 546h1v1h-1zM1000 546h1v1h-1zM1051 546h1v2h-1zM1067 546h1v1h-1zM1112 546h1v2h-1zM16 547h2v1h-2zM21 547h2v1h-2zM42 547h6v1h-6zM52 547h2v1h-2zM56 547h3v1h-3zM158 547h1v1h-1zM194 547h2v1h-2zM261 547h1v3h-1zM269 547h2v1h-2zM278 547h1v1h-1zM286 547h1v1h-1zM355 547h1v1h-1zM485 547h2v1h-2zM504 547h1v2h-1zM555 547h2v1h-2zM602 547h1v1h-1zM609 547h1v1h-1zM617 547h2v1h-2zM663 547h1v1h-1zM680 547h2v1h-2zM683 547h2v1h-2zM687 547h1v1h-1zM746 547h1v1h-1zM752 547h1v2h-1zM887 547h1v1h-1zM895 547h1v1h-1zM900 547h1v3h-1zM932 547h1v2h-1zM952 547h2v1h-2zM981 547h1v1h-1zM991 547h2v1h-2zM995 547h1v1h-1zM1001 547h1v1h-1zM1068 547h1v2h-1zM1094 547h1v1h-1zM18 548h3v1h-3zM23 548h1v2h-1zM41 548h1v2h-1zM48 548h4v1h-4zM59 548h1v2h-1zM159 548h1v1h-1zM194 548h1v1h-1zM196 548h3v1h-3zM271 548h1v2h-1zM277 548h1v2h-1zM279 548h2v1h-2zM284 548h2v1h-2zM287 548h1v2h-1zM334 548h1v1h-1zM342 548h5v1h-5zM354 548h1v1h-1zM446 548h1v2h-1zM449 548h2v1h-2zM482 548h3v1h-3zM603 548h2v1h-2zM607 548h2v1h-2zM664 548h2v1h-2zM678 548h2v1h-2zM685 548h2v1h-2zM696 548h1v2h-1zM745 548h1v2h-1zM888 548h7v1h-7zM954 548h1v1h-1zM980 548h1v1h-1zM993 548h2v1h-2zM1002 548h1v1h-1zM1050 548h1v1h-1zM1082 548h2v1h-2zM1093 548h1v1h-1zM1095 548h2v1h-2zM1111 548h1v2h-1zM128 549h1v3h-1zM160 549h1v2h-1zM193 549h1v2h-1zM199 549h1v1h-1zM250 549h1v1h-1zM281 549h3v1h-3zM333 549h1v1h-1zM335 549h2v1h-2zM340 549h2v1h-2zM347 549h1v1h-1zM353 549h1v1h-1zM447 549h2v1h-2zM451 549h1v1h-1zM482 549h1v1h-1zM505 549h1v2h-1zM535 549h1v2h-1zM605 549h2v1h-2zM666 549h1v1h-1zM676 549h2v1h-2zM753 549h1v1h-1zM931 549h1v2h-1zM955 549h1v1h-1zM974 549h2v1h-2zM979 549h1v1h-1zM1003 549h1v1h-1zM1010 549h10v1h-10zM1048 549h2v1h-2zM1069 549h1v1h-1zM1081 549h1v1h-1zM1084 549h3v1h-3zM1092 549h1v1h-1zM1097 549h2v1h-2zM24 550h1v2h-1zM40 550h1v2h-1zM60 550h1v1h-1zM66 550h2v1h-2zM200 550h1v1h-1zM249 550h1v1h-1zM251 550h2v1h-2zM260 550h1v2h-1zM272 550h1v2h-1zM276 550h1v2h-1zM288 550h1v1h-1zM332 550h1v2h-1zM337 550h3v1h-3zM348 550h1v2h-1zM352 550h1v2h-1zM452 550h1v2h-1zM481 550h1v2h-1zM530 550h1v1h-1zM667 550h2v1h-2zM673 550h3v1h-3zM697 550h1v2h-1zM710 550h1v1h-1zM744 550h1v2h-1zM754 550h1v1h-1zM835 550h1v4h-1zM901 550h1v2h-1zM956 550h1v1h-1zM973 550h1v1h-1zM976 550h3v1h-3zM1004 550h2v1h-2zM1008 550h2v1h-2zM1020 550h3v1h-3zM1045 550h3v1h-3zM1070 550h1v1h-1zM1080 550h1v1h-1zM1087 550h2v1h-2zM1091 550h1v1h-1zM1099 550h1v1h-1zM1106 550h2v1h-2zM1110 550h1v2h-1zM61 551h1v2h-1zM65 551h1v1h-1zM68 551h4v1h-4zM161 551h1v1h-1zM192 551h1v3h-1zM201 551h1v1h-1zM248 551h1v2h-1zM253 551h2v1h-2zM289 551h1v2h-1zM294 551h1v1h-1zM506 551h2v1h-2zM529 551h1v1h-1zM531 551h2v1h-2zM534 551h1v2h-1zM669 551h4v1h-4zM709 551h1v1h-1zM711 551h1v1h-1zM755 551h2v1h-2zM930 551h1v2h-1zM957 551h1v1h-1zM972 551h1v2h-1zM1006 551h2v1h-2zM1023 551h2v1h-2zM1042 551h3v1h-3zM1071 551h1v1h-1zM1079 551h1v1h-1zM1089 551h2v1h-2zM1100 551h2v1h-2zM1104 551h2v1h-2zM1108 551h2v1h-2zM25 552h1v2h-1zM39 552h1v2h-1zM63 552h2v1h-2zM72 552h8v1h-8zM127 552h1v3h-1zM162 552h1v1h-1zM202 552h1v1h-1zM241 552h2v1h-2zM255 552h1v1h-1zM259 552h1v3h-1zM273 552h1v2h-1zM275 552h1v2h-1zM292 552h2v1h-2zM295 552h1v1h-1zM302 552h1v1h-1zM331 552h1v1h-1zM349 552h1v1h-1zM351 552h1v1h-1zM453 552h1v1h-1zM466 552h1v1h-1zM480 552h1v2h-1zM508 552h3v1h-3zM528 552h1v1h-1zM533 552h1v1h-1zM698 552h5v1h-5zM708 552h1v1h-1zM712 552h1v1h-1zM743 552h1v2h-1zM757 552h2v1h-2zM902 552h1v2h-1zM958 552h1v1h-1zM1025 552h3v1h-3zM1041 552h1v1h-1zM1072 552h2v1h-2zM1077 552h2v1h-2zM1102 552h2v1h-2zM30 553h1v1h-1zM62 553h1v1h-1zM80 553h3v1h-3zM163 553h1v1h-1zM203 553h2v1h-2zM238 553h3v1h-3zM243 553h2v1h-2zM247 553h1v1h-1zM256 553h1v2h-1zM290 553h2v1h-2zM296 553h2v1h-2zM300 553h2v1h-2zM303 553h1v1h-1zM330 553h1v1h-1zM350 553h1v1h-1zM454 553h1v1h-1zM465 553h1v1h-1zM467 553h1v1h-1zM511 553h1v1h-1zM527 553h1v1h-1zM703 553h2v1h-2zM707 553h1v1h-1zM713 553h1v1h-1zM759 553h1v1h-1zM929 553h1v1h-1zM959 553h2v1h-2zM965 553h3v1h-3zM971 553h1v1h-1zM1028 553h4v1h-4zM1039 553h2v1h-2zM1074 553h3v1h-3zM26 554h1v2h-1zM28 554h2v1h-2zM31 554h2v1h-2zM37 554h2v1h-2zM83 554h1v2h-1zM164 554h1v1h-1zM191 554h1v2h-1zM205 554h3v1h-3zM236 554h2v1h-2zM245 554h2v1h-2zM274 554h1v1h-1zM298 554h2v1h-2zM304 554h1v2h-1zM329 554h1v1h-1zM455 554h2v1h-2zM464 554h1v1h-1zM468 554h2v1h-2zM479 554h1v2h-1zM512 554h2v1h-2zM525 554h2v1h-2zM705 554h2v1h-2zM714 554h1v1h-1zM742 554h1v1h-1zM760 554h1v1h-1zM834 554h1v3h-1zM903 554h1v1h-1zM927 554h2v1h-2zM961 554h4v1h-4zM968 554h3v1h-3zM1032 554h7v1h-7zM27 555h1v1h-1zM33 555h4v1h-4zM126 555h1v2h-1zM165 555h1v1h-1zM208 555h3v1h-3zM234 555h2v1h-2zM257 555h2v1h-2zM327 555h2v1h-2zM457 555h3v1h-3zM463 555h1v1h-1zM470 555h2v1h-2zM514 555h11v1h-11zM715 555h1v1h-1zM741 555h1v1h-1zM761 555h1v1h-1zM904 555h1v2h-1zM926 555h1v1h-1zM84 556h1v1h-1zM109 556h2v1h-2zM122 556h4v1h-4zM166 556h2v1h-2zM173 556h7v1h-7zM185 556h3v1h-3zM190 556h1v2h-1zM211 556h1v1h-1zM234 556h1v1h-1zM258 556h1v1h-1zM305 556h1v1h-1zM326 556h1v1h-1zM460 556h3v1h-3zM472 556h4v1h-4zM478 556h1v2h-1zM716 556h2v1h-2zM740 556h1v2h-1zM762 556h1v1h-1zM830 556h4v1h-4zM924 556h2v1h-2zM85 557h1v2h-1zM106 557h3v1h-3zM111 557h2v1h-2zM122 557h1v1h-1zM168 557h5v1h-5zM180 557h5v1h-5zM188 557h2v1h-2zM212 557h2v1h-2zM233 557h1v3h-1zM306 557h2v1h-2zM313 557h3v1h-3zM325 557h1v1h-1zM476 557h2v1h-2zM718 557h1v1h-1zM763 557h1v1h-1zM828 557h2v1h-2zM905 557h1v1h-1zM922 557h2v1h-2zM94 558h1v1h-1zM105 558h1v1h-1zM113 558h2v1h-2zM121 558h1v2h-1zM214 558h1v1h-1zM308 558h5v1h-5zM316 558h3v1h-3zM324 558h1v2h-1zM719 558h1v1h-1zM726 558h1v1h-1zM739 558h1v1h-1zM764 558h2v1h-2zM821 558h7v1h-7zM906 558h1v1h-1zM921 558h1v2h-1zM86 559h1v1h-1zM93 559h1v1h-1zM95 559h1v1h-1zM103 559h2v1h-2zM115 559h1v2h-1zM215 559h1v2h-1zM319 559h1v1h-1zM720 559h2v1h-2zM724 559h2v1h-2zM727 559h2v1h-2zM738 559h1v1h-1zM766 559h1v1h-1zM818 559h3v1h-3zM907 559h1v1h-1zM87 560h2v1h-2zM91 560h2v1h-2zM96 560h1v1h-1zM102 560h1v1h-1zM120 560h1v2h-1zM232 560h1v2h-1zM320 560h2v1h-2zM323 560h1v1h-1zM722 560h2v1h-2zM729 560h2v1h-2zM737 560h1v1h-1zM767 560h2v1h-2zM818 560h1v1h-1zM908 560h1v1h-1zM920 560h1v2h-1zM89 561h2v1h-2zM97 561h1v1h-1zM100 561h2v1h-2zM116 561h1v2h-1zM216 561h1v1h-1zM322 561h1v1h-1zM731 561h2v1h-2zM735 561h2v1h-2zM769 561h3v1h-3zM817 561h1v3h-1zM909 561h1v1h-1zM98 562h2v1h-2zM119 562h1v2h-1zM217 562h1v2h-1zM231 562h1v3h-1zM733 562h2v1h-2zM772 562h3v1h-3zM910 562h2v1h-2zM919 562h1v2h-1zM117 563h1v2h-1zM775 563h2v1h-2zM912 563h4v1h-4zM118 564h1v2h-1zM218 564h2v1h-2zM777 564h3v1h-3zM816 564h1v2h-1zM916 564h3v1h-3zM220 565h4v1h-4zM230 565h1v2h-1zM780 565h3v1h-3zM224 566h6v1h-6zM783 566h2v1h-2zM815 566h1v3h-1zM785 567h2v1h-2zM787 568h1v1h-1zM788 569h2v1h-2zM814 569h1v2h-1zM790 570h6v1h-6zM796 571h8v1h-8zM813 571h1v1h-1zM804 572h3v1h-3zM812 572h1v1h-1zM807 573h2v1h-2zM811 573h1v1h-1zM809 574h2v1h-2z"/>
<text x="10.4" y="604" font-size="10.17" fill="#000" textLength="147.6" lengthAdjust="spacingAndGlyphs" stroke="#000" stroke-width="0.18">MACD(12,26,9) 0.010616 0.006873</text>
<text x="1494" y="602" font-size="10.17" fill="#000" textLength="38.4" lengthAdjust="spacingAndGlyphs" stroke="#000" stroke-width="0.18">0.011544</text>
<text x="1494" y="644" font-size="10.17" fill="#000" textLength="17.9" lengthAdjust="spacingAndGlyphs" stroke="#000" stroke-width="0.18">0.00</text>
<text x="1494" y="674" font-size="10.17" fill="#000" textLength="41.4" lengthAdjust="spacingAndGlyphs" stroke="#000" stroke-width="0.18">-0.008858</text>
<rect x="1491" y="593" width="1" height="1" fill="#000"/>
<rect x="1491" y="640" width="1" height="1" fill="#000"/>
<rect x="1491" y="676" width="1" height="1" fill="#000"/>
<rect x="6" y="624" width="1" height="16" fill="#c0c0c0"/>
<rect x="10" y="626" width="1" height="14" fill="#c0c0c0"/>
<rect x="14" y="628" width="1" height="12" fill="#c0c0c0"/>
<rect x="18" y="631" width="1" height="9" fill="#c0c0c0"/>
<rect x="22" y="633" width="1" height="7" fill="#c0c0c0"/>
<rect x="26" y="636" width="1" height="4" fill="#c0c0c0"/>
<rect x="30" y="639" width="1" height="1" fill="#c0c0c0"/>
<rect x="34" y="640" width="1" height="2" fill="#c0c0c0"/>
<rect x="38" y="640" width="1" height="4" fill="#c0c0c0"/>
<rect x="42" y="640" width="1" height="4" fill="#c0c0c0"/>
<rect x="46" y="640" width="1" height="3" fill="#c0c0c0"/>
<rect x="50" y="640" width="1" height="3" fill="#c0c0c0"/>
<rect x="54" y="640" width="1" height="3" fill="#c0c0c0"/>
<rect x="58" y="640" width="1" height="3" fill="#c0c0c0"/>
<rect x="62" y="640" width="1" height="4" fill="#c0c0c0"/>
<rect x="66" y="640" width="1" height="5" fill="#c0c0c0"/>
<rect x="70" y="640" width="1" height="5" fill="#c0c0c0"/>
<rect x="74" y="640" width="1" height="6" fill="#c0c0c0"/>
<rect x="78" y="640" width="1" height="6" fill="#c0c0c0"/>
<rect x="82" y="640" width="1" height="7" fill="#c0c0c0"/>
<rect x="86" y="640" width="1" height="9" fill="#c0c0c0"/>
<rect x="90" y="640" width="1" height="11" fill="#c0c0c0"/>
<rect x="94" y="640" width="1" height="12" fill="#c0c0c0"/>
<rect x="98" y="640" width="1" height="14" fill="#c0c0c0"/>
<rect x="102" y="640" width="1" height="15" fill="#c0c0c0"/>
<rect x="106" y="640" width="1" height="15" fill="#c0c0c0"/>
<rect x="110" y="640" width="1" height="15" fill="#c0c0c0"/>
<rect x="114" y="640" width="1" height="15" fill="#c0c0c0"/>
<rect x="118" y="640" width="1" height="17" fill="#c0c0c0"/>
<rect x="122" y="640" width="1" height="17" fill="#c0c0c0"/>
<rect x="126" y="640" width="1" height="17" fill="#c0c0c0"/>
<rect x="130" y="640" width="1" height="14" fill="#c0c0c0"/>
<rect x="134" y="640" width="1" height="11" fill="#c0c0c0"/>
<rect x="138" y="640" width="1" height="7" fill="#c0c0c0"/>
<rect x="142" y="640" width="1" height="6" fill="#c0c0c0"/>
<rect x="146" y="640" width="1" height="4" fill="#c0c0c0"/>
<rect x="150" y="640" width="1" height="2" fill="#c0c0c0"/>
<rect x="154" y="640" width="1" height="1" fill="#c0c0c0"/>
<rect x="158" y="640" width="1" height="1" fill="#c0c0c0"/>
<rect x="162" y="640" width="1" height="3" fill="#c0c0c0"/>
<rect x="166" y="640" width="1" height="5" fill="#c0c0c0"/>
<rect x="170" y="640" width="1" height="7" fill="#c0c0c0"/>
<rect x="174" y="640" width="1" height="9" fill="#c0c0c0"/>
<rect x="178" y="640" width="1" height="10" fill="#c0c0c0"/>
<rect x="182" y="640" width="1" height="11" fill="#c0c0c0"/>
<rect x="186" y="640" width="1" height="11" fill="#c0c0c0"/>
<rect x="190" y="640" width="1" height="12" fill="#c0c0c0"/>
<rect x="194" y="640" width="1" height="10" fill="#c0c0c0"/>
<rect x="198" y="640" width="1" height="9" fill="#c0c0c0"/>
<rect x="202" y="640" width="1" height="9" fill="#c0c0c0"/>
<rect x="206" y="640" width="1" height="9" fill="#c0c0c0"/>
<rect x="210" y="640" width="1" height="10" fill="#c0c0c0"/>
<rect x="214" y="640" width="1" height="11" fill="#c0c0c0"/>
<rect x="218" y="640" width="1" height="14" fill="#c0c0c0"/>
<rect x="222" y="640" width="1" height="16" fill="#c0c0c0"/>
<rect x="226" y="640" width="1" height="19" fill="#c0c0c0"/>
<rect x="230" y="640" width="1" height="20" fill="#c0c0c0"/>
<rect x="234" y="640" width="1" height="19" fill="#c0c0c0"/>
<rect x="238" y="640" width="1" height="18" fill="#c0c0c0"/>
<rect x="242" y="640" width="1" height="16" fill="#c0c0c0"/>
<rect x="246" y="640" width="1" height="15" fill="#c0c0c0"/>
<rect x="250" y="640" width="1" height="13" fill="#c0c0c0"/>
<rect x="254" y="640" width="1" height="12" fill="#c0c0c0"/>
<rect x="258" y="640" width="1" height="13" fill="#c0c0c0"/>
<rect x="262" y="640" width="1" height="10" fill="#c0c0c0"/>
<rect x="266" y="640" width="1" height="9" fill="#c0c0c0"/>
<rect x="270" y="640" width="1" height="7" fill="#c0c0c0"/>
<rect x="274" y="640" width="1" height="8" fill="#c0c0c0"/>
<rect x="278" y="640" width="1" height="7" fill="#c0c0c0"/>
<rect x="282" y="640" width="1" height="7" fill="#c0c0c0"/>
<rect x="286" y="640" width="1" height="6" fill="#c0c0c0"/>
<rect x="290" y="640" width="1" height="7" fill="#c0c0c0"/>
<rect x="294" y="640" width="1" height="7" fill="#c0c0c0"/>
<rect x="298" y="640" width="1" height="8" fill="#c0c0c0"/>
<rect x="302" y="640" width="1" height="8" fill="#c0c0c0"/>
<rect x="306" y="640" width="1" height="10" fill="#c0c0c0"/>
<rect x="310" y="640" width="1" height="12" fill="#c0c0c0"/>
<rect x="314" y="640" width="1" height="13" fill="#c0c0c0"/>
<rect x="318" y="640" width="1" height="14" fill="#c0c0c0"/>
<rect x="322" y="640" width="1" height="15" fill="#c0c0c0"/>
<rect x="326" y="640" width="1" height="16" fill="#c0c0c0"/>
<rect x="330" y="640" width="1" height="15" fill="#c0c0c0"/>
<rect x="334" y="640" width="1" height="13" fill="#c0c0c0"/>
<rect x="338" y="640" width="1" height="12" fill="#c0c0c0"/>
<rect x="342" y="640" width="1" height="10" fill="#c0c0c0"/>
<rect x="346" y="640" width="1" height="9" fill="#c0c0c0"/>
<rect x="350" y="640" width="1" height="9" fill="#c0c0c0"/>
<rect x="354" y="640" width="1" height="8" fill="#c0c0c0"/>
<rect x="358" y="640" width="1" height="6" fill="#c0c0c0"/>
<rect x="362" y="640" width="1" height="4" fill="#c0c0c0"/>
<rect x="366" y="640" width="1" height="2" fill="#c0c0c0"/>
<rect x="370" y="640" width="1" height="1" fill="#c0c0c0"/>
<rect x="374" y="639" width="1" height="1" fill="#c0c0c0"/>
<rect x="378" y="637" width="1" height="3" fill="#c0c0c0"/>
<rect x="382" y="633" width="1" height="7" fill="#c0c0c0"/>
<rect x="386" y="630" width="1" height="10" fill="#c0c0c0"/>
<rect x="390" y="627" width="1" height="13" fill="#c0c0c0"/>
<rect x="394" y="626" width="1" height="14" fill="#c0c0c0"/>
<rect x="398" y="625" width="1" height="15" fill="#c0c0c0"/>
<rect x="402" y="625" width="1" height="15" fill="#c0c0c0"/>
<rect x="406" y="626" width="1" height="14" fill="#c0c0c0"/>
<rect x="410" y="628" width="1" height="12" fill="#c0c0c0"/>
<rect x="414" y="629" width="1" height="11" fill="#c0c0c0"/>
<rect x="418" y="630" width="1" height="10" fill="#c0c0c0"/>
<rect x="422" y="630" width="1" height="10" fill="#c0c0c0"/>
<rect x="426" y="629" width="1" height="11" fill="#c0c0c0"/>
<rect x="430" y="628" width="1" height="12" fill="#c0c0c0"/>
<rect x="434" y="627" width="1" height="13" fill="#c0c0c0"/>
<rect x="438" y="627" width="1" height="13" fill="#c0c0c0"/>
<rect x="442" y="627" width="1" height="13" fill="#c0c0c0"/>
<rect x="446" y="629" width="1" height="11" fill="#c0c0c0"/>
<rect x="450" y="632" width="1" height="8" fill="#c0c0c0"/>
<rect x="454" y="635" width="1" height="5" fill="#c0c0c0"/>
<rect x="458" y="638" width="1" height="2" fill="#c0c0c0"/>
<rect x="462" y="640" width="1" height="1" fill="#c0c0c0"/>
<rect x="466" y="640" width="1" height="1" fill="#c0c0c0"/>
<rect x="470" y="640" width="1" height="3" fill="#c0c0c0"/>
<rect x="474" y="640" width="1" height="5" fill="#c0c0c0"/>
<rect x="478" y="640" width="1" height="6" fill="#c0c0c0"/>
<rect x="482" y="640" width="1" height="6" fill="#c0c0c0"/>
<rect x="486" y="640" width="1" height="5" fill="#c0c0c0"/>
<rect x="490" y="640" width="1" height="4" fill="#c0c0c0"/>
<rect x="494" y="640" width="1" height="2" fill="#c0c0c0"/>
<rect x="498" y="640" width="1" height="2" fill="#c0c0c0"/>
<rect x="502" y="640" width="1" height="1" fill="#c0c0c0"/>
<rect x="506" y="640" width="1" height="2" fill="#c0c0c0"/>
<rect x="510" y="640" width="1" height="3" fill="#c0c0c0"/>
<rect x="514" y="640" width="1" height="4" fill="#c0c0c0"/>
<rect x="518" y="640" width="1" height="5" fill="#c0c0c0"/>
<rect x="522" y="640" width="1" height="6" fill="#c0c0c0"/>
<rect x="526" y="640" width="1" height="6" fill="#c0c0c0"/>
<rect x="530" y="640" width="1" height="6" fill="#c0c0c0"/>
<rect x="534" y="640" width="1" height="6" fill="#c0c0c0"/>
<rect x="538" y="640" width="1" height="4" fill="#c0c0c0"/>
<rect x="542" y="640" width="1" height="2" fill="#c0c0c0"/>
<rect x="546" y="640" width="1" height="1" fill="#c0c0c0"/>
<rect x="550" y="639" width="1" height="1" fill="#c0c0c0"/>
<rect x="554" y="639" width="1" height="1" fill="#c0c0c0"/>
<rect x="558" y="639" width="1" height="1" fill="#c0c0c0"/>
<rect x="562" y="639" width="1" height="1" fill="#c0c0c0"/>
<rect x="566" y="638" width="1" height="2" fill="#c0c0c0"/>
<rect x="570" y="637" width="1" height="3" fill="#c0c0c0"/>
<rect x="574" y="636" width="1" height="4" fill="#c0c0c0"/>
<rect x="578" y="634" width="1" height="6" fill="#c0c0c0"/>
<rect x="582" y="633" width="1" height="7" fill="#c0c0c0"/>
<rect x="586" y="632" width="1" height="8" fill="#c0c0c0"/>
<rect x="590" y="631" width="1" height="9" fill="#c0c0c0"/>
<rect x="594" y="631" width="1" height="9" fill="#c0c0c0"/>
<rect x="598" y="631" width="1" height="9" fill="#c0c0c0"/>
<rect x="602" y="633" width="1" height="7" fill="#c0c0c0"/>
<rect x="606" y="635" width="1" height="5" fill="#c0c0c0"/>
<rect x="610" y="635" width="1" height="5" fill="#c0c0c0"/>
<rect x="614" y="636" width="1" height="4" fill="#c0c0c0"/>
<rect x="618" y="637" width="1" height="3" fill="#c0c0c0"/>
<rect x="622" y="637" width="1" height="3" fill="#c0c0c0"/>
<rect x="626" y="635" width="1" height="5" fill="#c0c0c0"/>
<rect x="630" y="633" width="1" height="7" fill="#c0c0c0"/>
<rect x="634" y="630" width="1" height="10" fill="#c0c0c0"/>
<rect x="638" y="628" width="1" height="12" fill="#c0c0c0"/>
<rect x="642" y="627" width="1" height="13" fill="#c0c0c0"/>
<rect x="646" y="626" width="1" height="14" fill="#c0c0c0"/>
<rect x="650" y="627" width="1" height="13" fill="#c0c0c0"/>
<rect x="654" y="628" width="1" height="12" fill="#c0c0c0"/>
<rect x="658" y="628" width="1" height="12" fill="#c0c0c0"/>
<rect x="662" y="630" width="1" height="10" fill="#c0c0c0"/>
<rect x="666" y="632" width="1" height="8" fill="#c0c0c0"/>
<rect x="670" y="634" width="1" height="6" fill="#c0c0c0"/>
<rect x="674" y="636" width="1" height="4" fill="#c0c0c0"/>
<rect x="678" y="637" width="1" height="3" fill="#c0c0c0"/>
<rect x="682" y="637" width="1" height="3" fill="#c0c0c0"/>
<rect x="686" y="638" width="1" height="2" fill="#c0c0c0"/>
<rect x="690" y="638" width="1" height="2" fill="#c0c0c0"/>
<rect x="694" y="638" width="1" height="2" fill="#c0c0c0"/>
<rect x="698" y="640" width="1" height="1" fill="#c0c0c0"/>
<rect x="702" y="640" width="1" height="1" fill="#c0c0c0"/>
<rect x="706" y="640" width="1" height="2" fill="#c0c0c0"/>
<rect x="710" y="640" width="1" height="3" fill="#c0c0c0"/>
<rect x="714" y="640" width="1" height="4" fill="#c0c0c0"/>
<rect x="718" y="640" width="1" height="6" fill="#c0c0c0"/>
<rect x="722" y="640" width="1" height="8" fill="#c0c0c0"/>
<rect x="726" y="640" width="1" height="9" fill="#c0c0c0"/>
<rect x="730" y="640" width="1" height="11" fill="#c0c0c0"/>
<rect x="734" y="640" width="1" height="12" fill="#c0c0c0"/>
<rect x="738" y="640" width="1" height="13" fill="#c0c0c0"/>
<rect x="742" y="640" width="1" height="12" fill="#c0c0c0"/>
<rect x="746" y="640" width="1" height="10" fill="#c0c0c0"/>
<rect x="750" y="640" width="1" height="8" fill="#c0c0c0"/>
<rect x="754" y="640" width="1" height="8" fill="#c0c0c0"/>
<rect x="758" y="640" width="1" height="8" fill="#c0c0c0"/>
<rect x="762" y="640" width="1" height="9" fill="#c0c0c0"/>
<rect x="766" y="640" width="1" height="11" fill="#c0c0c0"/>
<rect x="770" y="640" width="1" height="12" fill="#c0c0c0"/>
<rect x="774" y="640" width="1" height="14" fill="#c0c0c0"/>
<rect x="778" y="640" width="1" height="16" fill="#c0c0c0"/>
<rect x="782" y="640" width="1" height="17" fill="#c0c0c0"/>
<rect x="786" y="640" width="1" height="19" fill="#c0c0c0"/>
<rect x="790" y="640" width="1" height="22" fill="#c0c0c0"/>
<rect x="794" y="640" width="1" height="24" fill="#c0c0c0"/>
<rect x="798" y="640" width="1" height="25" fill="#c0c0c0"/>
<rect x="802" y="640" width="1" height="26" fill="#c0c0c0"/>
<rect x="806" y="640" width="1" height="27" fill="#c0c0c0"/>
<rect x="810" y="640" width="1" height="29" fill="#c0c0c0"/>
<rect x="814" y="640" width="1" height="29" fill="#c0c0c0"/>
<rect x="818" y="640" width="1" height="27" fill="#c0c0c0"/>
<rect x="822" y="640" width="1" height="25" fill="#c0c0c0"/>
<rect x="826" y="640" width="1" height="24" fill="#c0c0c0"/>
<rect x="830" y="640" width="1" height="22" fill="#c0c0c0"/>
<rect x="834" y="640" width="1" height="20" fill="#c0c0c0"/>
<rect x="838" y="640" width="1" height="15" fill="#c0c0c0"/>
<rect x="842" y="640" width="1" height="10" fill="#c0c0c0"/>
<rect x="846" y="640" width="1" height="5" fill="#c0c0c0"/>
<rect x="850" y="638" width="1" height="2" fill="#c0c0c0"/>
<rect x="854" y="630" width="1" height="10" fill="#c0c0c0"/>
<rect x="858" y="626" width="1" height="14" fill="#c0c0c0"/>
<rect x="862" y="621" width="1" height="19" fill="#c0c0c0"/>
<rect x="866" y="614" width="1" height="26" fill="#c0c0c0"/>
<rect x="870" y="608" width="1" height="32" fill="#c0c0c0"/>
<rect x="874" y="600" width="1" height="40" fill="#c0c0c0"/>
<rect x="878" y="597" width="1" height="43" fill="#c0c0c0"/>
<rect x="882" y="598" width="1" height="42" fill="#c0c0c0"/>
<rect x="886" y="605" width="1" height="35" fill="#c0c0c0"/>
<rect x="890" y="611" width="1" height="29" fill="#c0c0c0"/>
<rect x="894" y="616" width="1" height="24" fill="#c0c0c0"/>
<rect x="898" y="619" width="1" height="21" fill="#c0c0c0"/>
<rect x="902" y="626" width="1" height="14" fill="#c0c0c0"/>
<rect x="906" y="636" width="1" height="4" fill="#c0c0c0"/>
<rect x="910" y="640" width="1" height="9" fill="#c0c0c0"/>
<rect x="914" y="640" width="1" height="20" fill="#c0c0c0"/>
<rect x="918" y="640" width="1" height="29" fill="#c0c0c0"/>
<rect x="922" y="640" width="1" height="32" fill="#c0c0c0"/>
<rect x="926" y="640" width="1" height="33" fill="#c0c0c0"/>
<rect x="930" y="640" width="1" height="32" fill="#c0c0c0"/>
<rect x="934" y="640" width="1" height="24" fill="#c0c0c0"/>
<rect x="938" y="640" width="1" height="17" fill="#c0c0c0"/>
<rect x="942" y="640" width="1" height="9" fill="#c0c0c0"/>
<rect x="946" y="640" width="1" height="7" fill="#c0c0c0"/>
<rect x="950" y="640" width="1" height="4" fill="#c0c0c0"/>
<rect x="954" y="640" width="1" height="5" fill="#c0c0c0"/>
<rect x="958" y="640" width="1" height="8" fill="#c0c0c0"/>
<rect x="962" y="640" width="1" height="13" fill="#c0c0c0"/>
<rect x="966" y="640" width="1" height="15" fill="#c0c0c0"/>
<rect x="970" y="640" width="1" height="18" fill="#c0c0c0"/>
<rect x="974" y="640" width="1" height="17" fill="#c0c0c0"/>
<rect x="978" y="640" width="1" height="16" fill="#c0c0c0"/>
<rect x="982" y="640" width="1" height="14" fill="#c0c0c0"/>
<rect x="986" y="640" width="1" height="11" fill="#c0c0c0"/>
<rect x="990" y="640" width="1" height="9" fill="#c0c0c0"/>
<rect x="994" y="640" width="1" height="8" fill="#c0c0c0"/>
<rect x="998" y="640" width="1" height="6" fill="#c0c0c0"/>
<rect x="1002" y="640" width="1" height="6" fill="#c0c0c0"/>
<rect x="1006" y="640" width="1" height="8" fill="#c0c0c0"/>
<rect x="1010" y="640" width="1" height="8" fill="#c0c0c0"/>
<rect x="1014" y="640" width="1" height="8" fill="#c0c0c0"/>
<rect x="1018" y="640" width="1" height="8" fill="#c0c0c0"/>
<rect x="1022" y="640" width="1" height="9" fill="#c0c0c0"/>
<rect x="1026" y="640" width="1" height="10" fill="#c0c0c0"/>
<rect x="1030" y="640" width="1" height="12" fill="#c0c0c0"/>
<rect x="1034" y="640" width="1" height="13" fill="#c0c0c0"/>
<rect x="1038" y="640" width="1" height="14" fill="#c0c0c0"/>
<rect x="1042" y="640" width="1" height="14" fill="#c0c0c0"/>
<rect x="1046" y="640" width="1" height="13" fill="#c0c0c0"/>
<rect x="1050" y="640" width="1" height="11" fill="#c0c0c0"/>
<rect x="1054" y="640" width="1" height="8" fill="#c0c0c0"/>
<rect x="1058" y="640" width="1" height="2" fill="#c0c0c0"/>
<rect x="1062" y="639" width="1" height="1" fill="#c0c0c0"/>
<rect x="1066" y="639" width="1" height="1" fill="#c0c0c0"/>
<rect x="1070" y="640" width="1" height="1" fill="#c0c0c0"/>
<rect x="1074" y="640" width="1" height="3" fill="#c0c0c0"/>
<rect x="1078" y="640" width="1" height="5" fill="#c0c0c0"/>
<rect x="1082" y="640" width="1" height="5" fill="#c0c0c0"/>
<rect x="1086" y="640" width="1" height="5" fill="#c0c0c0"/>
<rect x="1090" y="640" width="1" height="6" fill="#c0c0c0"/>
<rect x="1094" y="640" width="1" height="6" fill="#c0c0c0"/>
<rect x="1098" y="640" width="1" height="6" fill="#c0c0c0"/>
<rect x="1102" y="640" width="1" height="7" fill="#c0c0c0"/>
<rect x="1106" y="640" width="1" height="8" fill="#c0c0c0"/>
<rect x="1110" y="640" width="1" height="8" fill="#c0c0c0"/>
<rect x="1114" y="640" width="1" height="5" fill="#c0c0c0"/>
<rect x="1118" y="640" width="1" height="2" fill="#c0c0c0"/>
<rect x="1122" y="638" width="1" height="2" fill="#c0c0c0"/>
<rect x="1126" y="636" width="1" height="4" fill="#c0c0c0"/>
<rect x="1130" y="636" width="1" height="4" fill="#c0c0c0"/>
<rect x="1134" y="636" width="1" height="4" fill="#c0c0c0"/>
<rect x="1138" y="636" width="1" height="4" fill="#c0c0c0"/>
<rect x="1142" y="634" width="1" height="6" fill="#c0c0c0"/>
<rect x="1146" y="632" width="1" height="8" fill="#c0c0c0"/>
<rect x="1150" y="628" width="1" height="12" fill="#c0c0c0"/>
<rect x="1154" y="623" width="1" height="17" fill="#c0c0c0"/>
<rect x="1158" y="620" width="1" height="20" fill="#c0c0c0"/>
<rect x="1162" y="617" width="1" height="23" fill="#c0c0c0"/>
<rect x="1166" y="613" width="1" height="27" fill="#c0c0c0"/>
<rect x="1170" y="608" width="1" height="32" fill="#c0c0c0"/>
<rect x="1174" y="602" width="1" height="38" fill="#c0c0c0"/>
<rect x="1178" y="598" width="1" height="42" fill="#c0c0c0"/>
<rect x="1182" y="596" width="1" height="44" fill="#c0c0c0"/>
<path fill="#ff0000" d="M897 607h2v1h-2zM893 608h1v1h-1zM899 608h1v1h-1zM891 609h2v1h-2zM903 610h1v1h-1zM886 611h2v1h-2zM904 611h2v1h-2zM885 612h1v1h-1zM1181 613h1v1h-1zM1180 614h1v1h-1zM908 615h1v1h-1zM1179 615h1v1h-1zM881 616h1v1h-1zM909 616h1v1h-1zM880 617h1v2h-1zM910 617h1v1h-1zM1175 619h1v1h-1zM1174 620h1v1h-1zM912 621h1v1h-1zM1173 621h1v1h-1zM877 622h1v1h-1zM913 622h1v2h-1zM876 623h1v1h-1zM875 624h1v1h-1zM1169 624h1v1h-1zM1167 625h2v1h-2zM12 626h3v1h-3zM18 626h3v1h-3zM6 627h3v1h-3zM24 627h3v1h-3zM420 627h3v1h-3zM426 627h2v1h-2zM916 627h1v2h-1zM414 628h3v1h-3zM428 628h1v1h-1zM432 628h3v1h-3zM438 628h3v1h-3zM444 628h3v1h-3zM873 628h1v1h-1zM1163 628h1v1h-1zM30 629h1v1h-1zM409 629h2v1h-2zM450 629h3v1h-3zM660 629h3v1h-3zM666 629h3v1h-3zM872 629h1v1h-1zM917 629h1v1h-1zM1162 629h1v1h-1zM31 630h2v1h-2zM408 630h1v1h-1zM456 630h3v1h-3zM654 630h3v1h-3zM672 630h3v1h-3zM871 630h1v1h-1zM1161 630h1v1h-1zM402 631h3v1h-3zM462 631h1v1h-1zM649 631h2v1h-2zM678 631h2v1h-2zM463 632h2v1h-2zM648 632h1v1h-1zM680 632h1v1h-1zM1156 632h2v1h-2zM36 633h2v1h-2zM398 633h1v1h-1zM601 633h2v1h-2zM606 633h3v1h-3zM612 633h3v1h-3zM618 633h2v1h-2zM642 633h3v1h-3zM684 633h3v1h-3zM919 633h1v2h-1zM1155 633h1v1h-1zM38 634h1v1h-1zM396 634h2v1h-2zM468 634h1v1h-1zM600 634h1v1h-1zM620 634h1v1h-1zM624 634h3v1h-3zM636 634h3v1h-3zM869 634h1v1h-1zM469 635h2v1h-2zM594 635h3v1h-3zM630 635h3v1h-3zM690 635h2v1h-2zM868 635h1v1h-1zM920 635h1v1h-1zM1150 635h2v1h-2zM42 636h1v1h-1zM588 636h3v1h-3zM692 636h1v1h-1zM867 636h1v1h-1zM1149 636h1v1h-1zM43 637h2v1h-2zM391 637h2v1h-2zM474 637h1v1h-1zM582 637h3v1h-3zM696 637h3v1h-3zM390 638h1v1h-1zM475 638h2v1h-2zM577 638h2v1h-2zM702 638h2v1h-2zM1144 638h2v1h-2zM48 639h3v1h-3zM576 639h1v1h-1zM704 639h1v1h-1zM708 639h3v1h-3zM922 639h1v2h-1zM1143 639h1v1h-1zM386 640h1v1h-1zM480 640h1v1h-1zM570 640h3v1h-3zM714 640h2v1h-2zM864 640h1v2h-1zM1138 640h2v1h-2zM54 641h2v1h-2zM384 641h2v1h-2zM481 641h2v1h-2zM565 641h2v1h-2zM716 641h1v1h-1zM923 641h1v1h-1zM1137 641h1v1h-1zM56 642h1v1h-1zM486 642h2v1h-2zM564 642h1v1h-1zM720 642h3v1h-3zM863 642h1v1h-1zM1133 642h1v1h-1zM60 643h3v1h-3zM66 643h2v1h-2zM380 643h1v1h-1zM488 643h1v1h-1zM510 643h3v1h-3zM516 643h3v1h-3zM522 643h2v1h-2zM553 643h2v1h-2zM558 643h3v1h-3zM726 643h1v1h-1zM1085 643h1v1h-1zM1089 643h3v1h-3zM1095 643h1v1h-1zM1131 643h2v1h-2zM68 644h1v1h-1zM72 644h3v1h-3zM78 644h2v1h-2zM169 644h2v1h-2zM174 644h2v1h-2zM378 644h2v1h-2zM492 644h3v1h-3zM498 644h3v1h-3zM504 644h3v1h-3zM524 644h1v1h-1zM528 644h3v1h-3zM534 644h2v1h-2zM546 644h3v1h-3zM552 644h1v1h-1zM727 644h2v1h-2zM1083 644h2v1h-2zM1096 644h2v1h-2zM1125 644h3v1h-3zM80 645h1v1h-1zM84 645h3v1h-3zM162 645h3v1h-3zM168 645h1v1h-1zM176 645h1v1h-1zM374 645h1v1h-1zM536 645h1v1h-1zM540 645h3v1h-3zM925 645h1v2h-1zM1077 645h3v1h-3zM1101 645h3v1h-3zM1121 645h1v1h-1zM90 646h2v1h-2zM180 646h3v1h-3zM372 646h2v1h-2zM732 646h3v1h-3zM860 646h1v1h-1zM1073 646h1v1h-1zM1107 646h3v1h-3zM1113 646h3v1h-3zM1119 646h2v1h-2zM92 647h1v1h-1zM158 647h1v1h-1zM186 647h2v1h-2zM300 647h3v1h-3zM738 647h1v1h-1zM859 647h1v1h-1zM926 647h1v1h-1zM1071 647h2v1h-2zM96 648h3v1h-3zM156 648h2v1h-2zM188 648h1v1h-1zM289 648h2v1h-2zM294 648h3v1h-3zM306 648h3v1h-3zM366 648h3v1h-3zM739 648h2v1h-2zM858 648h1v1h-1zM1013 648h1v1h-1zM1017 648h3v1h-3zM1023 648h3v1h-3zM1029 648h3v1h-3zM1066 648h2v1h-2zM102 649h2v1h-2zM192 649h3v1h-3zM198 649h2v1h-2zM288 649h1v1h-1zM312 649h3v1h-3zM318 649h1v1h-1zM744 649h3v1h-3zM1011 649h2v1h-2zM1035 649h1v1h-1zM1065 649h1v1h-1zM104 650h1v1h-1zM150 650h3v1h-3zM200 650h1v1h-1zM204 650h3v1h-3zM210 650h3v1h-3zM216 650h3v1h-3zM282 650h3v1h-3zM319 650h2v1h-2zM361 650h2v1h-2zM750 650h3v1h-3zM756 650h3v1h-3zM762 650h3v1h-3zM768 650h3v1h-3zM774 650h2v1h-2zM1005 650h3v1h-3zM1036 650h2v1h-2zM1061 650h1v1h-1zM108 651h3v1h-3zM222 651h2v1h-2zM277 651h2v1h-2zM360 651h1v1h-1zM776 651h1v1h-1zM929 651h1v2h-1zM969 651h3v1h-3zM975 651h3v1h-3zM1041 651h3v1h-3zM1047 651h1v1h-1zM1053 651h3v1h-3zM1059 651h2v1h-2zM114 652h2v1h-2zM145 652h2v1h-2zM224 652h1v1h-1zM276 652h1v1h-1zM324 652h3v1h-3zM330 652h2v1h-2zM354 652h3v1h-3zM780 652h3v1h-3zM854 652h1v1h-1zM965 652h1v1h-1zM981 652h3v1h-3zM1000 652h2v1h-2zM1048 652h2v1h-2zM116 653h1v1h-1zM144 653h1v1h-1zM228 653h3v1h-3zM270 653h3v1h-3zM332 653h1v1h-1zM336 653h3v1h-3zM342 653h3v1h-3zM348 653h3v1h-3zM786 653h2v1h-2zM853 653h1v1h-1zM930 653h1v1h-1zM963 653h2v1h-2zM987 653h3v1h-3zM993 653h3v1h-3zM999 653h1v1h-1zM120 654h3v1h-3zM138 654h3v1h-3zM234 654h2v1h-2zM265 654h2v1h-2zM788 654h1v1h-1zM852 654h1v1h-1zM126 655h3v1h-3zM132 655h3v1h-3zM236 655h1v1h-1zM264 655h1v1h-1zM792 655h1v1h-1zM959 655h1v1h-1zM240 656h3v1h-3zM246 656h2v1h-2zM258 656h3v1h-3zM793 656h2v1h-2zM958 656h1v1h-1zM248 657h1v1h-1zM252 657h3v1h-3zM933 657h1v1h-1zM957 657h1v1h-1zM798 658h1v1h-1zM848 658h1v1h-1zM934 658h1v1h-1zM799 659h2v1h-2zM847 659h1v1h-1zM935 659h1v1h-1zM953 659h1v1h-1zM846 660h1v1h-1zM951 660h2v1h-2zM804 661h3v1h-3zM842 662h1v1h-1zM939 662h2v1h-2zM945 662h3v1h-3zM810 663h2v1h-2zM840 663h2v1h-2zM941 663h1v1h-1zM812 664h1v1h-1zM816 665h3v1h-3zM836 665h1v1h-1zM822 666h3v1h-3zM828 666h3v1h-3zM834 666h2v1h-2z"/>
<rect x="6" y="678" width="1" height="3" fill="#000"/>
<text x="4.7" y="690" font-size="10.17" fill="#000" textLength="50.0" lengthAdjust="spacingAndGlyphs" stroke="#000" stroke-width="0.18">29 Jun 2019</text>
<rect x="70" y="678" width="1" height="3" fill="#000"/>
<text x="68.7" y="690" font-size="10.17" fill="#000" textLength="47.4" lengthAdjust="spacingAndGlyphs" stroke="#000" stroke-width="0.18">18 Jul 2019</text>
<rect x="134" y="678" width="1" height="3" fill="#000"/>
<text x="132.7" y="690" font-size="10.17" fill="#000" textLength="47.9" lengthAdjust="spacingAndGlyphs" stroke="#000" stroke-width="0.18">6 Aug 2019</text>
<rect x="198" y="678" width="1" height="3" fill="#000"/>
<text x="196.7" y="690" font-size="10.17" fill="#000" textLength="52.9" lengthAdjust="spacingAndGlyphs" stroke="#000" stroke-width="0.18">24 Aug 2019</text>
<rect x="262" y="678" width="1" height="3" fill="#000"/>
<text x="260.7" y="690" font-size="10.17" fill="#000" textLength="51.5" lengthAdjust="spacingAndGlyphs" stroke="#000" stroke-width="0.18">12 Sep 2019</text>
<rect x="326" y="678" width="1" height="3" fill="#000"/>
<text x="324.7" y="690" font-size="10.17" fill="#000" textLength="44.7" lengthAdjust="spacingAndGlyphs" stroke="#000" stroke-width="0.18">1 Oct 2019</text>
<rect x="390" y="678" width="1" height="3" fill="#000"/>
<text x="388.7" y="690" font-size="10.17" fill="#000" textLength="50.6" lengthAdjust="spacingAndGlyphs" stroke="#000" stroke-width="0.18">19 Oct 2019</text>
<rect x="454" y="678" width="1" height="3" fill="#000"/>
<text x="452.7" y="690" font-size="10.17" fill="#000" textLength="49.2" lengthAdjust="spacingAndGlyphs" stroke="#000" stroke-width="0.18">7 Nov 2019</text>
<rect x="518" y="678" width="1" height="3" fill="#000"/>
<text x="516.7" y="690" font-size="10.17" fill="#000" textLength="53.9" lengthAdjust="spacingAndGlyphs" stroke="#000" stroke-width="0.18">26 Nov 2019</text>
<rect x="582" y="678" width="1" height="3" fill="#000"/>
<text x="580.7" y="690" font-size="10.17" fill="#000" textLength="51.3" lengthAdjust="spacingAndGlyphs" stroke="#000" stroke-width="0.18">14 Dec 2019</text>
<rect x="646" y="678" width="1" height="3" fill="#000"/>
<text x="644.7" y="690" font-size="10.17" fill="#000" textLength="45.3" lengthAdjust="spacingAndGlyphs" stroke="#000" stroke-width="0.18">2 Jan 2020</text>
<rect x="710" y="678" width="1" height="3" fill="#000"/>
<text x="708.7" y="690" font-size="10.17" fill="#000" textLength="50.5" lengthAdjust="spacingAndGlyphs" stroke="#000" stroke-width="0.18">21 Jan 2020</text>
<rect x="774" y="678" width="1" height="3" fill="#000"/>
<text x="772.7" y="690" font-size="10.17" fill="#000" textLength="47.1" lengthAdjust="spacingAndGlyphs" stroke="#000" stroke-width="0.18">8 Feb 2020</text>
<rect x="838" y="678" width="1" height="3" fill="#000"/>
<text x="836.7" y="690" font-size="10.17" fill="#000" textLength="51.8" lengthAdjust="spacingAndGlyphs" stroke="#000" stroke-width="0.18">27 Feb 2020</text>
<rect x="902" y="678" width="1" height="3" fill="#000"/>
<text x="900.7" y="690" font-size="10.17" fill="#000" textLength="51.8" lengthAdjust="spacingAndGlyphs" stroke="#000" stroke-width="0.18">17 Mar 2020</text>
<rect x="966" y="678" width="1" height="3" fill="#000"/>
<text x="964.7" y="690" font-size="10.17" fill="#000" textLength="46.9" lengthAdjust="spacingAndGlyphs" stroke="#000" stroke-width="0.18">4 Apr 2020</text>
<rect x="1030" y="678" width="1" height="3" fill="#000"/>
<text x="1028.7" y="690" font-size="10.17" fill="#000" textLength="51.6" lengthAdjust="spacingAndGlyphs" stroke="#000" stroke-width="0.18">23 Apr 2020</text>
<rect x="1094" y="678" width="1" height="3" fill="#000"/>
<text x="1092.7" y="690" font-size="10.17" fill="#000" textLength="55.0" lengthAdjust="spacingAndGlyphs" stroke="#000" stroke-width="0.18">12 May 2020</text>
<rect x="1158" y="678" width="1" height="3" fill="#000"/>
<text x="1156.7" y="690" font-size="10.17" fill="#000" textLength="55.7" lengthAdjust="spacingAndGlyphs" stroke="#000" stroke-width="0.18">30 May 2020</text>
<rect x="0" y="698" width="1532" height="1" fill="#dcdcdc"/>
<rect x="0" y="699" width="1532" height="1" fill="#f7f7f7"/>
<rect x="0" y="700" width="1532" height="18" fill="#f0f0f0"/>
<rect x="1" y="700" width="1532" height="1" fill="#000"/>
<rect x="8" y="700" width="102" height="18" fill="#fff"/>
<rect x="7" y="700" width="1" height="18" fill="#000"/>
<rect x="110" y="700" width="1" height="18" fill="#000"/>
<rect x="1" y="701" width="1" height="17" fill="#a0a0a0"/>
<text x="19.2" y="715" font-size="12.5" fill="#000" textLength="80.6" lengthAdjust="spacingAndGlyphs">EURUSD,Daily</text>
<text x="121.0" y="715" font-size="12.5" fill="#6e6e6e" textLength="79.4" lengthAdjust="spacingAndGlyphs">USDCHF,Daily</text>
<text x="222.0" y="715" font-size="12.5" fill="#6e6e6e" textLength="81.9" lengthAdjust="spacingAndGlyphs">AUDUSD,Daily</text>
<text x="325.8" y="715" font-size="12.5" fill="#6e6e6e" textLength="82.1" lengthAdjust="spacingAndGlyphs">USDCAD,Daily</text>
<text x="429.0" y="715" font-size="12.5" fill="#6e6e6e" textLength="83.4" lengthAdjust="spacingAndGlyphs">USDCNH,Daily</text>
<text x="535.0" y="715" font-size="12.5" fill="#6e6e6e" textLength="80.1" lengthAdjust="spacingAndGlyphs">EURUSD,Daily</text>
<text x="638.7" y="715" font-size="12.5" fill="#6e6e6e" textLength="80.9" lengthAdjust="spacingAndGlyphs">GBPUSD,Daily</text>
<text x="741.5" y="715" font-size="12.5" fill="#6e6e6e" textLength="70.1" lengthAdjust="spacingAndGlyphs">XAUUSD,H4</text>
<text x="833.7" y="715" font-size="12.5" fill="#6e6e6e" textLength="50.1" lengthAdjust="spacingAndGlyphs">HK50,H1</text>
<text x="905.7" y="715" font-size="12.5" fill="#6e6e6e" textLength="57.6" lengthAdjust="spacingAndGlyphs">UK100,H1</text>
<text x="985.9" y="715" font-size="12.5" fill="#6e6e6e" textLength="57.6" lengthAdjust="spacingAndGlyphs">UK100,H1</text>
<text x="1065.6" y="715" font-size="12.5" fill="#6e6e6e" textLength="57.6" lengthAdjust="spacingAndGlyphs">GER30,H1</text>
<text x="1144.5" y="715" font-size="12.5" fill="#6e6e6e" textLength="55.6" lengthAdjust="spacingAndGlyphs">FRA40,H1</text>
<text x="1220.8" y="715" font-size="12.5" fill="#6e6e6e" textLength="63.9" lengthAdjust="spacingAndGlyphs">USOil,Daily</text>
<text x="1304.8" y="715" font-size="12.5" fill="#6e6e6e" textLength="63.1" lengthAdjust="spacingAndGlyphs">USDJPY,H1</text>
<text x="1388.5" y="715" font-size="12.5" fill="#6e6e6e" textLength="47.6" lengthAdjust="spacingAndGlyphs">DJ30,H1</text>
<rect x="211" y="703" width="1" height="14" fill="#5a5a5a"/>
<rect x="315" y="703" width="1" height="14" fill="#5a5a5a"/>
<rect x="419" y="703" width="1" height="14" fill="#5a5a5a"/>
<rect x="523" y="703" width="1" height="14" fill="#5a5a5a"/>
<rect x="627" y="703" width="1" height="14" fill="#5a5a5a"/>
<rect x="731" y="703" width="1" height="14" fill="#5a5a5a"/>
<rect x="823" y="703" width="1" height="14" fill="#5a5a5a"/>
<rect x="895" y="703" width="1" height="14" fill="#5a5a5a"/>
<rect x="975" y="703" width="1" height="14" fill="#5a5a5a"/>
<rect x="1055" y="703" width="1" height="14" fill="#5a5a5a"/>
<rect x="1135" y="703" width="1" height="14" fill="#5a5a5a"/>
<rect x="1211" y="703" width="1" height="14" fill="#5a5a5a"/>
<rect x="1295" y="703" width="1" height="14" fill="#5a5a5a"/>
<rect x="1379" y="703" width="1" height="14" fill="#5a5a5a"/>
<rect x="1447" y="703" width="1" height="14" fill="#5a5a5a"/>
<path d="M1505 709l3.5-3.5v7z" fill="#a0a0a0"/><path d="M1528.5 709l-3.5-3.5v7z" fill="#a0a0a0"/></svg>
</body></html>
